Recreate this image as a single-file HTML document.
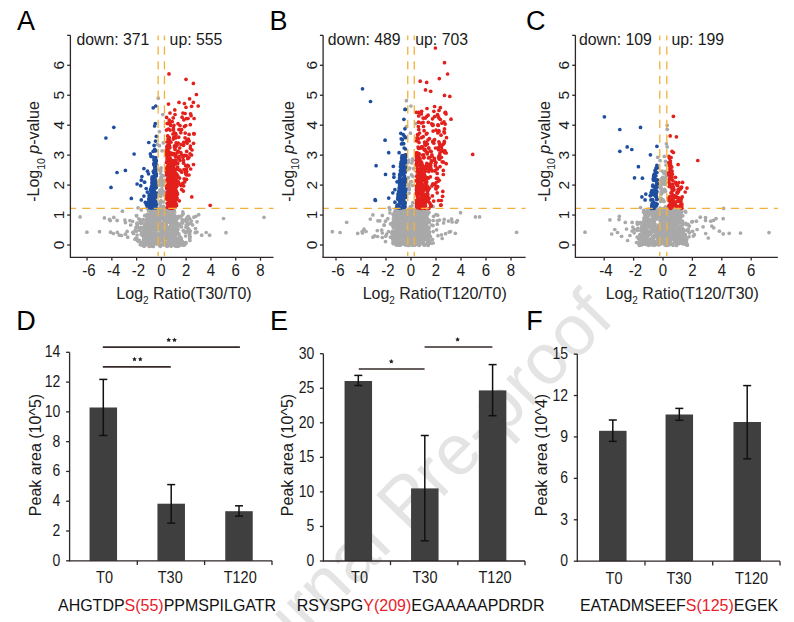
<!DOCTYPE html>
<html><head><meta charset="utf-8"><style>
html,body{margin:0;padding:0;background:#fff;}
svg{display:block;}
text{font-family:"Liberation Sans", sans-serif;}
</style></head><body>
<svg width="794" height="622" viewBox="0 0 794 622">
<text x="229.5" y="715.3" font-size="71.5" fill="#e4e4e4" transform="rotate(-45.6 229.5 715.3)">Journal Pre-proof</text>
<g fill="#a9a9a9"><circle cx="158.3" cy="98.2" r="1.85"/><circle cx="163.3" cy="142.8" r="1.85"/><circle cx="157.3" cy="144.5" r="1.85"/><circle cx="80.1" cy="216.9" r="1.85"/><circle cx="104.4" cy="217.9" r="1.85"/><circle cx="109.5" cy="219.4" r="1.85"/><circle cx="110.3" cy="220.6" r="1.85"/><circle cx="113.8" cy="217.4" r="1.85"/><circle cx="117.1" cy="220.4" r="1.85"/><circle cx="122.4" cy="211.2" r="1.85"/><circle cx="124.9" cy="220.1" r="1.85"/><circle cx="125.4" cy="222.6" r="1.85"/><circle cx="129.9" cy="220.6" r="1.85"/><circle cx="132.5" cy="221.3" r="1.85"/><circle cx="130.7" cy="225.0" r="1.85"/><circle cx="138.0" cy="207.8" r="1.85"/><circle cx="141.3" cy="210.0" r="1.85"/><circle cx="86.9" cy="232.2" r="1.85"/><circle cx="99.5" cy="231.7" r="1.85"/><circle cx="110.6" cy="232.2" r="1.85"/><circle cx="113.3" cy="233.5" r="1.85"/><circle cx="117.3" cy="232.4" r="1.85"/><circle cx="119.4" cy="235.2" r="1.85"/><circle cx="121.4" cy="235.5" r="1.85"/><circle cx="125.4" cy="234.2" r="1.85"/><circle cx="127.2" cy="231.4" r="1.85"/><circle cx="127.7" cy="237.2" r="1.85"/><circle cx="133.5" cy="233.5" r="1.85"/><circle cx="135.0" cy="239.3" r="1.85"/><circle cx="139.3" cy="240.5" r="1.85"/><circle cx="141.7" cy="244.8" r="1.85"/><circle cx="182.8" cy="211.9" r="1.85"/><circle cx="183.2" cy="213.8" r="1.85"/><circle cx="180.7" cy="217.0" r="1.85"/><circle cx="188.2" cy="216.3" r="1.85"/><circle cx="193.9" cy="217.2" r="1.85"/><circle cx="195.8" cy="216.3" r="1.85"/><circle cx="198.7" cy="214.7" r="1.85"/><circle cx="223.5" cy="218.5" r="1.85"/><circle cx="264.0" cy="217.3" r="1.85"/><circle cx="185.7" cy="220.7" r="1.85"/><circle cx="191.4" cy="221.1" r="1.85"/><circle cx="197.0" cy="221.8" r="1.85"/><circle cx="188.2" cy="224.5" r="1.85"/><circle cx="192.6" cy="224.9" r="1.85"/><circle cx="195.5" cy="228.6" r="1.85"/><circle cx="188.6" cy="232.1" r="1.85"/><circle cx="190.4" cy="231.1" r="1.85"/><circle cx="195.2" cy="232.7" r="1.85"/><circle cx="197.0" cy="232.1" r="1.85"/><circle cx="201.7" cy="235.2" r="1.85"/><circle cx="206.2" cy="232.5" r="1.85"/><circle cx="209.6" cy="235.2" r="1.85"/><circle cx="226.0" cy="232.7" r="1.85"/><circle cx="189.9" cy="240.5" r="1.85"/><circle cx="185.7" cy="242.8" r="1.85"/><circle cx="180.7" cy="244.7" r="1.85"/><circle cx="159.0" cy="229.8" r="1.85"/><circle cx="161.3" cy="230.8" r="1.85"/><circle cx="147.8" cy="228.0" r="1.85"/><circle cx="166.5" cy="238.6" r="1.85"/><circle cx="143.8" cy="239.3" r="1.85"/><circle cx="169.1" cy="210.1" r="1.85"/><circle cx="167.5" cy="231.9" r="1.85"/><circle cx="162.2" cy="210.8" r="1.85"/><circle cx="148.0" cy="217.7" r="1.85"/><circle cx="158.5" cy="240.5" r="1.85"/><circle cx="161.8" cy="232.8" r="1.85"/><circle cx="161.0" cy="233.7" r="1.85"/><circle cx="159.2" cy="219.1" r="1.85"/><circle cx="175.3" cy="235.4" r="1.85"/><circle cx="153.2" cy="217.2" r="1.85"/><circle cx="152.1" cy="211.2" r="1.85"/><circle cx="172.2" cy="223.7" r="1.85"/><circle cx="175.6" cy="223.2" r="1.85"/><circle cx="180.2" cy="240.7" r="1.85"/><circle cx="143.1" cy="232.4" r="1.85"/><circle cx="172.7" cy="218.8" r="1.85"/><circle cx="180.5" cy="237.3" r="1.85"/><circle cx="173.5" cy="215.3" r="1.85"/><circle cx="163.5" cy="225.5" r="1.85"/><circle cx="148.0" cy="236.3" r="1.85"/><circle cx="145.5" cy="233.0" r="1.85"/><circle cx="144.9" cy="224.5" r="1.85"/><circle cx="148.9" cy="218.8" r="1.85"/><circle cx="180.8" cy="239.0" r="1.85"/><circle cx="152.8" cy="242.1" r="1.85"/><circle cx="148.8" cy="223.5" r="1.85"/><circle cx="175.9" cy="232.9" r="1.85"/><circle cx="144.2" cy="246.1" r="1.85"/><circle cx="149.0" cy="218.3" r="1.85"/><circle cx="172.5" cy="221.0" r="1.85"/><circle cx="152.4" cy="211.3" r="1.85"/><circle cx="143.8" cy="230.6" r="1.85"/><circle cx="150.2" cy="231.3" r="1.85"/><circle cx="155.6" cy="225.7" r="1.85"/><circle cx="164.1" cy="241.4" r="1.85"/><circle cx="147.7" cy="214.4" r="1.85"/><circle cx="178.2" cy="239.6" r="1.85"/><circle cx="150.5" cy="215.7" r="1.85"/><circle cx="171.1" cy="244.2" r="1.85"/><circle cx="148.3" cy="244.6" r="1.85"/><circle cx="177.1" cy="231.4" r="1.85"/><circle cx="157.7" cy="212.4" r="1.85"/><circle cx="150.0" cy="235.3" r="1.85"/><circle cx="150.8" cy="239.8" r="1.85"/><circle cx="165.1" cy="219.7" r="1.85"/><circle cx="147.4" cy="235.9" r="1.85"/><circle cx="163.5" cy="240.9" r="1.85"/><circle cx="165.8" cy="219.1" r="1.85"/><circle cx="158.7" cy="210.8" r="1.85"/><circle cx="147.4" cy="222.5" r="1.85"/><circle cx="164.0" cy="213.5" r="1.85"/><circle cx="155.2" cy="242.4" r="1.85"/><circle cx="169.0" cy="230.7" r="1.85"/><circle cx="169.4" cy="245.1" r="1.85"/><circle cx="160.3" cy="236.3" r="1.85"/><circle cx="153.4" cy="246.5" r="1.85"/><circle cx="171.0" cy="242.7" r="1.85"/><circle cx="171.0" cy="235.2" r="1.85"/><circle cx="173.3" cy="243.3" r="1.85"/><circle cx="154.8" cy="234.5" r="1.85"/><circle cx="177.8" cy="241.6" r="1.85"/><circle cx="157.5" cy="238.5" r="1.85"/><circle cx="176.3" cy="230.3" r="1.85"/><circle cx="166.2" cy="223.0" r="1.85"/><circle cx="164.5" cy="231.6" r="1.85"/><circle cx="143.4" cy="232.8" r="1.85"/><circle cx="170.6" cy="223.3" r="1.85"/><circle cx="170.9" cy="230.6" r="1.85"/><circle cx="158.5" cy="240.4" r="1.85"/><circle cx="143.5" cy="237.0" r="1.85"/><circle cx="160.2" cy="217.2" r="1.85"/><circle cx="169.3" cy="227.4" r="1.85"/><circle cx="165.8" cy="243.5" r="1.85"/><circle cx="150.7" cy="208.9" r="1.85"/><circle cx="152.6" cy="234.3" r="1.85"/><circle cx="148.5" cy="214.9" r="1.85"/><circle cx="178.0" cy="233.6" r="1.85"/><circle cx="158.6" cy="242.4" r="1.85"/><circle cx="153.7" cy="233.8" r="1.85"/><circle cx="148.3" cy="224.9" r="1.85"/><circle cx="173.9" cy="243.2" r="1.85"/><circle cx="177.0" cy="223.1" r="1.85"/><circle cx="164.5" cy="220.5" r="1.85"/><circle cx="145.7" cy="227.4" r="1.85"/><circle cx="175.2" cy="240.8" r="1.85"/><circle cx="169.9" cy="244.6" r="1.85"/><circle cx="151.6" cy="214.9" r="1.85"/><circle cx="158.9" cy="219.0" r="1.85"/><circle cx="149.0" cy="224.2" r="1.85"/><circle cx="166.3" cy="227.3" r="1.85"/><circle cx="153.2" cy="240.4" r="1.85"/><circle cx="169.8" cy="230.2" r="1.85"/><circle cx="153.0" cy="238.6" r="1.85"/><circle cx="159.1" cy="209.4" r="1.85"/><circle cx="174.8" cy="217.5" r="1.85"/><circle cx="166.4" cy="225.5" r="1.85"/><circle cx="166.5" cy="233.4" r="1.85"/><circle cx="173.9" cy="244.9" r="1.85"/><circle cx="168.7" cy="216.1" r="1.85"/><circle cx="160.0" cy="215.3" r="1.85"/><circle cx="170.0" cy="215.3" r="1.85"/><circle cx="151.4" cy="221.6" r="1.85"/><circle cx="169.3" cy="228.3" r="1.85"/><circle cx="165.8" cy="237.2" r="1.85"/><circle cx="156.5" cy="238.6" r="1.85"/><circle cx="179.2" cy="236.0" r="1.85"/><circle cx="145.5" cy="225.7" r="1.85"/><circle cx="166.3" cy="243.1" r="1.85"/><circle cx="155.8" cy="230.1" r="1.85"/><circle cx="176.9" cy="238.8" r="1.85"/><circle cx="167.4" cy="216.3" r="1.85"/><circle cx="170.3" cy="239.6" r="1.85"/><circle cx="166.9" cy="235.8" r="1.85"/><circle cx="149.0" cy="242.7" r="1.85"/><circle cx="162.6" cy="238.5" r="1.85"/><circle cx="153.5" cy="243.1" r="1.85"/><circle cx="175.9" cy="221.7" r="1.85"/><circle cx="163.1" cy="237.7" r="1.85"/><circle cx="160.5" cy="209.6" r="1.85"/><circle cx="174.0" cy="210.9" r="1.85"/><circle cx="173.6" cy="215.1" r="1.85"/><circle cx="154.1" cy="238.4" r="1.85"/><circle cx="161.7" cy="236.0" r="1.85"/><circle cx="175.3" cy="234.7" r="1.85"/><circle cx="149.3" cy="228.5" r="1.85"/><circle cx="152.2" cy="236.2" r="1.85"/><circle cx="166.8" cy="228.4" r="1.85"/><circle cx="175.4" cy="229.8" r="1.85"/><circle cx="153.1" cy="223.0" r="1.85"/><circle cx="175.5" cy="242.7" r="1.85"/><circle cx="148.7" cy="240.8" r="1.85"/><circle cx="164.1" cy="216.1" r="1.85"/><circle cx="162.5" cy="227.6" r="1.85"/><circle cx="165.4" cy="209.6" r="1.85"/><circle cx="156.8" cy="238.9" r="1.85"/><circle cx="163.6" cy="227.2" r="1.85"/><circle cx="169.0" cy="211.0" r="1.85"/><circle cx="162.6" cy="224.2" r="1.85"/><circle cx="180.2" cy="243.6" r="1.85"/><circle cx="151.3" cy="226.5" r="1.85"/><circle cx="145.3" cy="225.0" r="1.85"/><circle cx="174.3" cy="242.7" r="1.85"/><circle cx="160.0" cy="220.6" r="1.85"/><circle cx="148.0" cy="232.0" r="1.85"/><circle cx="172.7" cy="209.4" r="1.85"/><circle cx="148.2" cy="217.1" r="1.85"/><circle cx="168.9" cy="220.7" r="1.85"/><circle cx="154.9" cy="232.1" r="1.85"/><circle cx="144.4" cy="236.3" r="1.85"/><circle cx="145.2" cy="227.9" r="1.85"/><circle cx="150.5" cy="216.0" r="1.85"/><circle cx="162.3" cy="225.1" r="1.85"/><circle cx="155.8" cy="224.2" r="1.85"/><circle cx="162.2" cy="214.6" r="1.85"/><circle cx="148.6" cy="232.5" r="1.85"/><circle cx="166.8" cy="228.6" r="1.85"/><circle cx="175.8" cy="231.7" r="1.85"/><circle cx="171.1" cy="239.3" r="1.85"/><circle cx="153.2" cy="243.6" r="1.85"/><circle cx="149.2" cy="246.4" r="1.85"/><circle cx="150.1" cy="236.1" r="1.85"/><circle cx="150.9" cy="212.2" r="1.85"/><circle cx="175.0" cy="224.5" r="1.85"/><circle cx="173.2" cy="213.3" r="1.85"/><circle cx="156.9" cy="234.5" r="1.85"/><circle cx="168.7" cy="243.1" r="1.85"/><circle cx="161.2" cy="237.3" r="1.85"/><circle cx="161.1" cy="234.6" r="1.85"/><circle cx="163.2" cy="228.1" r="1.85"/><circle cx="163.9" cy="214.1" r="1.85"/><circle cx="147.8" cy="216.2" r="1.85"/><circle cx="175.3" cy="246.1" r="1.85"/><circle cx="142.6" cy="244.7" r="1.85"/><circle cx="159.4" cy="237.6" r="1.85"/><circle cx="153.7" cy="226.2" r="1.85"/><circle cx="161.6" cy="224.8" r="1.85"/><circle cx="165.2" cy="209.0" r="1.85"/><circle cx="169.4" cy="240.6" r="1.85"/><circle cx="147.6" cy="225.8" r="1.85"/><circle cx="171.1" cy="223.9" r="1.85"/><circle cx="148.2" cy="214.8" r="1.85"/><circle cx="161.5" cy="209.1" r="1.85"/><circle cx="177.5" cy="239.0" r="1.85"/><circle cx="169.6" cy="241.2" r="1.85"/><circle cx="166.4" cy="223.9" r="1.85"/><circle cx="165.2" cy="227.7" r="1.85"/><circle cx="181.3" cy="239.1" r="1.85"/><circle cx="150.8" cy="243.1" r="1.85"/><circle cx="171.3" cy="238.1" r="1.85"/><circle cx="174.2" cy="223.9" r="1.85"/><circle cx="177.7" cy="241.9" r="1.85"/><circle cx="169.2" cy="237.7" r="1.85"/><circle cx="172.1" cy="223.9" r="1.85"/><circle cx="170.4" cy="211.2" r="1.85"/><circle cx="154.4" cy="226.3" r="1.85"/><circle cx="166.8" cy="232.2" r="1.85"/><circle cx="149.7" cy="244.4" r="1.85"/><circle cx="168.0" cy="221.3" r="1.85"/><circle cx="167.7" cy="230.1" r="1.85"/><circle cx="162.4" cy="223.3" r="1.85"/><circle cx="169.5" cy="237.4" r="1.85"/><circle cx="165.8" cy="236.6" r="1.85"/><circle cx="150.8" cy="223.8" r="1.85"/><circle cx="155.8" cy="212.2" r="1.85"/><circle cx="150.5" cy="242.9" r="1.85"/><circle cx="163.1" cy="227.8" r="1.85"/><circle cx="174.0" cy="211.4" r="1.85"/><circle cx="165.1" cy="237.4" r="1.85"/><circle cx="141.9" cy="243.8" r="1.85"/><circle cx="146.7" cy="226.4" r="1.85"/><circle cx="147.1" cy="227.3" r="1.85"/><circle cx="165.7" cy="210.7" r="1.85"/><circle cx="162.1" cy="231.2" r="1.85"/><circle cx="155.4" cy="219.4" r="1.85"/><circle cx="167.5" cy="229.8" r="1.85"/><circle cx="151.9" cy="235.7" r="1.85"/><circle cx="152.4" cy="209.0" r="1.85"/><circle cx="150.3" cy="210.1" r="1.85"/><circle cx="146.6" cy="237.2" r="1.85"/><circle cx="156.4" cy="242.6" r="1.85"/><circle cx="171.4" cy="210.4" r="1.85"/><circle cx="143.1" cy="242.9" r="1.85"/><circle cx="158.0" cy="226.6" r="1.85"/><circle cx="162.0" cy="244.1" r="1.85"/><circle cx="170.4" cy="226.3" r="1.85"/><circle cx="181.1" cy="239.5" r="1.85"/><circle cx="165.4" cy="212.9" r="1.85"/><circle cx="166.2" cy="225.8" r="1.85"/><circle cx="148.6" cy="210.5" r="1.85"/><circle cx="162.2" cy="213.2" r="1.85"/><circle cx="158.6" cy="233.9" r="1.85"/><circle cx="159.1" cy="218.5" r="1.85"/><circle cx="164.5" cy="224.4" r="1.85"/><circle cx="172.7" cy="228.7" r="1.85"/><circle cx="170.8" cy="217.6" r="1.85"/><circle cx="144.8" cy="242.4" r="1.85"/><circle cx="172.9" cy="232.2" r="1.85"/><circle cx="155.1" cy="218.8" r="1.85"/><circle cx="168.8" cy="230.0" r="1.85"/><circle cx="164.9" cy="232.6" r="1.85"/><circle cx="171.6" cy="215.7" r="1.85"/><circle cx="150.5" cy="245.7" r="1.85"/><circle cx="178.5" cy="241.9" r="1.85"/><circle cx="151.4" cy="224.7" r="1.85"/><circle cx="166.2" cy="212.4" r="1.85"/><circle cx="162.7" cy="211.3" r="1.85"/><circle cx="143.6" cy="234.2" r="1.85"/><circle cx="163.1" cy="232.5" r="1.85"/><circle cx="155.7" cy="226.7" r="1.85"/><circle cx="148.8" cy="221.6" r="1.85"/><circle cx="171.3" cy="240.4" r="1.85"/><circle cx="174.0" cy="232.2" r="1.85"/><circle cx="172.3" cy="216.6" r="1.85"/><circle cx="157.8" cy="218.3" r="1.85"/><circle cx="174.0" cy="222.5" r="1.85"/><circle cx="167.5" cy="246.1" r="1.85"/><circle cx="153.7" cy="229.3" r="1.85"/><circle cx="171.3" cy="243.5" r="1.85"/><circle cx="158.0" cy="222.5" r="1.85"/><circle cx="144.1" cy="241.8" r="1.85"/><circle cx="163.7" cy="226.9" r="1.85"/><circle cx="168.8" cy="219.9" r="1.85"/><circle cx="172.6" cy="211.4" r="1.85"/><circle cx="149.0" cy="233.7" r="1.85"/><circle cx="170.4" cy="234.9" r="1.85"/><circle cx="151.9" cy="213.9" r="1.85"/><circle cx="155.0" cy="236.1" r="1.85"/><circle cx="155.4" cy="213.0" r="1.85"/><circle cx="169.8" cy="230.1" r="1.85"/><circle cx="178.6" cy="244.2" r="1.85"/><circle cx="173.7" cy="220.1" r="1.85"/><circle cx="153.3" cy="223.7" r="1.85"/><circle cx="179.3" cy="242.5" r="1.85"/><circle cx="150.4" cy="222.2" r="1.85"/><circle cx="155.4" cy="222.3" r="1.85"/><circle cx="156.6" cy="223.2" r="1.85"/><circle cx="148.2" cy="229.9" r="1.85"/><circle cx="173.5" cy="229.0" r="1.85"/><circle cx="175.1" cy="229.9" r="1.85"/><circle cx="147.4" cy="237.3" r="1.85"/><circle cx="162.9" cy="230.1" r="1.85"/><circle cx="173.8" cy="210.9" r="1.85"/><circle cx="163.0" cy="238.4" r="1.85"/><circle cx="171.0" cy="242.7" r="1.85"/><circle cx="143.6" cy="232.6" r="1.85"/><circle cx="146.0" cy="236.8" r="1.85"/><circle cx="167.3" cy="217.8" r="1.85"/><circle cx="149.3" cy="237.6" r="1.85"/><circle cx="161.9" cy="237.6" r="1.85"/><circle cx="156.6" cy="221.3" r="1.85"/><circle cx="160.7" cy="228.9" r="1.85"/><circle cx="170.3" cy="235.4" r="1.85"/><circle cx="174.7" cy="233.8" r="1.85"/><circle cx="175.8" cy="239.1" r="1.85"/><circle cx="175.0" cy="242.3" r="1.85"/><circle cx="162.0" cy="235.5" r="1.85"/><circle cx="173.7" cy="224.5" r="1.85"/><circle cx="157.7" cy="214.1" r="1.85"/><circle cx="171.1" cy="246.2" r="1.85"/><circle cx="155.8" cy="214.9" r="1.85"/><circle cx="148.6" cy="224.6" r="1.85"/><circle cx="152.3" cy="245.4" r="1.85"/><circle cx="144.8" cy="233.1" r="1.85"/><circle cx="172.6" cy="215.3" r="1.85"/><circle cx="164.5" cy="243.1" r="1.85"/><circle cx="147.8" cy="216.8" r="1.85"/><circle cx="149.9" cy="235.8" r="1.85"/><circle cx="165.0" cy="217.0" r="1.85"/><circle cx="147.8" cy="219.2" r="1.85"/><circle cx="147.2" cy="237.3" r="1.85"/><circle cx="153.1" cy="229.3" r="1.85"/><circle cx="174.3" cy="226.7" r="1.85"/><circle cx="150.9" cy="242.2" r="1.85"/><circle cx="163.0" cy="244.9" r="1.85"/><circle cx="160.3" cy="216.9" r="1.85"/><circle cx="142.1" cy="244.5" r="1.85"/><circle cx="173.7" cy="223.1" r="1.85"/><circle cx="162.2" cy="228.1" r="1.85"/><circle cx="151.5" cy="246.1" r="1.85"/><circle cx="167.6" cy="217.5" r="1.85"/><circle cx="155.6" cy="238.8" r="1.85"/><circle cx="170.0" cy="231.5" r="1.85"/><circle cx="153.5" cy="218.4" r="1.85"/><circle cx="176.5" cy="228.1" r="1.85"/><circle cx="166.8" cy="246.2" r="1.85"/><circle cx="151.2" cy="228.8" r="1.85"/><circle cx="146.3" cy="237.8" r="1.85"/><circle cx="175.5" cy="239.7" r="1.85"/><circle cx="170.1" cy="212.2" r="1.85"/><circle cx="160.2" cy="226.3" r="1.85"/><circle cx="176.0" cy="220.0" r="1.85"/><circle cx="173.2" cy="224.3" r="1.85"/><circle cx="174.7" cy="216.4" r="1.85"/><circle cx="162.8" cy="228.5" r="1.85"/><circle cx="146.6" cy="240.1" r="1.85"/><circle cx="153.1" cy="220.3" r="1.85"/><circle cx="159.6" cy="235.7" r="1.85"/><circle cx="155.1" cy="234.6" r="1.85"/><circle cx="159.4" cy="245.2" r="1.85"/><circle cx="174.8" cy="233.3" r="1.85"/><circle cx="169.8" cy="217.5" r="1.85"/><circle cx="163.7" cy="225.9" r="1.85"/><circle cx="173.6" cy="216.4" r="1.85"/><circle cx="165.9" cy="219.5" r="1.85"/><circle cx="155.8" cy="229.0" r="1.85"/><circle cx="152.5" cy="221.3" r="1.85"/><circle cx="156.5" cy="233.8" r="1.85"/><circle cx="150.8" cy="216.1" r="1.85"/><circle cx="170.7" cy="221.0" r="1.85"/><circle cx="170.4" cy="221.1" r="1.85"/><circle cx="174.7" cy="212.0" r="1.85"/><circle cx="168.5" cy="235.4" r="1.85"/><circle cx="147.6" cy="223.8" r="1.85"/><circle cx="175.2" cy="231.0" r="1.85"/><circle cx="157.1" cy="211.3" r="1.85"/><circle cx="161.5" cy="233.1" r="1.85"/><circle cx="172.2" cy="239.7" r="1.85"/><circle cx="156.2" cy="221.1" r="1.85"/><circle cx="157.3" cy="209.1" r="1.85"/><circle cx="156.8" cy="235.1" r="1.85"/><circle cx="181.2" cy="238.5" r="1.85"/><circle cx="167.7" cy="231.6" r="1.85"/><circle cx="154.4" cy="233.2" r="1.85"/><circle cx="161.4" cy="238.5" r="1.85"/><circle cx="174.7" cy="231.7" r="1.85"/><circle cx="146.7" cy="237.6" r="1.85"/><circle cx="177.9" cy="229.3" r="1.85"/><circle cx="154.8" cy="227.5" r="1.85"/><circle cx="146.0" cy="235.6" r="1.85"/><circle cx="170.0" cy="240.2" r="1.85"/><circle cx="148.3" cy="244.4" r="1.85"/><circle cx="166.3" cy="216.0" r="1.85"/><circle cx="164.2" cy="235.0" r="1.85"/><circle cx="153.8" cy="243.8" r="1.85"/><circle cx="155.2" cy="226.1" r="1.85"/><circle cx="145.2" cy="245.5" r="1.85"/><circle cx="145.7" cy="242.9" r="1.85"/><circle cx="162.8" cy="229.8" r="1.85"/><circle cx="163.5" cy="218.5" r="1.85"/><circle cx="178.2" cy="246.2" r="1.85"/><circle cx="174.3" cy="231.4" r="1.85"/><circle cx="145.2" cy="239.8" r="1.85"/><circle cx="152.1" cy="242.6" r="1.85"/><circle cx="150.1" cy="230.3" r="1.85"/><circle cx="174.9" cy="215.6" r="1.85"/><circle cx="163.0" cy="211.4" r="1.85"/><circle cx="167.7" cy="220.2" r="1.85"/><circle cx="168.2" cy="236.5" r="1.85"/><circle cx="156.0" cy="231.0" r="1.85"/><circle cx="173.8" cy="209.1" r="1.85"/><circle cx="148.4" cy="226.3" r="1.85"/><circle cx="146.0" cy="223.2" r="1.85"/><circle cx="163.9" cy="215.1" r="1.85"/><circle cx="161.8" cy="218.5" r="1.85"/><circle cx="163.9" cy="221.1" r="1.85"/><circle cx="167.0" cy="209.9" r="1.85"/><circle cx="168.2" cy="214.0" r="1.85"/><circle cx="159.7" cy="224.1" r="1.85"/><circle cx="166.2" cy="234.7" r="1.85"/><circle cx="171.8" cy="237.1" r="1.85"/><circle cx="160.4" cy="246.3" r="1.85"/><circle cx="175.2" cy="241.0" r="1.85"/><circle cx="157.2" cy="225.0" r="1.85"/><circle cx="163.8" cy="242.9" r="1.85"/><circle cx="162.1" cy="228.5" r="1.85"/><circle cx="158.2" cy="242.9" r="1.85"/><circle cx="153.5" cy="210.6" r="1.85"/><circle cx="170.5" cy="242.7" r="1.85"/><circle cx="170.7" cy="231.2" r="1.85"/><circle cx="171.6" cy="220.1" r="1.85"/><circle cx="164.9" cy="211.2" r="1.85"/><circle cx="145.2" cy="225.5" r="1.85"/><circle cx="161.1" cy="223.6" r="1.85"/><circle cx="142.2" cy="234.9" r="1.85"/><circle cx="162.1" cy="217.6" r="1.85"/><circle cx="152.9" cy="223.5" r="1.85"/><circle cx="149.9" cy="211.1" r="1.85"/><circle cx="178.3" cy="245.2" r="1.85"/><circle cx="168.0" cy="241.4" r="1.85"/><circle cx="157.7" cy="239.1" r="1.85"/><circle cx="149.3" cy="236.9" r="1.85"/><circle cx="163.8" cy="242.8" r="1.85"/><circle cx="144.1" cy="238.6" r="1.85"/><circle cx="145.2" cy="228.9" r="1.85"/><circle cx="150.2" cy="219.9" r="1.85"/><circle cx="153.6" cy="210.9" r="1.85"/><circle cx="177.6" cy="239.5" r="1.85"/><circle cx="156.7" cy="222.0" r="1.85"/><circle cx="164.6" cy="210.2" r="1.85"/><circle cx="141.3" cy="242.6" r="1.85"/><circle cx="152.9" cy="227.4" r="1.85"/><circle cx="179.2" cy="245.6" r="1.85"/><circle cx="159.9" cy="216.3" r="1.85"/><circle cx="152.4" cy="243.6" r="1.85"/><circle cx="175.2" cy="222.0" r="1.85"/><circle cx="159.8" cy="215.0" r="1.85"/><circle cx="176.9" cy="246.3" r="1.85"/><circle cx="148.5" cy="232.5" r="1.85"/><circle cx="148.0" cy="241.9" r="1.85"/><circle cx="170.5" cy="220.4" r="1.85"/><circle cx="177.8" cy="241.5" r="1.85"/><circle cx="170.0" cy="213.6" r="1.85"/><circle cx="169.2" cy="244.1" r="1.85"/><circle cx="158.7" cy="211.5" r="1.85"/><circle cx="149.4" cy="220.2" r="1.85"/><circle cx="169.8" cy="216.0" r="1.85"/><circle cx="147.6" cy="217.4" r="1.85"/><circle cx="167.9" cy="238.5" r="1.85"/><circle cx="155.6" cy="233.7" r="1.85"/><circle cx="177.1" cy="230.9" r="1.85"/><circle cx="149.6" cy="219.9" r="1.85"/><circle cx="178.9" cy="233.8" r="1.85"/><circle cx="151.6" cy="232.8" r="1.85"/><circle cx="143.8" cy="245.9" r="1.85"/><circle cx="158.5" cy="228.6" r="1.85"/><circle cx="162.3" cy="210.2" r="1.85"/><circle cx="165.2" cy="219.3" r="1.85"/><circle cx="150.5" cy="239.0" r="1.85"/><circle cx="171.7" cy="217.8" r="1.85"/><circle cx="151.7" cy="229.3" r="1.85"/><circle cx="147.8" cy="242.6" r="1.85"/><circle cx="159.4" cy="237.0" r="1.85"/><circle cx="156.2" cy="243.8" r="1.85"/><circle cx="161.0" cy="215.3" r="1.85"/><circle cx="163.4" cy="233.0" r="1.85"/><circle cx="155.1" cy="233.5" r="1.85"/><circle cx="172.9" cy="228.1" r="1.85"/><circle cx="161.2" cy="240.6" r="1.85"/><circle cx="168.7" cy="228.3" r="1.85"/><circle cx="172.7" cy="214.8" r="1.85"/><circle cx="165.5" cy="217.4" r="1.85"/><circle cx="158.5" cy="237.9" r="1.85"/><circle cx="173.0" cy="238.6" r="1.85"/><circle cx="149.9" cy="227.1" r="1.85"/><circle cx="149.3" cy="230.5" r="1.85"/><circle cx="161.0" cy="209.8" r="1.85"/><circle cx="165.1" cy="235.7" r="1.85"/><circle cx="164.1" cy="241.7" r="1.85"/><circle cx="147.6" cy="214.3" r="1.85"/><circle cx="158.3" cy="225.3" r="1.85"/><circle cx="151.0" cy="238.8" r="1.85"/><circle cx="143.0" cy="243.0" r="1.85"/><circle cx="163.9" cy="229.1" r="1.85"/><circle cx="173.2" cy="217.5" r="1.85"/><circle cx="146.1" cy="220.3" r="1.85"/><circle cx="166.1" cy="228.5" r="1.85"/><circle cx="151.1" cy="230.9" r="1.85"/><circle cx="143.7" cy="239.7" r="1.85"/><circle cx="147.2" cy="218.2" r="1.85"/><circle cx="146.7" cy="234.7" r="1.85"/><circle cx="174.9" cy="238.4" r="1.85"/><circle cx="155.3" cy="216.7" r="1.85"/><circle cx="160.6" cy="237.4" r="1.85"/><circle cx="159.1" cy="236.8" r="1.85"/><circle cx="156.5" cy="219.8" r="1.85"/><circle cx="157.8" cy="211.4" r="1.85"/><circle cx="172.1" cy="236.4" r="1.85"/><circle cx="149.7" cy="218.1" r="1.85"/><circle cx="163.2" cy="217.7" r="1.85"/><circle cx="159.4" cy="243.9" r="1.85"/><circle cx="155.3" cy="221.3" r="1.85"/><circle cx="167.3" cy="210.7" r="1.85"/><circle cx="154.4" cy="234.9" r="1.85"/><circle cx="176.3" cy="230.9" r="1.85"/><circle cx="177.2" cy="226.1" r="1.85"/><circle cx="156.5" cy="240.5" r="1.85"/><circle cx="156.0" cy="238.2" r="1.85"/><circle cx="149.0" cy="221.7" r="1.85"/><circle cx="147.7" cy="229.4" r="1.85"/><circle cx="146.9" cy="216.2" r="1.85"/><circle cx="149.0" cy="226.3" r="1.85"/><circle cx="153.0" cy="225.5" r="1.85"/><circle cx="156.1" cy="211.3" r="1.85"/><circle cx="169.0" cy="222.3" r="1.85"/><circle cx="151.5" cy="209.2" r="1.85"/><circle cx="147.6" cy="218.5" r="1.85"/><circle cx="156.5" cy="243.6" r="1.85"/><circle cx="170.0" cy="218.7" r="1.85"/><circle cx="155.2" cy="214.3" r="1.85"/><circle cx="172.2" cy="236.0" r="1.85"/><circle cx="153.5" cy="223.1" r="1.85"/><circle cx="143.5" cy="242.0" r="1.85"/><circle cx="153.7" cy="237.8" r="1.85"/><circle cx="161.8" cy="210.6" r="1.85"/><circle cx="156.5" cy="217.6" r="1.85"/><circle cx="165.0" cy="209.7" r="1.85"/><circle cx="153.1" cy="224.6" r="1.85"/><circle cx="162.8" cy="213.7" r="1.85"/><circle cx="169.7" cy="218.4" r="1.85"/><circle cx="170.5" cy="233.8" r="1.85"/><circle cx="151.8" cy="235.6" r="1.85"/><circle cx="157.0" cy="223.2" r="1.85"/><circle cx="152.3" cy="221.6" r="1.85"/><circle cx="149.1" cy="210.0" r="1.85"/><circle cx="163.8" cy="239.2" r="1.85"/><circle cx="168.2" cy="243.4" r="1.85"/><circle cx="149.1" cy="234.7" r="1.85"/><circle cx="168.0" cy="244.8" r="1.85"/><circle cx="166.6" cy="211.9" r="1.85"/><circle cx="158.0" cy="223.4" r="1.85"/><circle cx="153.8" cy="227.4" r="1.85"/><circle cx="151.8" cy="214.5" r="1.85"/><circle cx="156.9" cy="226.6" r="1.85"/><circle cx="147.0" cy="233.8" r="1.85"/><circle cx="150.1" cy="212.0" r="1.85"/><circle cx="154.4" cy="224.5" r="1.85"/><circle cx="146.3" cy="230.6" r="1.85"/><circle cx="169.5" cy="229.5" r="1.85"/><circle cx="169.4" cy="209.4" r="1.85"/><circle cx="156.4" cy="222.3" r="1.85"/><circle cx="164.6" cy="226.3" r="1.85"/><circle cx="153.7" cy="218.1" r="1.85"/><circle cx="177.5" cy="230.0" r="1.85"/><circle cx="151.0" cy="233.9" r="1.85"/><circle cx="147.8" cy="226.3" r="1.85"/><circle cx="165.8" cy="244.8" r="1.85"/><circle cx="155.2" cy="230.4" r="1.85"/><circle cx="179.6" cy="237.8" r="1.85"/><circle cx="166.3" cy="232.1" r="1.85"/><circle cx="157.3" cy="224.3" r="1.85"/><circle cx="151.6" cy="240.0" r="1.85"/><circle cx="176.9" cy="223.0" r="1.85"/><circle cx="145.7" cy="227.8" r="1.85"/><circle cx="153.0" cy="222.2" r="1.85"/><circle cx="148.1" cy="217.2" r="1.85"/><circle cx="168.6" cy="217.4" r="1.85"/><circle cx="156.5" cy="217.6" r="1.85"/><circle cx="160.7" cy="233.2" r="1.85"/><circle cx="163.0" cy="232.2" r="1.85"/><circle cx="163.6" cy="240.1" r="1.85"/><circle cx="154.6" cy="242.2" r="1.85"/><circle cx="153.2" cy="235.7" r="1.85"/><circle cx="169.2" cy="234.6" r="1.85"/><circle cx="180.5" cy="239.8" r="1.85"/><circle cx="146.7" cy="232.1" r="1.85"/><circle cx="160.6" cy="229.9" r="1.85"/><circle cx="155.5" cy="219.4" r="1.85"/><circle cx="171.5" cy="228.8" r="1.85"/><circle cx="150.0" cy="218.0" r="1.85"/><circle cx="153.6" cy="215.3" r="1.85"/><circle cx="161.6" cy="213.3" r="1.85"/><circle cx="144.3" cy="235.3" r="1.85"/><circle cx="144.7" cy="225.7" r="1.85"/><circle cx="172.4" cy="226.8" r="1.85"/><circle cx="146.8" cy="241.4" r="1.85"/><circle cx="150.7" cy="227.8" r="1.85"/><circle cx="173.5" cy="223.4" r="1.85"/><circle cx="170.1" cy="218.1" r="1.85"/><circle cx="170.1" cy="220.9" r="1.85"/><circle cx="154.0" cy="237.4" r="1.85"/><circle cx="175.4" cy="240.0" r="1.85"/><circle cx="163.8" cy="224.5" r="1.85"/><circle cx="169.7" cy="232.2" r="1.85"/><circle cx="174.9" cy="238.9" r="1.85"/><circle cx="145.3" cy="222.8" r="1.85"/><circle cx="141.4" cy="222.3" r="1.85"/><circle cx="140.2" cy="244.6" r="1.85"/><circle cx="141.6" cy="228.2" r="1.85"/><circle cx="140.8" cy="227.5" r="1.85"/><circle cx="136.0" cy="238.0" r="1.85"/><circle cx="136.6" cy="215.8" r="1.85"/><circle cx="139.6" cy="230.2" r="1.85"/><circle cx="137.2" cy="224.7" r="1.85"/><circle cx="136.0" cy="227.3" r="1.85"/><circle cx="141.7" cy="232.2" r="1.85"/><circle cx="143.2" cy="219.6" r="1.85"/><circle cx="138.8" cy="218.8" r="1.85"/><circle cx="136.5" cy="215.6" r="1.85"/><circle cx="139.9" cy="219.5" r="1.85"/><circle cx="140.8" cy="223.6" r="1.85"/><circle cx="135.2" cy="230.2" r="1.85"/><circle cx="137.1" cy="223.2" r="1.85"/><circle cx="144.5" cy="224.7" r="1.85"/><circle cx="138.8" cy="228.1" r="1.85"/><circle cx="143.3" cy="227.5" r="1.85"/><circle cx="132.8" cy="232.3" r="1.85"/><circle cx="141.2" cy="234.6" r="1.85"/><circle cx="138.2" cy="241.3" r="1.85"/><circle cx="142.1" cy="220.5" r="1.85"/><circle cx="137.0" cy="238.7" r="1.85"/><circle cx="136.3" cy="231.2" r="1.85"/><circle cx="145.4" cy="215.3" r="1.85"/><circle cx="139.4" cy="240.5" r="1.85"/><circle cx="137.6" cy="240.3" r="1.85"/><circle cx="141.9" cy="222.9" r="1.85"/><circle cx="144.7" cy="215.7" r="1.85"/><circle cx="140.1" cy="222.2" r="1.85"/><circle cx="137.4" cy="226.6" r="1.85"/><circle cx="137.1" cy="235.1" r="1.85"/><circle cx="137.0" cy="223.8" r="1.85"/><circle cx="190.5" cy="223.1" r="1.85"/><circle cx="177.5" cy="223.6" r="1.85"/><circle cx="187.9" cy="219.3" r="1.85"/><circle cx="187.9" cy="230.8" r="1.85"/><circle cx="186.9" cy="218.1" r="1.85"/><circle cx="177.7" cy="216.9" r="1.85"/><circle cx="181.6" cy="226.9" r="1.85"/><circle cx="182.5" cy="223.1" r="1.85"/><circle cx="184.6" cy="244.9" r="1.85"/><circle cx="182.9" cy="245.2" r="1.85"/><circle cx="179.5" cy="226.1" r="1.85"/><circle cx="187.3" cy="218.1" r="1.85"/><circle cx="178.9" cy="224.3" r="1.85"/><circle cx="186.2" cy="225.0" r="1.85"/><circle cx="186.3" cy="219.3" r="1.85"/><circle cx="185.9" cy="242.6" r="1.85"/><circle cx="189.7" cy="233.7" r="1.85"/><circle cx="184.1" cy="231.6" r="1.85"/><circle cx="187.0" cy="227.6" r="1.85"/><circle cx="186.6" cy="226.5" r="1.85"/><circle cx="182.2" cy="219.9" r="1.85"/><circle cx="185.6" cy="231.8" r="1.85"/><circle cx="186.0" cy="227.4" r="1.85"/><circle cx="185.5" cy="232.5" r="1.85"/><circle cx="187.8" cy="222.8" r="1.85"/><circle cx="182.4" cy="241.9" r="1.85"/><circle cx="183.9" cy="220.1" r="1.85"/><circle cx="189.4" cy="234.4" r="1.85"/><circle cx="188.8" cy="229.7" r="1.85"/><circle cx="189.9" cy="236.6" r="1.85"/><circle cx="183.3" cy="230.5" r="1.85"/><circle cx="189.8" cy="218.8" r="1.85"/><circle cx="188.6" cy="228.9" r="1.85"/><circle cx="189.7" cy="238.6" r="1.85"/><circle cx="184.8" cy="243.2" r="1.85"/><circle cx="188.7" cy="217.2" r="1.85"/><circle cx="181.9" cy="215.5" r="1.85"/><circle cx="177.9" cy="218.3" r="1.85"/><circle cx="182.2" cy="241.3" r="1.85"/><circle cx="185.9" cy="243.1" r="1.85"/><circle cx="190.0" cy="237.1" r="1.85"/><circle cx="181.4" cy="222.9" r="1.85"/><circle cx="186.1" cy="221.6" r="1.85"/><circle cx="185.6" cy="236.0" r="1.85"/><circle cx="178.9" cy="216.4" r="1.85"/><circle cx="162.5" cy="185.3" r="1.85"/><circle cx="159.3" cy="170.0" r="1.85"/><circle cx="163.9" cy="191.5" r="1.85"/><circle cx="160.6" cy="173.5" r="1.85"/><circle cx="164.2" cy="195.1" r="1.85"/><circle cx="162.7" cy="180.7" r="1.85"/><circle cx="160.3" cy="182.8" r="1.85"/><circle cx="159.4" cy="192.5" r="1.85"/><circle cx="161.0" cy="200.7" r="1.85"/><circle cx="160.9" cy="184.9" r="1.85"/><circle cx="161.4" cy="206.0" r="1.85"/><circle cx="160.5" cy="195.6" r="1.85"/><circle cx="159.9" cy="190.2" r="1.85"/><circle cx="160.2" cy="203.0" r="1.85"/><circle cx="160.2" cy="202.2" r="1.85"/><circle cx="162.4" cy="184.8" r="1.85"/><circle cx="163.8" cy="181.9" r="1.85"/><circle cx="162.8" cy="191.2" r="1.85"/><circle cx="161.1" cy="167.8" r="1.85"/><circle cx="160.9" cy="177.2" r="1.85"/><circle cx="161.1" cy="206.5" r="1.85"/><circle cx="160.2" cy="195.2" r="1.85"/><circle cx="162.4" cy="175.6" r="1.85"/><circle cx="160.9" cy="170.7" r="1.85"/><circle cx="163.6" cy="175.9" r="1.85"/><circle cx="161.0" cy="179.9" r="1.85"/><circle cx="163.2" cy="202.0" r="1.85"/><circle cx="161.9" cy="188.7" r="1.85"/><circle cx="159.2" cy="204.0" r="1.85"/><circle cx="159.1" cy="180.8" r="1.85"/><circle cx="160.7" cy="196.5" r="1.85"/><circle cx="162.3" cy="180.0" r="1.85"/><circle cx="163.6" cy="206.3" r="1.85"/><circle cx="158.7" cy="192.5" r="1.85"/><circle cx="161.2" cy="180.7" r="1.85"/><circle cx="161.2" cy="178.7" r="1.85"/><circle cx="162.4" cy="191.3" r="1.85"/><circle cx="164.0" cy="207.5" r="1.85"/><circle cx="164.2" cy="182.2" r="1.85"/><circle cx="163.2" cy="193.3" r="1.85"/><circle cx="162.5" cy="208.4" r="1.85"/><circle cx="159.0" cy="185.1" r="1.85"/><circle cx="160.8" cy="193.5" r="1.85"/><circle cx="159.8" cy="208.1" r="1.85"/><circle cx="159.8" cy="181.1" r="1.85"/><circle cx="159.4" cy="131.7" r="1.85"/><circle cx="162.8" cy="114.6" r="1.85"/><circle cx="159.5" cy="145.7" r="1.85"/><circle cx="162.1" cy="150.8" r="1.85"/></g><g fill="#1f4ea0"><circle cx="113.8" cy="127.3" r="1.85"/><circle cx="105.9" cy="138.0" r="1.85"/><circle cx="134.1" cy="154.0" r="1.85"/><circle cx="153.2" cy="107.8" r="1.85"/><circle cx="155.8" cy="106.0" r="1.85"/><circle cx="154.6" cy="126.0" r="1.85"/><circle cx="155.3" cy="123.5" r="1.85"/><circle cx="156.3" cy="136.3" r="1.85"/><circle cx="148.8" cy="142.5" r="1.85"/><circle cx="155.5" cy="141.1" r="1.85"/><circle cx="154.1" cy="145.4" r="1.85"/><circle cx="150.4" cy="153.9" r="1.85"/><circle cx="153.2" cy="151.3" r="1.85"/><circle cx="155.7" cy="150.8" r="1.85"/><circle cx="151.0" cy="156.4" r="1.85"/><circle cx="153.2" cy="157.0" r="1.85"/><circle cx="143.9" cy="168.6" r="1.85"/><circle cx="147.5" cy="171.2" r="1.85"/><circle cx="148.5" cy="173.8" r="1.85"/><circle cx="125.4" cy="170.4" r="1.85"/><circle cx="117.0" cy="172.5" r="1.85"/><circle cx="111.0" cy="187.4" r="1.85"/><circle cx="141.9" cy="176.6" r="1.85"/><circle cx="141.3" cy="180.2" r="1.85"/><circle cx="144.6" cy="182.2" r="1.85"/><circle cx="137.1" cy="184.0" r="1.85"/><circle cx="140.7" cy="185.7" r="1.85"/><circle cx="146.2" cy="188.5" r="1.85"/><circle cx="147.3" cy="192.1" r="1.85"/><circle cx="143.9" cy="196.1" r="1.85"/><circle cx="131.3" cy="198.4" r="1.85"/><circle cx="141.3" cy="199.9" r="1.85"/><circle cx="145.3" cy="202.3" r="1.85"/><circle cx="146.4" cy="204.8" r="1.85"/><circle cx="149.0" cy="199.3" r="1.85"/><circle cx="153.8" cy="197.6" r="1.85"/><circle cx="155.9" cy="203.4" r="1.85"/><circle cx="151.8" cy="185.9" r="1.85"/><circle cx="154.2" cy="172.0" r="1.85"/><circle cx="152.0" cy="182.3" r="1.85"/><circle cx="154.9" cy="165.1" r="1.85"/><circle cx="154.9" cy="167.5" r="1.85"/><circle cx="156.1" cy="185.5" r="1.85"/><circle cx="150.5" cy="189.7" r="1.85"/><circle cx="155.1" cy="206.7" r="1.85"/><circle cx="153.8" cy="194.6" r="1.85"/><circle cx="149.5" cy="206.9" r="1.85"/><circle cx="152.9" cy="201.1" r="1.85"/><circle cx="147.6" cy="204.6" r="1.85"/><circle cx="153.0" cy="203.0" r="1.85"/><circle cx="155.9" cy="187.5" r="1.85"/><circle cx="151.5" cy="203.8" r="1.85"/><circle cx="153.8" cy="172.5" r="1.85"/><circle cx="151.9" cy="179.4" r="1.85"/><circle cx="153.9" cy="183.6" r="1.85"/><circle cx="156.1" cy="160.3" r="1.85"/><circle cx="152.4" cy="206.6" r="1.85"/><circle cx="152.5" cy="188.6" r="1.85"/><circle cx="151.6" cy="196.6" r="1.85"/><circle cx="154.4" cy="180.6" r="1.85"/><circle cx="155.0" cy="179.5" r="1.85"/><circle cx="147.3" cy="207.7" r="1.85"/><circle cx="154.8" cy="175.9" r="1.85"/><circle cx="149.7" cy="199.7" r="1.85"/><circle cx="154.3" cy="191.2" r="1.85"/><circle cx="152.0" cy="205.0" r="1.85"/><circle cx="155.8" cy="196.5" r="1.85"/><circle cx="153.8" cy="180.3" r="1.85"/><circle cx="153.2" cy="207.7" r="1.85"/><circle cx="155.6" cy="163.6" r="1.85"/><circle cx="154.3" cy="181.4" r="1.85"/><circle cx="154.0" cy="178.3" r="1.85"/><circle cx="153.8" cy="163.5" r="1.85"/><circle cx="153.1" cy="186.6" r="1.85"/><circle cx="149.6" cy="206.3" r="1.85"/><circle cx="152.1" cy="204.7" r="1.85"/><circle cx="151.8" cy="200.7" r="1.85"/><circle cx="147.7" cy="202.4" r="1.85"/><circle cx="153.2" cy="205.0" r="1.85"/><circle cx="151.4" cy="193.4" r="1.85"/><circle cx="150.4" cy="197.8" r="1.85"/><circle cx="152.4" cy="185.2" r="1.85"/><circle cx="154.9" cy="177.4" r="1.85"/><circle cx="152.3" cy="183.3" r="1.85"/><circle cx="156.2" cy="175.9" r="1.85"/><circle cx="153.4" cy="171.3" r="1.85"/><circle cx="149.1" cy="195.4" r="1.85"/><circle cx="150.2" cy="194.7" r="1.85"/><circle cx="150.8" cy="190.0" r="1.85"/><circle cx="152.1" cy="207.3" r="1.85"/><circle cx="155.5" cy="182.1" r="1.85"/><circle cx="154.0" cy="165.0" r="1.85"/><circle cx="149.5" cy="201.1" r="1.85"/><circle cx="152.1" cy="186.7" r="1.85"/><circle cx="155.9" cy="197.1" r="1.85"/><circle cx="154.5" cy="164.7" r="1.85"/><circle cx="154.3" cy="170.6" r="1.85"/><circle cx="154.1" cy="188.2" r="1.85"/><circle cx="155.4" cy="204.8" r="1.85"/><circle cx="153.3" cy="177.7" r="1.85"/><circle cx="155.9" cy="194.9" r="1.85"/><circle cx="149.4" cy="201.6" r="1.85"/><circle cx="153.7" cy="172.8" r="1.85"/><circle cx="155.2" cy="167.8" r="1.85"/><circle cx="155.0" cy="201.5" r="1.85"/><circle cx="152.6" cy="186.4" r="1.85"/><circle cx="153.8" cy="185.9" r="1.85"/><circle cx="153.1" cy="204.6" r="1.85"/><circle cx="154.2" cy="172.6" r="1.85"/><circle cx="150.1" cy="198.2" r="1.85"/><circle cx="150.2" cy="195.4" r="1.85"/><circle cx="155.9" cy="184.5" r="1.85"/><circle cx="152.1" cy="176.9" r="1.85"/><circle cx="148.8" cy="206.1" r="1.85"/><circle cx="147.6" cy="205.6" r="1.85"/><circle cx="155.5" cy="164.9" r="1.85"/><circle cx="156.3" cy="175.0" r="1.85"/><circle cx="155.2" cy="163.0" r="1.85"/><circle cx="156.3" cy="193.2" r="1.85"/><circle cx="155.0" cy="198.1" r="1.85"/><circle cx="153.5" cy="180.2" r="1.85"/><circle cx="151.3" cy="187.0" r="1.85"/><circle cx="156.2" cy="187.2" r="1.85"/><circle cx="149.8" cy="194.1" r="1.85"/><circle cx="155.8" cy="207.3" r="1.85"/><circle cx="155.9" cy="204.9" r="1.85"/><circle cx="155.0" cy="205.3" r="1.85"/><circle cx="152.4" cy="193.3" r="1.85"/><circle cx="152.6" cy="189.7" r="1.85"/><circle cx="155.8" cy="164.2" r="1.85"/><circle cx="151.7" cy="206.5" r="1.85"/><circle cx="155.1" cy="206.4" r="1.85"/><circle cx="154.7" cy="193.4" r="1.85"/><circle cx="151.7" cy="188.1" r="1.85"/><circle cx="154.0" cy="199.2" r="1.85"/><circle cx="154.4" cy="207.3" r="1.85"/><circle cx="154.8" cy="179.8" r="1.85"/><circle cx="153.2" cy="182.1" r="1.85"/><circle cx="148.8" cy="202.8" r="1.85"/><circle cx="154.3" cy="176.1" r="1.85"/><circle cx="149.0" cy="202.5" r="1.85"/><circle cx="153.7" cy="192.7" r="1.85"/><circle cx="154.3" cy="186.2" r="1.85"/><circle cx="150.6" cy="208.0" r="1.85"/><circle cx="155.5" cy="208.0" r="1.85"/><circle cx="154.3" cy="197.9" r="1.85"/><circle cx="149.9" cy="198.3" r="1.85"/><circle cx="152.4" cy="196.0" r="1.85"/><circle cx="151.2" cy="199.7" r="1.85"/><circle cx="155.6" cy="167.0" r="1.85"/><circle cx="148.5" cy="202.6" r="1.85"/><circle cx="156.0" cy="205.2" r="1.85"/><circle cx="149.9" cy="205.1" r="1.85"/><circle cx="155.9" cy="169.3" r="1.85"/><circle cx="155.3" cy="195.2" r="1.85"/><circle cx="155.9" cy="182.0" r="1.85"/><circle cx="149.2" cy="205.5" r="1.85"/><circle cx="151.9" cy="187.5" r="1.85"/><circle cx="154.1" cy="185.5" r="1.85"/><circle cx="155.9" cy="164.0" r="1.85"/><circle cx="149.6" cy="196.9" r="1.85"/><circle cx="155.7" cy="184.4" r="1.85"/><circle cx="154.4" cy="207.2" r="1.85"/><circle cx="151.1" cy="189.3" r="1.85"/><circle cx="154.9" cy="182.6" r="1.85"/><circle cx="148.4" cy="205.8" r="1.85"/><circle cx="156.2" cy="161.2" r="1.85"/><circle cx="154.1" cy="179.4" r="1.85"/><circle cx="148.7" cy="198.8" r="1.85"/><circle cx="151.5" cy="191.7" r="1.85"/><circle cx="152.6" cy="177.9" r="1.85"/><circle cx="151.2" cy="190.3" r="1.85"/><circle cx="155.3" cy="188.2" r="1.85"/><circle cx="155.6" cy="171.3" r="1.85"/><circle cx="155.8" cy="201.4" r="1.85"/><circle cx="155.3" cy="167.9" r="1.85"/><circle cx="151.6" cy="207.8" r="1.85"/><circle cx="153.7" cy="171.4" r="1.85"/><circle cx="155.9" cy="173.8" r="1.85"/><circle cx="151.4" cy="204.7" r="1.85"/><circle cx="152.8" cy="182.4" r="1.85"/><circle cx="151.3" cy="191.1" r="1.85"/><circle cx="156.1" cy="173.6" r="1.85"/><circle cx="154.4" cy="171.4" r="1.85"/><circle cx="155.8" cy="157.6" r="1.85"/><circle cx="153.9" cy="159.9" r="1.85"/><circle cx="154.7" cy="149.4" r="1.85"/><circle cx="154.9" cy="160.8" r="1.85"/><circle cx="154.7" cy="150.6" r="1.85"/></g><g fill="#e3201c"><circle cx="169.0" cy="73.9" r="1.85"/><circle cx="186.0" cy="79.3" r="1.85"/><circle cx="193.4" cy="83.4" r="1.85"/><circle cx="196.4" cy="94.5" r="1.85"/><circle cx="189.6" cy="98.8" r="1.85"/><circle cx="193.4" cy="102.4" r="1.85"/><circle cx="198.2" cy="106.0" r="1.85"/><circle cx="179.0" cy="102.4" r="1.85"/><circle cx="184.4" cy="103.5" r="1.85"/><circle cx="168.5" cy="104.1" r="1.85"/><circle cx="186.0" cy="107.3" r="1.85"/><circle cx="191.6" cy="106.3" r="1.85"/><circle cx="174.8" cy="109.9" r="1.85"/><circle cx="170.0" cy="113.0" r="1.85"/><circle cx="182.9" cy="113.0" r="1.85"/><circle cx="190.6" cy="113.8" r="1.85"/><circle cx="191.1" cy="115.7" r="1.85"/><circle cx="173.2" cy="117.9" r="1.85"/><circle cx="182.1" cy="117.2" r="1.85"/><circle cx="188.0" cy="118.5" r="1.85"/><circle cx="194.1" cy="118.5" r="1.85"/><circle cx="183.8" cy="119.8" r="1.85"/><circle cx="172.2" cy="121.5" r="1.85"/><circle cx="170.0" cy="123.7" r="1.85"/><circle cx="178.0" cy="123.7" r="1.85"/><circle cx="173.9" cy="125.3" r="1.85"/><circle cx="180.0" cy="125.6" r="1.85"/><circle cx="185.7" cy="125.6" r="1.85"/><circle cx="184.4" cy="126.6" r="1.85"/><circle cx="166.4" cy="130.1" r="1.85"/><circle cx="173.5" cy="130.1" r="1.85"/><circle cx="181.6" cy="129.5" r="1.85"/><circle cx="180.8" cy="132.7" r="1.85"/><circle cx="175.4" cy="133.3" r="1.85"/><circle cx="172.9" cy="134.0" r="1.85"/><circle cx="193.8" cy="133.7" r="1.85"/><circle cx="167.7" cy="135.9" r="1.85"/><circle cx="194.1" cy="133.9" r="1.85"/><circle cx="193.5" cy="143.3" r="1.85"/><circle cx="192.0" cy="150.0" r="1.85"/><circle cx="191.6" cy="155.0" r="1.85"/><circle cx="193.5" cy="164.5" r="1.85"/><circle cx="190.7" cy="169.0" r="1.85"/><circle cx="186.7" cy="175.0" r="1.85"/><circle cx="189.0" cy="175.0" r="1.85"/><circle cx="186.5" cy="179.3" r="1.85"/><circle cx="181.2" cy="185.6" r="1.85"/><circle cx="183.4" cy="191.1" r="1.85"/><circle cx="191.8" cy="196.9" r="1.85"/><circle cx="179.3" cy="200.8" r="1.85"/><circle cx="176.5" cy="205.4" r="1.85"/><circle cx="210.2" cy="205.3" r="1.85"/><circle cx="169.6" cy="197.6" r="1.85"/><circle cx="172.0" cy="163.5" r="1.85"/><circle cx="168.6" cy="154.7" r="1.85"/><circle cx="175.7" cy="195.0" r="1.85"/><circle cx="174.0" cy="194.6" r="1.85"/><circle cx="174.3" cy="195.5" r="1.85"/><circle cx="169.1" cy="203.0" r="1.85"/><circle cx="166.6" cy="175.1" r="1.85"/><circle cx="170.2" cy="194.2" r="1.85"/><circle cx="173.2" cy="202.4" r="1.85"/><circle cx="176.7" cy="184.1" r="1.85"/><circle cx="167.1" cy="185.7" r="1.85"/><circle cx="167.6" cy="207.3" r="1.85"/><circle cx="168.4" cy="187.6" r="1.85"/><circle cx="174.8" cy="207.5" r="1.85"/><circle cx="176.0" cy="192.7" r="1.85"/><circle cx="175.1" cy="199.8" r="1.85"/><circle cx="172.7" cy="204.6" r="1.85"/><circle cx="173.5" cy="173.7" r="1.85"/><circle cx="170.7" cy="164.2" r="1.85"/><circle cx="166.6" cy="151.0" r="1.85"/><circle cx="173.6" cy="193.1" r="1.85"/><circle cx="174.1" cy="175.3" r="1.85"/><circle cx="169.9" cy="158.7" r="1.85"/><circle cx="168.5" cy="184.4" r="1.85"/><circle cx="174.0" cy="204.5" r="1.85"/><circle cx="170.1" cy="203.5" r="1.85"/><circle cx="177.0" cy="182.4" r="1.85"/><circle cx="177.1" cy="193.0" r="1.85"/><circle cx="170.1" cy="159.1" r="1.85"/><circle cx="172.2" cy="173.4" r="1.85"/><circle cx="166.8" cy="199.1" r="1.85"/><circle cx="172.3" cy="172.4" r="1.85"/><circle cx="168.6" cy="179.8" r="1.85"/><circle cx="169.1" cy="162.4" r="1.85"/><circle cx="170.3" cy="176.1" r="1.85"/><circle cx="176.9" cy="183.8" r="1.85"/><circle cx="171.0" cy="167.9" r="1.85"/><circle cx="169.0" cy="172.5" r="1.85"/><circle cx="171.2" cy="187.0" r="1.85"/><circle cx="174.9" cy="178.0" r="1.85"/><circle cx="173.5" cy="204.3" r="1.85"/><circle cx="172.4" cy="208.3" r="1.85"/><circle cx="168.0" cy="177.8" r="1.85"/><circle cx="169.4" cy="189.3" r="1.85"/><circle cx="174.9" cy="184.4" r="1.85"/><circle cx="174.2" cy="171.3" r="1.85"/><circle cx="171.7" cy="205.4" r="1.85"/><circle cx="167.2" cy="158.5" r="1.85"/><circle cx="174.1" cy="170.0" r="1.85"/><circle cx="167.8" cy="169.2" r="1.85"/><circle cx="172.8" cy="191.0" r="1.85"/><circle cx="170.9" cy="184.5" r="1.85"/><circle cx="174.0" cy="182.2" r="1.85"/><circle cx="166.9" cy="188.7" r="1.85"/><circle cx="167.2" cy="166.8" r="1.85"/><circle cx="177.0" cy="198.4" r="1.85"/><circle cx="171.8" cy="180.3" r="1.85"/><circle cx="169.9" cy="207.4" r="1.85"/><circle cx="167.7" cy="160.8" r="1.85"/><circle cx="168.8" cy="199.3" r="1.85"/><circle cx="172.0" cy="168.1" r="1.85"/><circle cx="170.8" cy="200.8" r="1.85"/><circle cx="169.2" cy="194.2" r="1.85"/><circle cx="174.3" cy="170.7" r="1.85"/><circle cx="170.4" cy="169.9" r="1.85"/><circle cx="171.4" cy="161.6" r="1.85"/><circle cx="173.3" cy="168.2" r="1.85"/><circle cx="169.8" cy="192.9" r="1.85"/><circle cx="171.4" cy="172.4" r="1.85"/><circle cx="170.6" cy="201.5" r="1.85"/><circle cx="177.2" cy="193.8" r="1.85"/><circle cx="170.8" cy="186.0" r="1.85"/><circle cx="174.4" cy="205.1" r="1.85"/><circle cx="173.7" cy="185.8" r="1.85"/><circle cx="171.2" cy="184.8" r="1.85"/><circle cx="168.9" cy="192.8" r="1.85"/><circle cx="172.4" cy="207.1" r="1.85"/><circle cx="170.2" cy="188.7" r="1.85"/><circle cx="166.6" cy="168.5" r="1.85"/><circle cx="170.8" cy="208.1" r="1.85"/><circle cx="168.6" cy="202.5" r="1.85"/><circle cx="167.0" cy="179.9" r="1.85"/><circle cx="175.5" cy="197.4" r="1.85"/><circle cx="170.7" cy="180.4" r="1.85"/><circle cx="174.3" cy="192.2" r="1.85"/><circle cx="174.7" cy="179.7" r="1.85"/><circle cx="169.2" cy="188.3" r="1.85"/><circle cx="172.6" cy="177.3" r="1.85"/><circle cx="174.5" cy="205.1" r="1.85"/><circle cx="169.4" cy="178.8" r="1.85"/><circle cx="172.3" cy="173.9" r="1.85"/><circle cx="168.2" cy="182.8" r="1.85"/><circle cx="176.3" cy="185.4" r="1.85"/><circle cx="169.6" cy="195.2" r="1.85"/><circle cx="173.1" cy="171.5" r="1.85"/><circle cx="172.3" cy="207.9" r="1.85"/><circle cx="172.7" cy="205.3" r="1.85"/><circle cx="170.3" cy="192.0" r="1.85"/><circle cx="167.2" cy="160.6" r="1.85"/><circle cx="174.1" cy="187.3" r="1.85"/><circle cx="169.4" cy="164.6" r="1.85"/><circle cx="170.5" cy="185.0" r="1.85"/><circle cx="168.0" cy="161.3" r="1.85"/><circle cx="176.1" cy="203.9" r="1.85"/><circle cx="169.2" cy="152.2" r="1.85"/><circle cx="175.2" cy="190.6" r="1.85"/><circle cx="169.3" cy="173.5" r="1.85"/><circle cx="175.5" cy="198.9" r="1.85"/><circle cx="168.7" cy="188.2" r="1.85"/><circle cx="171.6" cy="161.5" r="1.85"/><circle cx="171.3" cy="195.6" r="1.85"/><circle cx="172.7" cy="181.7" r="1.85"/><circle cx="168.9" cy="182.4" r="1.85"/><circle cx="168.0" cy="206.1" r="1.85"/><circle cx="170.2" cy="170.1" r="1.85"/><circle cx="171.2" cy="196.7" r="1.85"/><circle cx="176.6" cy="186.4" r="1.85"/><circle cx="168.3" cy="164.3" r="1.85"/><circle cx="176.2" cy="199.8" r="1.85"/><circle cx="168.9" cy="165.0" r="1.85"/><circle cx="168.9" cy="189.2" r="1.85"/><circle cx="166.9" cy="187.7" r="1.85"/><circle cx="167.1" cy="197.6" r="1.85"/><circle cx="172.4" cy="179.9" r="1.85"/><circle cx="170.3" cy="207.5" r="1.85"/><circle cx="173.0" cy="199.1" r="1.85"/><circle cx="167.1" cy="147.0" r="1.85"/><circle cx="166.6" cy="187.7" r="1.85"/><circle cx="168.3" cy="158.7" r="1.85"/><circle cx="173.8" cy="187.6" r="1.85"/><circle cx="170.0" cy="172.0" r="1.85"/><circle cx="169.6" cy="178.5" r="1.85"/><circle cx="170.3" cy="164.7" r="1.85"/><circle cx="169.1" cy="160.0" r="1.85"/><circle cx="169.8" cy="180.6" r="1.85"/><circle cx="172.1" cy="161.4" r="1.85"/><circle cx="176.2" cy="191.7" r="1.85"/><circle cx="173.3" cy="185.2" r="1.85"/><circle cx="174.1" cy="174.3" r="1.85"/><circle cx="171.0" cy="166.7" r="1.85"/><circle cx="172.0" cy="172.1" r="1.85"/><circle cx="172.3" cy="176.5" r="1.85"/><circle cx="175.1" cy="201.1" r="1.85"/><circle cx="175.2" cy="182.5" r="1.85"/><circle cx="169.5" cy="153.1" r="1.85"/><circle cx="176.0" cy="197.3" r="1.85"/><circle cx="174.0" cy="187.4" r="1.85"/><circle cx="174.7" cy="171.1" r="1.85"/><circle cx="170.8" cy="177.9" r="1.85"/><circle cx="176.6" cy="197.2" r="1.85"/><circle cx="167.2" cy="156.9" r="1.85"/><circle cx="172.1" cy="161.2" r="1.85"/><circle cx="176.0" cy="175.4" r="1.85"/><circle cx="168.0" cy="166.7" r="1.85"/><circle cx="172.6" cy="204.3" r="1.85"/><circle cx="171.2" cy="192.2" r="1.85"/><circle cx="173.0" cy="179.9" r="1.85"/><circle cx="168.3" cy="171.8" r="1.85"/><circle cx="176.4" cy="186.2" r="1.85"/><circle cx="168.8" cy="170.6" r="1.85"/><circle cx="172.4" cy="163.1" r="1.85"/><circle cx="172.8" cy="183.3" r="1.85"/><circle cx="166.6" cy="155.1" r="1.85"/><circle cx="167.2" cy="192.2" r="1.85"/><circle cx="170.1" cy="205.6" r="1.85"/><circle cx="175.4" cy="189.6" r="1.85"/><circle cx="166.8" cy="194.7" r="1.85"/><circle cx="167.9" cy="153.8" r="1.85"/><circle cx="166.7" cy="151.2" r="1.85"/><circle cx="171.6" cy="205.6" r="1.85"/><circle cx="169.9" cy="157.8" r="1.85"/><circle cx="173.4" cy="182.1" r="1.85"/><circle cx="172.6" cy="166.2" r="1.85"/><circle cx="171.9" cy="206.3" r="1.85"/><circle cx="169.0" cy="159.1" r="1.85"/><circle cx="176.6" cy="186.2" r="1.85"/><circle cx="167.1" cy="152.8" r="1.85"/><circle cx="169.0" cy="159.9" r="1.85"/><circle cx="175.8" cy="188.0" r="1.85"/><circle cx="173.4" cy="166.2" r="1.85"/><circle cx="174.4" cy="173.8" r="1.85"/><circle cx="167.0" cy="173.7" r="1.85"/><circle cx="170.6" cy="176.4" r="1.85"/><circle cx="173.0" cy="202.7" r="1.85"/><circle cx="168.4" cy="174.3" r="1.85"/><circle cx="171.9" cy="192.5" r="1.85"/><circle cx="168.5" cy="189.6" r="1.85"/><circle cx="167.2" cy="199.2" r="1.85"/><circle cx="166.7" cy="153.0" r="1.85"/><circle cx="171.6" cy="197.8" r="1.85"/><circle cx="173.3" cy="191.1" r="1.85"/><circle cx="174.8" cy="189.5" r="1.85"/><circle cx="166.9" cy="196.5" r="1.85"/><circle cx="168.0" cy="151.1" r="1.85"/><circle cx="175.8" cy="181.2" r="1.85"/><circle cx="167.6" cy="159.6" r="1.85"/><circle cx="168.6" cy="183.9" r="1.85"/><circle cx="168.2" cy="151.6" r="1.85"/><circle cx="172.3" cy="165.7" r="1.85"/><circle cx="168.0" cy="178.9" r="1.85"/><circle cx="172.0" cy="166.6" r="1.85"/><circle cx="176.3" cy="180.3" r="1.85"/><circle cx="170.7" cy="177.1" r="1.85"/><circle cx="170.6" cy="188.5" r="1.85"/><circle cx="170.5" cy="188.4" r="1.85"/><circle cx="169.5" cy="160.1" r="1.85"/><circle cx="174.7" cy="193.7" r="1.85"/><circle cx="174.2" cy="203.3" r="1.85"/><circle cx="168.4" cy="166.9" r="1.85"/><circle cx="175.9" cy="192.4" r="1.85"/><circle cx="167.6" cy="207.1" r="1.85"/><circle cx="174.6" cy="199.3" r="1.85"/><circle cx="170.4" cy="181.5" r="1.85"/><circle cx="172.8" cy="201.0" r="1.85"/><circle cx="173.7" cy="205.8" r="1.85"/><circle cx="168.0" cy="167.7" r="1.85"/><circle cx="170.0" cy="181.6" r="1.85"/><circle cx="168.5" cy="170.7" r="1.85"/><circle cx="169.3" cy="165.0" r="1.85"/><circle cx="172.6" cy="163.3" r="1.85"/><circle cx="166.4" cy="162.5" r="1.85"/><circle cx="169.4" cy="207.9" r="1.85"/><circle cx="171.7" cy="189.5" r="1.85"/><circle cx="175.9" cy="204.1" r="1.85"/><circle cx="171.1" cy="161.8" r="1.85"/><circle cx="170.8" cy="161.4" r="1.85"/><circle cx="174.6" cy="171.7" r="1.85"/><circle cx="175.1" cy="206.2" r="1.85"/><circle cx="168.6" cy="182.2" r="1.85"/><circle cx="174.5" cy="179.2" r="1.85"/><circle cx="173.9" cy="206.3" r="1.85"/><circle cx="167.0" cy="146.7" r="1.85"/><circle cx="166.8" cy="171.5" r="1.85"/><circle cx="175.5" cy="186.8" r="1.85"/><circle cx="172.5" cy="198.6" r="1.85"/><circle cx="173.1" cy="196.5" r="1.85"/><circle cx="173.8" cy="189.9" r="1.85"/><circle cx="176.2" cy="178.0" r="1.85"/><circle cx="172.8" cy="199.1" r="1.85"/><circle cx="173.9" cy="206.8" r="1.85"/><circle cx="169.6" cy="193.0" r="1.85"/><circle cx="173.4" cy="172.1" r="1.85"/><circle cx="166.5" cy="172.6" r="1.85"/><circle cx="169.3" cy="181.2" r="1.85"/><circle cx="172.0" cy="175.0" r="1.85"/><circle cx="167.0" cy="149.0" r="1.85"/><circle cx="173.1" cy="186.7" r="1.85"/><circle cx="177.4" cy="194.3" r="1.85"/><circle cx="169.6" cy="171.2" r="1.85"/><circle cx="172.0" cy="195.1" r="1.85"/><circle cx="170.8" cy="203.1" r="1.85"/><circle cx="171.8" cy="167.3" r="1.85"/><circle cx="171.7" cy="164.5" r="1.85"/><circle cx="168.0" cy="169.0" r="1.85"/><circle cx="173.1" cy="192.3" r="1.85"/><circle cx="171.3" cy="160.2" r="1.85"/><circle cx="170.5" cy="200.9" r="1.85"/><circle cx="167.8" cy="149.3" r="1.85"/><circle cx="176.3" cy="191.3" r="1.85"/><circle cx="167.1" cy="186.2" r="1.85"/><circle cx="168.8" cy="170.5" r="1.85"/><circle cx="168.0" cy="193.4" r="1.85"/><circle cx="173.6" cy="172.2" r="1.85"/><circle cx="176.4" cy="194.2" r="1.85"/><circle cx="173.1" cy="172.2" r="1.85"/><circle cx="169.7" cy="202.8" r="1.85"/><circle cx="168.7" cy="184.1" r="1.85"/><circle cx="167.2" cy="203.3" r="1.85"/><circle cx="176.9" cy="182.3" r="1.85"/><circle cx="174.5" cy="145.9" r="1.85"/><circle cx="175.0" cy="160.8" r="1.85"/><circle cx="184.2" cy="178.9" r="1.85"/><circle cx="178.3" cy="143.0" r="1.85"/><circle cx="168.8" cy="146.0" r="1.85"/><circle cx="187.6" cy="165.3" r="1.85"/><circle cx="182.9" cy="157.5" r="1.85"/><circle cx="175.8" cy="146.4" r="1.85"/><circle cx="181.7" cy="172.2" r="1.85"/><circle cx="186.1" cy="171.9" r="1.85"/><circle cx="176.8" cy="174.3" r="1.85"/><circle cx="176.0" cy="160.2" r="1.85"/><circle cx="175.4" cy="156.8" r="1.85"/><circle cx="183.7" cy="185.8" r="1.85"/><circle cx="176.3" cy="173.9" r="1.85"/><circle cx="172.8" cy="154.6" r="1.85"/><circle cx="190.0" cy="153.9" r="1.85"/><circle cx="176.1" cy="142.9" r="1.85"/><circle cx="189.2" cy="141.0" r="1.85"/><circle cx="175.4" cy="163.9" r="1.85"/><circle cx="171.5" cy="153.2" r="1.85"/><circle cx="177.3" cy="152.4" r="1.85"/><circle cx="185.1" cy="137.8" r="1.85"/><circle cx="182.7" cy="183.4" r="1.85"/><circle cx="174.7" cy="147.3" r="1.85"/><circle cx="169.4" cy="140.6" r="1.85"/><circle cx="186.7" cy="171.6" r="1.85"/><circle cx="181.7" cy="154.8" r="1.85"/><circle cx="168.9" cy="141.5" r="1.85"/><circle cx="176.9" cy="145.2" r="1.85"/><circle cx="185.8" cy="174.1" r="1.85"/><circle cx="178.5" cy="181.9" r="1.85"/><circle cx="183.5" cy="145.3" r="1.85"/><circle cx="180.0" cy="160.4" r="1.85"/><circle cx="179.6" cy="178.1" r="1.85"/><circle cx="184.0" cy="169.6" r="1.85"/><circle cx="168.7" cy="144.6" r="1.85"/><circle cx="167.6" cy="145.5" r="1.85"/><circle cx="177.6" cy="163.5" r="1.85"/><circle cx="180.8" cy="152.5" r="1.85"/><circle cx="186.3" cy="155.6" r="1.85"/><circle cx="186.1" cy="170.9" r="1.85"/><circle cx="183.5" cy="160.4" r="1.85"/><circle cx="179.7" cy="148.0" r="1.85"/><circle cx="178.2" cy="151.2" r="1.85"/><circle cx="183.7" cy="142.3" r="1.85"/><circle cx="169.9" cy="147.7" r="1.85"/><circle cx="180.0" cy="170.3" r="1.85"/><circle cx="187.8" cy="158.4" r="1.85"/><circle cx="190.4" cy="148.3" r="1.85"/><circle cx="169.5" cy="145.7" r="1.85"/><circle cx="184.8" cy="181.8" r="1.85"/><circle cx="177.6" cy="163.0" r="1.85"/><circle cx="178.4" cy="157.8" r="1.85"/><circle cx="178.0" cy="176.4" r="1.85"/><circle cx="184.6" cy="155.3" r="1.85"/><circle cx="180.9" cy="144.6" r="1.85"/><circle cx="175.6" cy="137.9" r="1.85"/><circle cx="175.8" cy="154.4" r="1.85"/><circle cx="187.9" cy="158.5" r="1.85"/><circle cx="170.9" cy="142.2" r="1.85"/><circle cx="186.6" cy="140.9" r="1.85"/><circle cx="171.2" cy="154.6" r="1.85"/><circle cx="174.1" cy="162.7" r="1.85"/><circle cx="175.5" cy="163.8" r="1.85"/><circle cx="186.7" cy="151.4" r="1.85"/><circle cx="190.4" cy="146.1" r="1.85"/><circle cx="187.0" cy="143.2" r="1.85"/><circle cx="174.1" cy="162.1" r="1.85"/><circle cx="188.6" cy="166.1" r="1.85"/><circle cx="173.9" cy="160.7" r="1.85"/><circle cx="187.4" cy="140.2" r="1.85"/><circle cx="175.1" cy="149.4" r="1.85"/><circle cx="168.0" cy="139.0" r="1.85"/><circle cx="176.9" cy="168.2" r="1.85"/><circle cx="176.6" cy="169.3" r="1.85"/><circle cx="173.8" cy="137.0" r="1.85"/><circle cx="183.7" cy="155.8" r="1.85"/><circle cx="179.0" cy="158.3" r="1.85"/><circle cx="173.3" cy="139.1" r="1.85"/><circle cx="174.0" cy="153.6" r="1.85"/><circle cx="169.3" cy="137.7" r="1.85"/><circle cx="178.7" cy="137.2" r="1.85"/><circle cx="188.9" cy="157.3" r="1.85"/><circle cx="177.7" cy="167.0" r="1.85"/><circle cx="167.0" cy="142.0" r="1.85"/><circle cx="186.5" cy="168.8" r="1.85"/><circle cx="179.0" cy="156.3" r="1.85"/><circle cx="185.6" cy="165.7" r="1.85"/><circle cx="183.6" cy="163.2" r="1.85"/><circle cx="180.0" cy="170.2" r="1.85"/><circle cx="179.8" cy="184.3" r="1.85"/><circle cx="188.4" cy="139.1" r="1.85"/><circle cx="185.6" cy="172.4" r="1.85"/><circle cx="181.7" cy="189.6" r="1.85"/><circle cx="167.6" cy="123.4" r="1.85"/><circle cx="176.0" cy="134.8" r="1.85"/><circle cx="170.6" cy="125.5" r="1.85"/><circle cx="170.1" cy="130.1" r="1.85"/><circle cx="178.9" cy="129.6" r="1.85"/><circle cx="174.2" cy="133.2" r="1.85"/><circle cx="166.6" cy="117.4" r="1.85"/><circle cx="185.2" cy="133.1" r="1.85"/><circle cx="186.3" cy="118.6" r="1.85"/><circle cx="168.4" cy="129.0" r="1.85"/><circle cx="185.1" cy="113.5" r="1.85"/><circle cx="190.3" cy="124.7" r="1.85"/><circle cx="167.2" cy="123.5" r="1.85"/><circle cx="175.0" cy="114.5" r="1.85"/><circle cx="189.1" cy="134.4" r="1.85"/><circle cx="169.6" cy="122.7" r="1.85"/><circle cx="173.4" cy="128.1" r="1.85"/><circle cx="169.2" cy="120.0" r="1.85"/></g>
<line x1="158.15" y1="35.50" x2="158.15" y2="256.00" stroke="#f3b13a" stroke-width="1.3" stroke-dasharray="8.3 6.35" stroke-dashoffset="3.6"/>
<line x1="164.45" y1="35.50" x2="164.45" y2="256.00" stroke="#f3b13a" stroke-width="1.3" stroke-dasharray="8.3 6.35" stroke-dashoffset="3.6"/>
<line x1="71.00" y1="208.4" x2="273.50" y2="208.4" stroke="#f3b13a" stroke-width="1.3" stroke-dasharray="8.3 6.06" stroke-dashoffset="3.2"/>
<line x1="70.40" y1="35.30" x2="70.40" y2="257.80" stroke="#2e2727" stroke-width="1.3" />
<line x1="69.90" y1="257.30" x2="273.50" y2="257.30" stroke="#2e2727" stroke-width="1.3" />
<line x1="67.20" y1="245.00" x2="70.40" y2="245.00" stroke="#2e2727" stroke-width="1.3" />
<text x="0" y="0" font-size="15.5" text-anchor="middle" fill="#1a1a1a" transform="translate(63.90 245.00) rotate(-90)" >0</text>
<line x1="67.20" y1="215.05" x2="70.40" y2="215.05" stroke="#2e2727" stroke-width="1.3" />
<text x="0" y="0" font-size="15.5" text-anchor="middle" fill="#1a1a1a" transform="translate(63.90 215.05) rotate(-90)" >1</text>
<line x1="67.20" y1="185.10" x2="70.40" y2="185.10" stroke="#2e2727" stroke-width="1.3" />
<text x="0" y="0" font-size="15.5" text-anchor="middle" fill="#1a1a1a" transform="translate(63.90 185.10) rotate(-90)" >2</text>
<line x1="67.20" y1="155.15" x2="70.40" y2="155.15" stroke="#2e2727" stroke-width="1.3" />
<text x="0" y="0" font-size="15.5" text-anchor="middle" fill="#1a1a1a" transform="translate(63.90 155.15) rotate(-90)" >3</text>
<line x1="67.20" y1="125.20" x2="70.40" y2="125.20" stroke="#2e2727" stroke-width="1.3" />
<text x="0" y="0" font-size="15.5" text-anchor="middle" fill="#1a1a1a" transform="translate(63.90 125.20) rotate(-90)" >4</text>
<line x1="67.20" y1="95.25" x2="70.40" y2="95.25" stroke="#2e2727" stroke-width="1.3" />
<text x="0" y="0" font-size="15.5" text-anchor="middle" fill="#1a1a1a" transform="translate(63.90 95.25) rotate(-90)" >5</text>
<line x1="67.20" y1="65.30" x2="70.40" y2="65.30" stroke="#2e2727" stroke-width="1.3" />
<text x="0" y="0" font-size="15.5" text-anchor="middle" fill="#1a1a1a" transform="translate(63.90 65.30) rotate(-90)" >6</text>
<line x1="67.20" y1="35.35" x2="70.40" y2="35.35" stroke="#2e2727" stroke-width="1.3" />
<line x1="87.06" y1="257.30" x2="87.06" y2="260.60" stroke="#2e2727" stroke-width="1.3" />
<text x="0" y="0" font-size="15" text-anchor="middle" fill="#1a1a1a" transform="translate(88.86 275.60) scale(1 1.05)" >-6</text>
<line x1="111.84" y1="257.30" x2="111.84" y2="260.60" stroke="#2e2727" stroke-width="1.3" />
<text x="0" y="0" font-size="15" text-anchor="middle" fill="#1a1a1a" transform="translate(113.64 275.60) scale(1 1.05)" >-4</text>
<line x1="136.62" y1="257.30" x2="136.62" y2="260.60" stroke="#2e2727" stroke-width="1.3" />
<text x="0" y="0" font-size="15" text-anchor="middle" fill="#1a1a1a" transform="translate(138.42 275.60) scale(1 1.05)" >-2</text>
<line x1="161.40" y1="257.30" x2="161.40" y2="260.60" stroke="#2e2727" stroke-width="1.3" />
<text x="0" y="0" font-size="15" text-anchor="middle" fill="#1a1a1a" transform="translate(161.40 275.60) scale(1 1.05)" >0</text>
<line x1="186.18" y1="257.30" x2="186.18" y2="260.60" stroke="#2e2727" stroke-width="1.3" />
<text x="0" y="0" font-size="15" text-anchor="middle" fill="#1a1a1a" transform="translate(186.18 275.60) scale(1 1.05)" >2</text>
<line x1="210.96" y1="257.30" x2="210.96" y2="260.60" stroke="#2e2727" stroke-width="1.3" />
<text x="0" y="0" font-size="15" text-anchor="middle" fill="#1a1a1a" transform="translate(210.96 275.60) scale(1 1.05)" >4</text>
<line x1="235.74" y1="257.30" x2="235.74" y2="260.60" stroke="#2e2727" stroke-width="1.3" />
<text x="0" y="0" font-size="15" text-anchor="middle" fill="#1a1a1a" transform="translate(235.74 275.60) scale(1 1.05)" >6</text>
<line x1="260.52" y1="257.30" x2="260.52" y2="260.60" stroke="#2e2727" stroke-width="1.3" />
<text x="0" y="0" font-size="15" text-anchor="middle" fill="#1a1a1a" transform="translate(260.52 275.60) scale(1 1.05)" >8</text>
<text x="0" y="0" font-size="16" text-anchor="middle" fill="#222" transform="translate(184.00 299.20) scale(1 1.06)" >Log<tspan font-size="10" dy="4.8">2</tspan><tspan dy="-4.8"> Ratio(T30/T0)</tspan></text>
<text x="0" y="0" font-size="16" text-anchor="middle" fill="#222" transform="translate(39.40 151.50) rotate(-90) scale(1 1.05)" >-Log<tspan font-size="10.5" dy="5.2">10</tspan><tspan dy="-5.2"> </tspan><tspan font-style="italic">p</tspan>-value</text>
<text x="0" y="0" font-size="15.8" text-anchor="start" fill="#1a1a1a" transform="translate(76.40 44.70)" >down: 371</text>
<text x="0" y="0" font-size="15.8" text-anchor="start" fill="#1a1a1a" transform="translate(169.60 44.70)" >up: 555</text>
<text x="0" y="0" font-size="27" text-anchor="start" fill="#000" transform="translate(17.00 29.60)" >A</text>
<g fill="#a9a9a9"><circle cx="406.4" cy="100.7" r="1.85"/><circle cx="415.8" cy="123.6" r="1.85"/><circle cx="406.4" cy="126.7" r="1.85"/><circle cx="346.7" cy="222.3" r="1.85"/><circle cx="332.3" cy="231.7" r="1.85"/><circle cx="340.1" cy="232.5" r="1.85"/><circle cx="357.7" cy="233.4" r="1.85"/><circle cx="362.2" cy="231.5" r="1.85"/><circle cx="364.0" cy="229.2" r="1.85"/><circle cx="366.0" cy="231.5" r="1.85"/><circle cx="362.5" cy="233.0" r="1.85"/><circle cx="372.9" cy="214.9" r="1.85"/><circle cx="370.3" cy="219.1" r="1.85"/><circle cx="382.3" cy="215.4" r="1.85"/><circle cx="389.2" cy="207.6" r="1.85"/><circle cx="389.9" cy="209.4" r="1.85"/><circle cx="377.9" cy="220.8" r="1.85"/><circle cx="379.8" cy="220.8" r="1.85"/><circle cx="385.5" cy="221.2" r="1.85"/><circle cx="384.2" cy="225.2" r="1.85"/><circle cx="390.5" cy="223.9" r="1.85"/><circle cx="393.0" cy="222.0" r="1.85"/><circle cx="377.3" cy="230.6" r="1.85"/><circle cx="381.7" cy="230.2" r="1.85"/><circle cx="382.3" cy="233.0" r="1.85"/><circle cx="386.7" cy="234.0" r="1.85"/><circle cx="388.6" cy="231.5" r="1.85"/><circle cx="372.9" cy="237.2" r="1.85"/><circle cx="374.7" cy="235.9" r="1.85"/><circle cx="377.6" cy="236.5" r="1.85"/><circle cx="382.3" cy="237.5" r="1.85"/><circle cx="385.5" cy="241.6" r="1.85"/><circle cx="390.5" cy="237.2" r="1.85"/><circle cx="393.0" cy="242.2" r="1.85"/><circle cx="433.2" cy="206.6" r="1.85"/><circle cx="435.9" cy="214.5" r="1.85"/><circle cx="437.7" cy="215.2" r="1.85"/><circle cx="460.5" cy="212.7" r="1.85"/><circle cx="475.4" cy="216.9" r="1.85"/><circle cx="479.6" cy="216.9" r="1.85"/><circle cx="516.6" cy="232.3" r="1.85"/><circle cx="433.2" cy="220.5" r="1.85"/><circle cx="437.3" cy="220.8" r="1.85"/><circle cx="439.4" cy="220.1" r="1.85"/><circle cx="444.2" cy="219.4" r="1.85"/><circle cx="443.6" cy="222.9" r="1.85"/><circle cx="437.3" cy="224.2" r="1.85"/><circle cx="448.4" cy="221.1" r="1.85"/><circle cx="451.6" cy="219.1" r="1.85"/><circle cx="452.1" cy="221.9" r="1.85"/><circle cx="456.3" cy="222.2" r="1.85"/><circle cx="457.4" cy="220.5" r="1.85"/><circle cx="438.0" cy="235.7" r="1.85"/><circle cx="441.5" cy="234.9" r="1.85"/><circle cx="442.2" cy="238.5" r="1.85"/><circle cx="445.6" cy="233.7" r="1.85"/><circle cx="449.1" cy="232.1" r="1.85"/><circle cx="450.5" cy="231.6" r="1.85"/><circle cx="455.3" cy="233.3" r="1.85"/><circle cx="436.6" cy="229.8" r="1.85"/><circle cx="433.2" cy="231.6" r="1.85"/><circle cx="432.5" cy="239.5" r="1.85"/><circle cx="433.2" cy="243.0" r="1.85"/><circle cx="427.1" cy="243.6" r="1.85"/><circle cx="425.9" cy="211.6" r="1.85"/><circle cx="414.5" cy="224.2" r="1.85"/><circle cx="412.1" cy="213.3" r="1.85"/><circle cx="399.3" cy="224.9" r="1.85"/><circle cx="400.4" cy="225.3" r="1.85"/><circle cx="419.0" cy="224.1" r="1.85"/><circle cx="411.5" cy="235.7" r="1.85"/><circle cx="405.6" cy="210.6" r="1.85"/><circle cx="421.8" cy="230.3" r="1.85"/><circle cx="417.0" cy="231.5" r="1.85"/><circle cx="428.9" cy="221.9" r="1.85"/><circle cx="420.9" cy="222.1" r="1.85"/><circle cx="413.7" cy="232.9" r="1.85"/><circle cx="403.9" cy="211.7" r="1.85"/><circle cx="410.0" cy="235.1" r="1.85"/><circle cx="414.4" cy="225.1" r="1.85"/><circle cx="416.4" cy="215.2" r="1.85"/><circle cx="398.8" cy="220.5" r="1.85"/><circle cx="423.0" cy="215.7" r="1.85"/><circle cx="396.3" cy="212.1" r="1.85"/><circle cx="393.5" cy="218.7" r="1.85"/><circle cx="413.8" cy="238.9" r="1.85"/><circle cx="404.6" cy="222.2" r="1.85"/><circle cx="403.0" cy="219.8" r="1.85"/><circle cx="421.5" cy="228.8" r="1.85"/><circle cx="401.8" cy="212.5" r="1.85"/><circle cx="421.8" cy="234.7" r="1.85"/><circle cx="423.5" cy="217.3" r="1.85"/><circle cx="412.7" cy="242.5" r="1.85"/><circle cx="414.5" cy="243.5" r="1.85"/><circle cx="398.4" cy="244.6" r="1.85"/><circle cx="394.1" cy="223.9" r="1.85"/><circle cx="392.9" cy="238.5" r="1.85"/><circle cx="418.1" cy="244.5" r="1.85"/><circle cx="422.6" cy="243.6" r="1.85"/><circle cx="412.5" cy="245.1" r="1.85"/><circle cx="420.5" cy="221.3" r="1.85"/><circle cx="429.0" cy="222.4" r="1.85"/><circle cx="399.3" cy="211.3" r="1.85"/><circle cx="409.7" cy="215.8" r="1.85"/><circle cx="427.5" cy="243.7" r="1.85"/><circle cx="400.2" cy="212.3" r="1.85"/><circle cx="412.1" cy="214.8" r="1.85"/><circle cx="412.7" cy="238.6" r="1.85"/><circle cx="401.6" cy="224.1" r="1.85"/><circle cx="426.2" cy="225.0" r="1.85"/><circle cx="405.0" cy="241.5" r="1.85"/><circle cx="422.9" cy="241.6" r="1.85"/><circle cx="418.1" cy="223.8" r="1.85"/><circle cx="418.3" cy="239.2" r="1.85"/><circle cx="416.3" cy="217.3" r="1.85"/><circle cx="403.2" cy="223.7" r="1.85"/><circle cx="421.3" cy="229.1" r="1.85"/><circle cx="412.9" cy="239.1" r="1.85"/><circle cx="396.1" cy="231.9" r="1.85"/><circle cx="404.6" cy="229.2" r="1.85"/><circle cx="423.7" cy="217.7" r="1.85"/><circle cx="413.4" cy="228.5" r="1.85"/><circle cx="400.9" cy="229.3" r="1.85"/><circle cx="409.9" cy="225.1" r="1.85"/><circle cx="419.3" cy="208.6" r="1.85"/><circle cx="406.3" cy="237.6" r="1.85"/><circle cx="397.4" cy="240.6" r="1.85"/><circle cx="399.7" cy="233.7" r="1.85"/><circle cx="398.6" cy="225.1" r="1.85"/><circle cx="408.1" cy="211.5" r="1.85"/><circle cx="418.6" cy="226.3" r="1.85"/><circle cx="418.2" cy="228.4" r="1.85"/><circle cx="413.1" cy="228.0" r="1.85"/><circle cx="403.3" cy="241.8" r="1.85"/><circle cx="395.3" cy="240.9" r="1.85"/><circle cx="424.8" cy="226.9" r="1.85"/><circle cx="421.5" cy="233.4" r="1.85"/><circle cx="415.0" cy="219.3" r="1.85"/><circle cx="404.1" cy="221.4" r="1.85"/><circle cx="403.5" cy="244.0" r="1.85"/><circle cx="405.0" cy="222.8" r="1.85"/><circle cx="407.9" cy="238.7" r="1.85"/><circle cx="410.2" cy="229.0" r="1.85"/><circle cx="401.7" cy="218.8" r="1.85"/><circle cx="395.4" cy="216.5" r="1.85"/><circle cx="402.0" cy="240.0" r="1.85"/><circle cx="411.1" cy="212.6" r="1.85"/><circle cx="409.6" cy="213.0" r="1.85"/><circle cx="413.5" cy="224.9" r="1.85"/><circle cx="424.6" cy="218.1" r="1.85"/><circle cx="424.3" cy="217.7" r="1.85"/><circle cx="429.3" cy="232.0" r="1.85"/><circle cx="393.6" cy="238.4" r="1.85"/><circle cx="402.5" cy="221.9" r="1.85"/><circle cx="397.6" cy="239.5" r="1.85"/><circle cx="395.4" cy="235.8" r="1.85"/><circle cx="407.0" cy="233.6" r="1.85"/><circle cx="403.1" cy="211.4" r="1.85"/><circle cx="426.8" cy="232.7" r="1.85"/><circle cx="398.4" cy="244.6" r="1.85"/><circle cx="426.6" cy="215.3" r="1.85"/><circle cx="392.7" cy="231.1" r="1.85"/><circle cx="397.3" cy="235.6" r="1.85"/><circle cx="409.8" cy="234.7" r="1.85"/><circle cx="413.7" cy="237.0" r="1.85"/><circle cx="423.2" cy="230.8" r="1.85"/><circle cx="414.5" cy="220.6" r="1.85"/><circle cx="397.1" cy="211.9" r="1.85"/><circle cx="424.6" cy="216.1" r="1.85"/><circle cx="408.2" cy="220.2" r="1.85"/><circle cx="415.5" cy="228.2" r="1.85"/><circle cx="424.6" cy="224.6" r="1.85"/><circle cx="405.8" cy="232.6" r="1.85"/><circle cx="420.3" cy="242.7" r="1.85"/><circle cx="403.8" cy="241.3" r="1.85"/><circle cx="396.9" cy="222.6" r="1.85"/><circle cx="421.4" cy="239.2" r="1.85"/><circle cx="393.5" cy="223.1" r="1.85"/><circle cx="419.5" cy="236.6" r="1.85"/><circle cx="412.3" cy="216.3" r="1.85"/><circle cx="407.5" cy="210.7" r="1.85"/><circle cx="404.0" cy="224.3" r="1.85"/><circle cx="423.3" cy="230.3" r="1.85"/><circle cx="407.7" cy="217.6" r="1.85"/><circle cx="404.0" cy="233.3" r="1.85"/><circle cx="408.9" cy="214.9" r="1.85"/><circle cx="423.2" cy="229.8" r="1.85"/><circle cx="428.8" cy="228.3" r="1.85"/><circle cx="415.7" cy="224.3" r="1.85"/><circle cx="415.1" cy="242.5" r="1.85"/><circle cx="429.3" cy="233.0" r="1.85"/><circle cx="408.3" cy="210.8" r="1.85"/><circle cx="423.9" cy="223.0" r="1.85"/><circle cx="406.5" cy="210.6" r="1.85"/><circle cx="393.3" cy="222.9" r="1.85"/><circle cx="429.0" cy="235.9" r="1.85"/><circle cx="418.9" cy="233.2" r="1.85"/><circle cx="402.4" cy="214.7" r="1.85"/><circle cx="414.9" cy="210.9" r="1.85"/><circle cx="414.3" cy="227.5" r="1.85"/><circle cx="412.6" cy="213.0" r="1.85"/><circle cx="394.6" cy="226.0" r="1.85"/><circle cx="397.5" cy="232.2" r="1.85"/><circle cx="403.8" cy="231.5" r="1.85"/><circle cx="420.5" cy="230.9" r="1.85"/><circle cx="412.2" cy="215.8" r="1.85"/><circle cx="405.2" cy="244.7" r="1.85"/><circle cx="402.2" cy="219.0" r="1.85"/><circle cx="410.7" cy="228.7" r="1.85"/><circle cx="422.0" cy="219.4" r="1.85"/><circle cx="422.0" cy="229.6" r="1.85"/><circle cx="426.2" cy="214.2" r="1.85"/><circle cx="418.2" cy="243.5" r="1.85"/><circle cx="417.3" cy="212.7" r="1.85"/><circle cx="427.0" cy="244.4" r="1.85"/><circle cx="396.2" cy="239.1" r="1.85"/><circle cx="395.0" cy="211.5" r="1.85"/><circle cx="422.2" cy="235.1" r="1.85"/><circle cx="428.4" cy="231.9" r="1.85"/><circle cx="411.4" cy="218.6" r="1.85"/><circle cx="413.8" cy="245.2" r="1.85"/><circle cx="416.6" cy="240.9" r="1.85"/><circle cx="399.5" cy="235.7" r="1.85"/><circle cx="419.8" cy="211.1" r="1.85"/><circle cx="423.2" cy="215.0" r="1.85"/><circle cx="400.3" cy="210.8" r="1.85"/><circle cx="417.2" cy="213.8" r="1.85"/><circle cx="422.8" cy="236.6" r="1.85"/><circle cx="413.6" cy="229.7" r="1.85"/><circle cx="422.3" cy="232.0" r="1.85"/><circle cx="397.3" cy="238.0" r="1.85"/><circle cx="405.4" cy="230.1" r="1.85"/><circle cx="411.5" cy="241.9" r="1.85"/><circle cx="407.7" cy="240.1" r="1.85"/><circle cx="395.1" cy="220.6" r="1.85"/><circle cx="417.5" cy="231.1" r="1.85"/><circle cx="423.6" cy="216.2" r="1.85"/><circle cx="422.6" cy="237.9" r="1.85"/><circle cx="397.4" cy="213.7" r="1.85"/><circle cx="414.2" cy="244.6" r="1.85"/><circle cx="415.3" cy="224.3" r="1.85"/><circle cx="411.3" cy="238.5" r="1.85"/><circle cx="411.8" cy="228.4" r="1.85"/><circle cx="414.5" cy="243.0" r="1.85"/><circle cx="422.4" cy="239.5" r="1.85"/><circle cx="402.1" cy="230.7" r="1.85"/><circle cx="423.3" cy="235.1" r="1.85"/><circle cx="428.2" cy="242.4" r="1.85"/><circle cx="396.8" cy="227.3" r="1.85"/><circle cx="405.6" cy="216.1" r="1.85"/><circle cx="411.0" cy="244.9" r="1.85"/><circle cx="421.2" cy="212.2" r="1.85"/><circle cx="401.4" cy="222.2" r="1.85"/><circle cx="425.6" cy="225.5" r="1.85"/><circle cx="398.1" cy="228.9" r="1.85"/><circle cx="401.4" cy="209.9" r="1.85"/><circle cx="414.5" cy="245.2" r="1.85"/><circle cx="421.5" cy="235.7" r="1.85"/><circle cx="397.8" cy="229.3" r="1.85"/><circle cx="416.2" cy="236.6" r="1.85"/><circle cx="409.0" cy="210.5" r="1.85"/><circle cx="427.3" cy="218.3" r="1.85"/><circle cx="420.1" cy="225.7" r="1.85"/><circle cx="421.6" cy="221.0" r="1.85"/><circle cx="395.5" cy="224.3" r="1.85"/><circle cx="410.2" cy="237.8" r="1.85"/><circle cx="407.3" cy="233.2" r="1.85"/><circle cx="406.3" cy="235.6" r="1.85"/><circle cx="398.6" cy="241.1" r="1.85"/><circle cx="424.6" cy="237.3" r="1.85"/><circle cx="418.3" cy="212.4" r="1.85"/><circle cx="419.8" cy="237.1" r="1.85"/><circle cx="415.8" cy="244.2" r="1.85"/><circle cx="428.0" cy="231.9" r="1.85"/><circle cx="427.2" cy="213.8" r="1.85"/><circle cx="403.3" cy="228.1" r="1.85"/><circle cx="411.9" cy="243.8" r="1.85"/><circle cx="416.2" cy="231.5" r="1.85"/><circle cx="415.6" cy="243.5" r="1.85"/><circle cx="407.2" cy="235.9" r="1.85"/><circle cx="414.8" cy="223.4" r="1.85"/><circle cx="404.9" cy="214.2" r="1.85"/><circle cx="403.4" cy="211.5" r="1.85"/><circle cx="410.4" cy="221.5" r="1.85"/><circle cx="427.2" cy="237.4" r="1.85"/><circle cx="417.3" cy="239.8" r="1.85"/><circle cx="402.4" cy="212.8" r="1.85"/><circle cx="415.2" cy="216.9" r="1.85"/><circle cx="425.7" cy="217.6" r="1.85"/><circle cx="395.6" cy="231.7" r="1.85"/><circle cx="418.3" cy="218.0" r="1.85"/><circle cx="427.2" cy="244.5" r="1.85"/><circle cx="418.1" cy="244.8" r="1.85"/><circle cx="419.8" cy="236.1" r="1.85"/><circle cx="419.8" cy="221.1" r="1.85"/><circle cx="412.6" cy="230.3" r="1.85"/><circle cx="424.3" cy="210.4" r="1.85"/><circle cx="406.3" cy="220.2" r="1.85"/><circle cx="422.1" cy="212.8" r="1.85"/><circle cx="394.3" cy="212.8" r="1.85"/><circle cx="396.4" cy="224.6" r="1.85"/><circle cx="424.9" cy="221.6" r="1.85"/><circle cx="395.8" cy="233.3" r="1.85"/><circle cx="404.6" cy="229.6" r="1.85"/><circle cx="420.4" cy="225.4" r="1.85"/><circle cx="419.9" cy="231.4" r="1.85"/><circle cx="424.4" cy="236.7" r="1.85"/><circle cx="426.2" cy="236.1" r="1.85"/><circle cx="402.7" cy="227.2" r="1.85"/><circle cx="421.3" cy="237.5" r="1.85"/><circle cx="419.8" cy="239.7" r="1.85"/><circle cx="423.3" cy="228.5" r="1.85"/><circle cx="416.3" cy="210.1" r="1.85"/><circle cx="410.1" cy="235.4" r="1.85"/><circle cx="426.7" cy="239.9" r="1.85"/><circle cx="408.7" cy="217.0" r="1.85"/><circle cx="425.7" cy="232.8" r="1.85"/><circle cx="399.3" cy="209.9" r="1.85"/><circle cx="425.4" cy="229.8" r="1.85"/><circle cx="396.2" cy="245.1" r="1.85"/><circle cx="414.3" cy="236.6" r="1.85"/><circle cx="422.6" cy="218.0" r="1.85"/><circle cx="411.9" cy="214.9" r="1.85"/><circle cx="415.3" cy="224.6" r="1.85"/><circle cx="422.0" cy="212.8" r="1.85"/><circle cx="399.8" cy="222.8" r="1.85"/><circle cx="428.6" cy="240.5" r="1.85"/><circle cx="398.8" cy="239.3" r="1.85"/><circle cx="400.6" cy="217.4" r="1.85"/><circle cx="416.2" cy="219.4" r="1.85"/><circle cx="399.6" cy="211.7" r="1.85"/><circle cx="398.7" cy="215.6" r="1.85"/><circle cx="426.7" cy="210.1" r="1.85"/><circle cx="412.5" cy="216.4" r="1.85"/><circle cx="419.4" cy="208.6" r="1.85"/><circle cx="406.1" cy="235.8" r="1.85"/><circle cx="393.0" cy="223.7" r="1.85"/><circle cx="404.4" cy="226.4" r="1.85"/><circle cx="415.9" cy="211.5" r="1.85"/><circle cx="424.9" cy="218.5" r="1.85"/><circle cx="421.3" cy="213.4" r="1.85"/><circle cx="395.6" cy="215.7" r="1.85"/><circle cx="395.2" cy="217.7" r="1.85"/><circle cx="397.3" cy="211.7" r="1.85"/><circle cx="424.4" cy="228.1" r="1.85"/><circle cx="410.9" cy="227.3" r="1.85"/><circle cx="422.8" cy="210.2" r="1.85"/><circle cx="393.7" cy="233.1" r="1.85"/><circle cx="415.7" cy="239.9" r="1.85"/><circle cx="403.9" cy="230.0" r="1.85"/><circle cx="393.3" cy="236.4" r="1.85"/><circle cx="428.4" cy="228.8" r="1.85"/><circle cx="417.3" cy="239.4" r="1.85"/><circle cx="424.1" cy="238.8" r="1.85"/><circle cx="410.5" cy="211.7" r="1.85"/><circle cx="422.2" cy="239.7" r="1.85"/><circle cx="418.6" cy="220.1" r="1.85"/><circle cx="429.0" cy="231.5" r="1.85"/><circle cx="403.9" cy="237.6" r="1.85"/><circle cx="400.5" cy="217.4" r="1.85"/><circle cx="426.4" cy="210.5" r="1.85"/><circle cx="425.1" cy="223.2" r="1.85"/><circle cx="413.7" cy="234.1" r="1.85"/><circle cx="426.3" cy="216.6" r="1.85"/><circle cx="395.5" cy="227.4" r="1.85"/><circle cx="400.5" cy="224.2" r="1.85"/><circle cx="396.2" cy="211.8" r="1.85"/><circle cx="413.6" cy="210.4" r="1.85"/><circle cx="402.1" cy="222.9" r="1.85"/><circle cx="395.6" cy="238.3" r="1.85"/><circle cx="426.3" cy="209.7" r="1.85"/><circle cx="422.7" cy="215.0" r="1.85"/><circle cx="419.7" cy="210.7" r="1.85"/><circle cx="420.3" cy="243.0" r="1.85"/><circle cx="401.8" cy="214.6" r="1.85"/><circle cx="404.9" cy="240.3" r="1.85"/><circle cx="421.6" cy="214.3" r="1.85"/><circle cx="426.3" cy="235.8" r="1.85"/><circle cx="428.4" cy="244.5" r="1.85"/><circle cx="398.0" cy="235.4" r="1.85"/><circle cx="412.4" cy="217.1" r="1.85"/><circle cx="400.3" cy="221.7" r="1.85"/><circle cx="409.5" cy="242.5" r="1.85"/><circle cx="414.1" cy="229.1" r="1.85"/><circle cx="419.3" cy="215.5" r="1.85"/><circle cx="422.5" cy="236.7" r="1.85"/><circle cx="422.9" cy="225.2" r="1.85"/><circle cx="412.6" cy="211.3" r="1.85"/><circle cx="409.4" cy="232.3" r="1.85"/><circle cx="428.1" cy="241.7" r="1.85"/><circle cx="404.9" cy="236.5" r="1.85"/><circle cx="424.5" cy="244.1" r="1.85"/><circle cx="417.9" cy="220.7" r="1.85"/><circle cx="425.2" cy="209.1" r="1.85"/><circle cx="413.6" cy="225.4" r="1.85"/><circle cx="425.5" cy="231.5" r="1.85"/><circle cx="399.6" cy="214.6" r="1.85"/><circle cx="393.4" cy="236.3" r="1.85"/><circle cx="421.8" cy="222.3" r="1.85"/><circle cx="400.5" cy="229.1" r="1.85"/><circle cx="399.4" cy="228.0" r="1.85"/><circle cx="405.1" cy="220.3" r="1.85"/><circle cx="418.3" cy="217.7" r="1.85"/><circle cx="404.6" cy="229.4" r="1.85"/><circle cx="427.8" cy="214.1" r="1.85"/><circle cx="403.6" cy="218.6" r="1.85"/><circle cx="404.0" cy="226.5" r="1.85"/><circle cx="423.2" cy="215.2" r="1.85"/><circle cx="419.3" cy="224.5" r="1.85"/><circle cx="413.7" cy="227.1" r="1.85"/><circle cx="414.9" cy="215.1" r="1.85"/><circle cx="415.4" cy="223.4" r="1.85"/><circle cx="421.8" cy="230.5" r="1.85"/><circle cx="407.5" cy="245.0" r="1.85"/><circle cx="398.8" cy="209.0" r="1.85"/><circle cx="396.7" cy="234.0" r="1.85"/><circle cx="395.5" cy="235.7" r="1.85"/><circle cx="395.4" cy="219.5" r="1.85"/><circle cx="415.6" cy="209.3" r="1.85"/><circle cx="408.4" cy="245.5" r="1.85"/><circle cx="419.7" cy="222.9" r="1.85"/><circle cx="426.5" cy="229.6" r="1.85"/><circle cx="422.8" cy="221.2" r="1.85"/><circle cx="406.5" cy="234.4" r="1.85"/><circle cx="420.9" cy="234.1" r="1.85"/><circle cx="397.7" cy="224.1" r="1.85"/><circle cx="404.1" cy="217.1" r="1.85"/><circle cx="396.4" cy="236.2" r="1.85"/><circle cx="397.4" cy="221.6" r="1.85"/><circle cx="392.7" cy="234.6" r="1.85"/><circle cx="415.8" cy="211.4" r="1.85"/><circle cx="428.1" cy="245.3" r="1.85"/><circle cx="420.5" cy="238.3" r="1.85"/><circle cx="418.7" cy="209.3" r="1.85"/><circle cx="402.4" cy="217.3" r="1.85"/><circle cx="392.8" cy="232.1" r="1.85"/><circle cx="414.5" cy="221.9" r="1.85"/><circle cx="420.4" cy="217.2" r="1.85"/><circle cx="402.7" cy="212.8" r="1.85"/><circle cx="400.9" cy="240.0" r="1.85"/><circle cx="410.6" cy="235.8" r="1.85"/><circle cx="425.0" cy="233.2" r="1.85"/><circle cx="405.7" cy="244.3" r="1.85"/><circle cx="395.0" cy="223.8" r="1.85"/><circle cx="425.6" cy="233.7" r="1.85"/><circle cx="405.4" cy="239.1" r="1.85"/><circle cx="420.8" cy="235.3" r="1.85"/><circle cx="402.1" cy="233.7" r="1.85"/><circle cx="416.9" cy="239.6" r="1.85"/><circle cx="411.5" cy="242.9" r="1.85"/><circle cx="419.4" cy="216.3" r="1.85"/><circle cx="414.0" cy="215.8" r="1.85"/><circle cx="415.5" cy="220.5" r="1.85"/><circle cx="422.0" cy="239.4" r="1.85"/><circle cx="406.2" cy="230.3" r="1.85"/><circle cx="400.8" cy="222.4" r="1.85"/><circle cx="408.7" cy="234.8" r="1.85"/><circle cx="411.3" cy="214.5" r="1.85"/><circle cx="416.7" cy="227.6" r="1.85"/><circle cx="412.0" cy="225.0" r="1.85"/><circle cx="424.9" cy="232.7" r="1.85"/><circle cx="417.1" cy="227.0" r="1.85"/><circle cx="407.3" cy="224.3" r="1.85"/><circle cx="417.8" cy="224.7" r="1.85"/><circle cx="394.6" cy="216.7" r="1.85"/><circle cx="405.7" cy="222.5" r="1.85"/><circle cx="409.3" cy="215.9" r="1.85"/><circle cx="400.9" cy="225.0" r="1.85"/><circle cx="403.0" cy="218.2" r="1.85"/><circle cx="410.7" cy="236.8" r="1.85"/><circle cx="409.0" cy="241.6" r="1.85"/><circle cx="416.0" cy="222.0" r="1.85"/><circle cx="429.0" cy="233.6" r="1.85"/><circle cx="423.4" cy="239.7" r="1.85"/><circle cx="422.1" cy="223.0" r="1.85"/><circle cx="426.2" cy="211.1" r="1.85"/><circle cx="427.6" cy="231.5" r="1.85"/><circle cx="407.6" cy="239.2" r="1.85"/><circle cx="412.3" cy="225.5" r="1.85"/><circle cx="399.0" cy="237.5" r="1.85"/><circle cx="397.6" cy="219.6" r="1.85"/><circle cx="395.3" cy="209.1" r="1.85"/><circle cx="403.3" cy="210.1" r="1.85"/><circle cx="409.8" cy="221.3" r="1.85"/><circle cx="392.7" cy="225.7" r="1.85"/><circle cx="402.9" cy="217.1" r="1.85"/><circle cx="412.6" cy="220.8" r="1.85"/><circle cx="394.1" cy="242.9" r="1.85"/><circle cx="417.1" cy="230.1" r="1.85"/><circle cx="401.4" cy="228.4" r="1.85"/><circle cx="402.1" cy="218.7" r="1.85"/><circle cx="409.2" cy="210.2" r="1.85"/><circle cx="400.7" cy="244.9" r="1.85"/><circle cx="421.3" cy="220.8" r="1.85"/><circle cx="424.3" cy="220.4" r="1.85"/><circle cx="426.0" cy="225.2" r="1.85"/><circle cx="425.1" cy="213.6" r="1.85"/><circle cx="407.0" cy="221.3" r="1.85"/><circle cx="421.7" cy="240.5" r="1.85"/><circle cx="397.2" cy="223.7" r="1.85"/><circle cx="398.6" cy="210.9" r="1.85"/><circle cx="396.9" cy="211.2" r="1.85"/><circle cx="403.5" cy="224.4" r="1.85"/><circle cx="426.4" cy="232.6" r="1.85"/><circle cx="420.9" cy="220.7" r="1.85"/><circle cx="404.2" cy="223.7" r="1.85"/><circle cx="400.8" cy="209.2" r="1.85"/><circle cx="402.5" cy="242.9" r="1.85"/><circle cx="393.9" cy="227.1" r="1.85"/><circle cx="400.8" cy="236.7" r="1.85"/><circle cx="393.4" cy="227.4" r="1.85"/><circle cx="419.5" cy="225.6" r="1.85"/><circle cx="397.5" cy="241.4" r="1.85"/><circle cx="423.1" cy="241.2" r="1.85"/><circle cx="424.9" cy="222.2" r="1.85"/><circle cx="415.8" cy="225.9" r="1.85"/><circle cx="414.2" cy="222.6" r="1.85"/><circle cx="424.5" cy="219.9" r="1.85"/><circle cx="413.3" cy="211.0" r="1.85"/><circle cx="394.2" cy="241.2" r="1.85"/><circle cx="405.6" cy="222.4" r="1.85"/><circle cx="429.5" cy="235.2" r="1.85"/><circle cx="397.9" cy="228.6" r="1.85"/><circle cx="410.4" cy="230.9" r="1.85"/><circle cx="402.4" cy="218.7" r="1.85"/><circle cx="427.9" cy="230.6" r="1.85"/><circle cx="412.9" cy="234.1" r="1.85"/><circle cx="420.6" cy="215.1" r="1.85"/><circle cx="421.8" cy="226.4" r="1.85"/><circle cx="397.7" cy="220.2" r="1.85"/><circle cx="426.3" cy="227.0" r="1.85"/><circle cx="416.2" cy="223.2" r="1.85"/><circle cx="419.9" cy="228.3" r="1.85"/><circle cx="405.6" cy="244.7" r="1.85"/><circle cx="411.0" cy="210.0" r="1.85"/><circle cx="422.9" cy="212.0" r="1.85"/><circle cx="402.6" cy="225.3" r="1.85"/><circle cx="400.0" cy="225.1" r="1.85"/><circle cx="408.7" cy="228.1" r="1.85"/><circle cx="416.8" cy="233.9" r="1.85"/><circle cx="393.9" cy="217.3" r="1.85"/><circle cx="396.4" cy="220.8" r="1.85"/><circle cx="409.4" cy="240.0" r="1.85"/><circle cx="392.5" cy="238.5" r="1.85"/><circle cx="397.9" cy="235.9" r="1.85"/><circle cx="424.2" cy="245.0" r="1.85"/><circle cx="413.9" cy="210.5" r="1.85"/><circle cx="402.9" cy="224.6" r="1.85"/><circle cx="417.6" cy="244.3" r="1.85"/><circle cx="425.3" cy="210.8" r="1.85"/><circle cx="396.9" cy="232.6" r="1.85"/><circle cx="399.9" cy="230.1" r="1.85"/><circle cx="411.3" cy="228.7" r="1.85"/><circle cx="405.3" cy="242.2" r="1.85"/><circle cx="403.2" cy="221.9" r="1.85"/><circle cx="398.1" cy="219.2" r="1.85"/><circle cx="397.0" cy="232.2" r="1.85"/><circle cx="422.7" cy="240.0" r="1.85"/><circle cx="404.9" cy="235.7" r="1.85"/><circle cx="422.8" cy="232.6" r="1.85"/><circle cx="415.6" cy="236.4" r="1.85"/><circle cx="404.1" cy="220.7" r="1.85"/><circle cx="401.7" cy="217.0" r="1.85"/><circle cx="411.5" cy="228.5" r="1.85"/><circle cx="399.3" cy="211.7" r="1.85"/><circle cx="397.9" cy="231.5" r="1.85"/><circle cx="422.8" cy="228.3" r="1.85"/><circle cx="416.5" cy="224.1" r="1.85"/><circle cx="394.8" cy="236.1" r="1.85"/><circle cx="421.1" cy="214.0" r="1.85"/><circle cx="403.8" cy="233.8" r="1.85"/><circle cx="418.8" cy="214.6" r="1.85"/><circle cx="406.7" cy="222.8" r="1.85"/><circle cx="412.7" cy="238.8" r="1.85"/><circle cx="397.6" cy="222.4" r="1.85"/><circle cx="427.1" cy="215.1" r="1.85"/><circle cx="398.7" cy="237.6" r="1.85"/><circle cx="415.7" cy="226.1" r="1.85"/><circle cx="409.4" cy="210.8" r="1.85"/><circle cx="416.4" cy="218.3" r="1.85"/><circle cx="408.8" cy="242.9" r="1.85"/><circle cx="410.8" cy="223.1" r="1.85"/><circle cx="405.4" cy="219.0" r="1.85"/><circle cx="415.5" cy="235.0" r="1.85"/><circle cx="396.4" cy="208.7" r="1.85"/><circle cx="407.0" cy="214.6" r="1.85"/><circle cx="414.8" cy="214.5" r="1.85"/><circle cx="411.2" cy="226.1" r="1.85"/><circle cx="429.0" cy="220.3" r="1.85"/><circle cx="402.0" cy="221.0" r="1.85"/><circle cx="417.1" cy="217.4" r="1.85"/><circle cx="401.2" cy="234.8" r="1.85"/><circle cx="412.1" cy="211.1" r="1.85"/><circle cx="424.2" cy="213.2" r="1.85"/><circle cx="403.3" cy="228.7" r="1.85"/><circle cx="409.4" cy="236.8" r="1.85"/><circle cx="397.6" cy="232.7" r="1.85"/><circle cx="398.8" cy="212.8" r="1.85"/><circle cx="418.6" cy="237.2" r="1.85"/><circle cx="396.1" cy="209.7" r="1.85"/><circle cx="399.6" cy="229.8" r="1.85"/><circle cx="393.2" cy="243.7" r="1.85"/><circle cx="392.7" cy="236.0" r="1.85"/><circle cx="422.6" cy="222.7" r="1.85"/><circle cx="423.0" cy="215.0" r="1.85"/><circle cx="421.4" cy="229.8" r="1.85"/><circle cx="424.4" cy="237.9" r="1.85"/><circle cx="421.9" cy="240.5" r="1.85"/><circle cx="401.7" cy="209.7" r="1.85"/><circle cx="398.5" cy="236.2" r="1.85"/><circle cx="411.7" cy="226.8" r="1.85"/><circle cx="410.0" cy="209.4" r="1.85"/><circle cx="427.2" cy="229.6" r="1.85"/><circle cx="414.2" cy="226.8" r="1.85"/><circle cx="425.6" cy="226.0" r="1.85"/><circle cx="412.5" cy="238.0" r="1.85"/><circle cx="397.6" cy="239.1" r="1.85"/><circle cx="415.7" cy="220.8" r="1.85"/><circle cx="397.6" cy="227.6" r="1.85"/><circle cx="403.2" cy="208.6" r="1.85"/><circle cx="423.3" cy="236.2" r="1.85"/><circle cx="426.2" cy="236.7" r="1.85"/><circle cx="407.4" cy="242.3" r="1.85"/><circle cx="401.1" cy="218.0" r="1.85"/><circle cx="409.8" cy="233.6" r="1.85"/><circle cx="395.8" cy="210.6" r="1.85"/><circle cx="420.2" cy="225.9" r="1.85"/><circle cx="428.5" cy="240.3" r="1.85"/><circle cx="409.6" cy="228.7" r="1.85"/><circle cx="418.5" cy="218.2" r="1.85"/><circle cx="412.7" cy="238.1" r="1.85"/><circle cx="412.5" cy="211.3" r="1.85"/><circle cx="395.9" cy="217.2" r="1.85"/><circle cx="428.7" cy="238.7" r="1.85"/><circle cx="403.1" cy="225.0" r="1.85"/><circle cx="428.8" cy="227.2" r="1.85"/><circle cx="404.0" cy="228.1" r="1.85"/><circle cx="398.4" cy="229.6" r="1.85"/><circle cx="394.7" cy="227.8" r="1.85"/><circle cx="396.2" cy="210.0" r="1.85"/><circle cx="420.7" cy="227.2" r="1.85"/><circle cx="398.1" cy="223.3" r="1.85"/><circle cx="425.7" cy="221.9" r="1.85"/><circle cx="402.4" cy="226.3" r="1.85"/><circle cx="426.0" cy="231.3" r="1.85"/><circle cx="410.0" cy="231.7" r="1.85"/><circle cx="405.4" cy="243.1" r="1.85"/><circle cx="402.3" cy="216.6" r="1.85"/><circle cx="410.5" cy="238.1" r="1.85"/><circle cx="421.3" cy="232.9" r="1.85"/><circle cx="426.6" cy="213.2" r="1.85"/><circle cx="399.5" cy="216.6" r="1.85"/><circle cx="396.9" cy="213.9" r="1.85"/><circle cx="411.1" cy="234.2" r="1.85"/><circle cx="409.7" cy="228.5" r="1.85"/><circle cx="418.1" cy="239.0" r="1.85"/><circle cx="429.0" cy="234.6" r="1.85"/><circle cx="410.9" cy="210.6" r="1.85"/><circle cx="403.2" cy="215.6" r="1.85"/><circle cx="428.5" cy="235.4" r="1.85"/><circle cx="396.9" cy="221.0" r="1.85"/><circle cx="408.0" cy="231.7" r="1.85"/><circle cx="429.0" cy="220.8" r="1.85"/><circle cx="418.6" cy="223.8" r="1.85"/><circle cx="426.4" cy="227.0" r="1.85"/><circle cx="421.1" cy="230.1" r="1.85"/><circle cx="419.3" cy="236.4" r="1.85"/><circle cx="406.8" cy="225.0" r="1.85"/><circle cx="415.6" cy="234.9" r="1.85"/><circle cx="414.5" cy="221.8" r="1.85"/><circle cx="410.6" cy="227.4" r="1.85"/><circle cx="406.5" cy="220.4" r="1.85"/><circle cx="397.9" cy="211.7" r="1.85"/><circle cx="406.2" cy="244.4" r="1.85"/><circle cx="407.2" cy="242.3" r="1.85"/><circle cx="418.2" cy="242.9" r="1.85"/><circle cx="416.8" cy="243.9" r="1.85"/><circle cx="422.6" cy="211.4" r="1.85"/><circle cx="405.0" cy="232.7" r="1.85"/><circle cx="428.2" cy="245.0" r="1.85"/><circle cx="411.9" cy="220.7" r="1.85"/><circle cx="414.4" cy="234.3" r="1.85"/><circle cx="395.6" cy="238.2" r="1.85"/><circle cx="384.2" cy="225.0" r="1.85"/><circle cx="428.7" cy="241.7" r="1.85"/><circle cx="429.7" cy="241.0" r="1.85"/><circle cx="408.1" cy="226.2" r="1.85"/><circle cx="409.4" cy="229.3" r="1.85"/><circle cx="395.5" cy="224.4" r="1.85"/><circle cx="409.4" cy="212.6" r="1.85"/><circle cx="414.3" cy="214.2" r="1.85"/><circle cx="413.6" cy="214.0" r="1.85"/><circle cx="393.8" cy="227.3" r="1.85"/><circle cx="424.3" cy="245.1" r="1.85"/><circle cx="424.6" cy="239.4" r="1.85"/><circle cx="407.1" cy="229.3" r="1.85"/><circle cx="413.0" cy="244.5" r="1.85"/><circle cx="429.0" cy="212.4" r="1.85"/><circle cx="420.6" cy="236.1" r="1.85"/><circle cx="431.2" cy="243.2" r="1.85"/><circle cx="405.0" cy="225.9" r="1.85"/><circle cx="396.5" cy="218.4" r="1.85"/><circle cx="430.5" cy="236.9" r="1.85"/><circle cx="428.0" cy="222.8" r="1.85"/><circle cx="424.5" cy="212.5" r="1.85"/><circle cx="410.4" cy="222.5" r="1.85"/><circle cx="399.9" cy="245.1" r="1.85"/><circle cx="419.4" cy="245.3" r="1.85"/><circle cx="405.5" cy="242.1" r="1.85"/><circle cx="413.2" cy="231.3" r="1.85"/><circle cx="417.3" cy="220.8" r="1.85"/><circle cx="416.1" cy="217.9" r="1.85"/><circle cx="385.7" cy="236.2" r="1.85"/><circle cx="396.0" cy="242.5" r="1.85"/><circle cx="400.3" cy="236.0" r="1.85"/><circle cx="401.9" cy="235.3" r="1.85"/><circle cx="393.6" cy="219.6" r="1.85"/><circle cx="398.1" cy="244.9" r="1.85"/><circle cx="431.8" cy="225.0" r="1.85"/><circle cx="391.5" cy="232.7" r="1.85"/><circle cx="395.3" cy="223.5" r="1.85"/><circle cx="400.1" cy="219.5" r="1.85"/><circle cx="415.1" cy="219.3" r="1.85"/><circle cx="401.6" cy="216.7" r="1.85"/><circle cx="398.2" cy="237.9" r="1.85"/><circle cx="399.2" cy="244.5" r="1.85"/><circle cx="389.9" cy="212.9" r="1.85"/><circle cx="397.2" cy="229.2" r="1.85"/><circle cx="400.5" cy="225.4" r="1.85"/><circle cx="423.6" cy="234.2" r="1.85"/><circle cx="396.8" cy="241.5" r="1.85"/><circle cx="403.1" cy="231.1" r="1.85"/><circle cx="403.1" cy="237.4" r="1.85"/><circle cx="414.6" cy="228.7" r="1.85"/><circle cx="393.1" cy="214.6" r="1.85"/><circle cx="397.8" cy="240.5" r="1.85"/><circle cx="433.0" cy="225.6" r="1.85"/><circle cx="387.8" cy="218.7" r="1.85"/><circle cx="433.6" cy="216.3" r="1.85"/><circle cx="406.1" cy="214.4" r="1.85"/><circle cx="410.3" cy="223.5" r="1.85"/><circle cx="410.7" cy="240.0" r="1.85"/><circle cx="419.7" cy="227.5" r="1.85"/><circle cx="424.8" cy="213.1" r="1.85"/><circle cx="392.9" cy="239.6" r="1.85"/><circle cx="411.4" cy="234.9" r="1.85"/><circle cx="416.1" cy="240.2" r="1.85"/><circle cx="397.3" cy="217.9" r="1.85"/><circle cx="399.3" cy="241.1" r="1.85"/><circle cx="410.7" cy="237.6" r="1.85"/><circle cx="424.9" cy="223.5" r="1.85"/><circle cx="423.1" cy="238.4" r="1.85"/><circle cx="411.0" cy="229.6" r="1.85"/><circle cx="409.0" cy="227.2" r="1.85"/><circle cx="395.2" cy="231.2" r="1.85"/><circle cx="429.4" cy="220.5" r="1.85"/><circle cx="406.1" cy="224.5" r="1.85"/><circle cx="399.7" cy="243.0" r="1.85"/><circle cx="422.6" cy="214.9" r="1.85"/><circle cx="411.4" cy="223.7" r="1.85"/><circle cx="403.4" cy="215.7" r="1.85"/><circle cx="415.9" cy="224.0" r="1.85"/><circle cx="419.9" cy="216.0" r="1.85"/><circle cx="411.1" cy="181.5" r="1.85"/><circle cx="411.8" cy="163.0" r="1.85"/><circle cx="412.6" cy="185.5" r="1.85"/><circle cx="409.7" cy="168.1" r="1.85"/><circle cx="412.7" cy="160.6" r="1.85"/><circle cx="411.5" cy="174.9" r="1.85"/><circle cx="410.2" cy="206.9" r="1.85"/><circle cx="409.0" cy="168.9" r="1.85"/><circle cx="408.4" cy="177.7" r="1.85"/><circle cx="408.7" cy="162.1" r="1.85"/><circle cx="412.0" cy="205.8" r="1.85"/><circle cx="409.2" cy="189.1" r="1.85"/><circle cx="413.5" cy="168.6" r="1.85"/><circle cx="409.1" cy="184.5" r="1.85"/><circle cx="408.6" cy="188.1" r="1.85"/><circle cx="412.8" cy="202.7" r="1.85"/><circle cx="408.9" cy="187.0" r="1.85"/><circle cx="411.0" cy="181.9" r="1.85"/><circle cx="409.3" cy="189.4" r="1.85"/><circle cx="409.1" cy="193.1" r="1.85"/><circle cx="408.8" cy="160.0" r="1.85"/><circle cx="412.9" cy="176.3" r="1.85"/><circle cx="410.5" cy="133.2" r="1.85"/><circle cx="410.9" cy="106.0" r="1.85"/><circle cx="412.7" cy="158.8" r="1.85"/></g><g fill="#1f4ea0"><circle cx="405.0" cy="109.4" r="1.85"/><circle cx="362.5" cy="88.8" r="1.85"/><circle cx="370.5" cy="101.5" r="1.85"/><circle cx="405.4" cy="109.3" r="1.85"/><circle cx="403.9" cy="119.3" r="1.85"/><circle cx="400.8" cy="133.3" r="1.85"/><circle cx="403.3" cy="134.7" r="1.85"/><circle cx="404.7" cy="136.4" r="1.85"/><circle cx="385.1" cy="140.2" r="1.85"/><circle cx="388.7" cy="152.7" r="1.85"/><circle cx="399.1" cy="152.7" r="1.85"/><circle cx="405.4" cy="149.0" r="1.85"/><circle cx="376.1" cy="165.7" r="1.85"/><circle cx="393.3" cy="166.3" r="1.85"/><circle cx="385.5" cy="174.4" r="1.85"/><circle cx="393.9" cy="174.0" r="1.85"/><circle cx="393.9" cy="177.2" r="1.85"/><circle cx="397.0" cy="181.8" r="1.85"/><circle cx="394.9" cy="189.7" r="1.85"/><circle cx="392.8" cy="192.8" r="1.85"/><circle cx="388.7" cy="198.1" r="1.85"/><circle cx="375.1" cy="199.7" r="1.85"/><circle cx="394.9" cy="202.2" r="1.85"/><circle cx="375.4" cy="200.5" r="1.85"/><circle cx="399.1" cy="187.9" r="1.85"/><circle cx="401.5" cy="181.8" r="1.85"/><circle cx="402.3" cy="163.7" r="1.85"/><circle cx="401.4" cy="180.2" r="1.85"/><circle cx="402.4" cy="186.7" r="1.85"/><circle cx="405.8" cy="156.0" r="1.85"/><circle cx="401.3" cy="183.9" r="1.85"/><circle cx="403.2" cy="164.0" r="1.85"/><circle cx="400.4" cy="207.9" r="1.85"/><circle cx="404.9" cy="169.9" r="1.85"/><circle cx="404.9" cy="204.0" r="1.85"/><circle cx="402.8" cy="198.0" r="1.85"/><circle cx="400.0" cy="207.4" r="1.85"/><circle cx="402.3" cy="162.6" r="1.85"/><circle cx="403.0" cy="156.1" r="1.85"/><circle cx="400.4" cy="183.0" r="1.85"/><circle cx="400.1" cy="199.8" r="1.85"/><circle cx="402.3" cy="159.2" r="1.85"/><circle cx="400.1" cy="200.5" r="1.85"/><circle cx="404.0" cy="181.8" r="1.85"/><circle cx="402.3" cy="188.2" r="1.85"/><circle cx="402.3" cy="178.9" r="1.85"/><circle cx="404.5" cy="162.6" r="1.85"/><circle cx="399.3" cy="200.6" r="1.85"/><circle cx="400.8" cy="203.2" r="1.85"/><circle cx="401.1" cy="171.4" r="1.85"/><circle cx="401.1" cy="169.3" r="1.85"/><circle cx="401.1" cy="172.6" r="1.85"/><circle cx="402.8" cy="187.3" r="1.85"/><circle cx="400.4" cy="170.5" r="1.85"/><circle cx="398.3" cy="196.9" r="1.85"/><circle cx="399.6" cy="203.2" r="1.85"/><circle cx="398.8" cy="191.7" r="1.85"/><circle cx="404.5" cy="175.8" r="1.85"/><circle cx="403.1" cy="182.0" r="1.85"/><circle cx="404.9" cy="206.6" r="1.85"/><circle cx="402.1" cy="191.8" r="1.85"/><circle cx="403.2" cy="198.1" r="1.85"/><circle cx="400.4" cy="187.2" r="1.85"/><circle cx="400.4" cy="199.9" r="1.85"/><circle cx="404.3" cy="168.1" r="1.85"/><circle cx="401.7" cy="207.7" r="1.85"/><circle cx="403.5" cy="161.5" r="1.85"/><circle cx="399.1" cy="196.7" r="1.85"/><circle cx="403.7" cy="205.7" r="1.85"/><circle cx="400.5" cy="187.4" r="1.85"/><circle cx="403.7" cy="199.8" r="1.85"/><circle cx="403.4" cy="164.5" r="1.85"/><circle cx="404.2" cy="207.4" r="1.85"/><circle cx="399.6" cy="184.8" r="1.85"/><circle cx="405.5" cy="195.0" r="1.85"/><circle cx="399.6" cy="204.0" r="1.85"/><circle cx="404.8" cy="197.1" r="1.85"/><circle cx="401.6" cy="157.9" r="1.85"/><circle cx="401.3" cy="161.6" r="1.85"/><circle cx="401.7" cy="188.7" r="1.85"/><circle cx="405.5" cy="162.9" r="1.85"/><circle cx="405.5" cy="196.6" r="1.85"/><circle cx="399.8" cy="174.1" r="1.85"/><circle cx="404.3" cy="183.3" r="1.85"/><circle cx="402.1" cy="172.8" r="1.85"/><circle cx="398.2" cy="198.8" r="1.85"/><circle cx="405.3" cy="182.0" r="1.85"/><circle cx="402.8" cy="174.3" r="1.85"/><circle cx="399.9" cy="183.3" r="1.85"/><circle cx="403.9" cy="203.0" r="1.85"/><circle cx="400.7" cy="193.3" r="1.85"/><circle cx="404.8" cy="206.8" r="1.85"/><circle cx="402.9" cy="184.5" r="1.85"/><circle cx="404.9" cy="189.8" r="1.85"/><circle cx="403.0" cy="163.0" r="1.85"/><circle cx="399.4" cy="181.5" r="1.85"/><circle cx="399.7" cy="180.8" r="1.85"/><circle cx="402.7" cy="184.3" r="1.85"/><circle cx="399.6" cy="208.1" r="1.85"/><circle cx="398.9" cy="181.8" r="1.85"/><circle cx="399.9" cy="187.6" r="1.85"/><circle cx="404.8" cy="172.0" r="1.85"/><circle cx="403.7" cy="195.1" r="1.85"/><circle cx="399.8" cy="195.7" r="1.85"/><circle cx="401.4" cy="162.1" r="1.85"/><circle cx="403.2" cy="161.1" r="1.85"/><circle cx="405.5" cy="197.5" r="1.85"/><circle cx="401.0" cy="184.1" r="1.85"/><circle cx="403.8" cy="163.7" r="1.85"/><circle cx="404.7" cy="171.9" r="1.85"/><circle cx="402.8" cy="170.5" r="1.85"/><circle cx="399.3" cy="181.8" r="1.85"/><circle cx="403.2" cy="181.4" r="1.85"/><circle cx="404.4" cy="202.4" r="1.85"/><circle cx="399.7" cy="185.4" r="1.85"/><circle cx="405.6" cy="157.1" r="1.85"/><circle cx="401.3" cy="195.6" r="1.85"/><circle cx="402.7" cy="182.7" r="1.85"/><circle cx="404.0" cy="170.5" r="1.85"/><circle cx="397.6" cy="198.9" r="1.85"/><circle cx="402.6" cy="190.5" r="1.85"/><circle cx="402.8" cy="194.5" r="1.85"/><circle cx="400.7" cy="163.8" r="1.85"/><circle cx="405.7" cy="189.1" r="1.85"/><circle cx="402.5" cy="184.7" r="1.85"/><circle cx="400.6" cy="179.6" r="1.85"/><circle cx="405.5" cy="179.2" r="1.85"/><circle cx="399.5" cy="178.0" r="1.85"/><circle cx="402.8" cy="188.1" r="1.85"/><circle cx="399.7" cy="191.7" r="1.85"/><circle cx="404.3" cy="167.1" r="1.85"/><circle cx="405.1" cy="192.2" r="1.85"/><circle cx="404.1" cy="206.6" r="1.85"/><circle cx="402.7" cy="188.8" r="1.85"/><circle cx="404.2" cy="188.2" r="1.85"/><circle cx="400.6" cy="189.3" r="1.85"/><circle cx="397.1" cy="205.2" r="1.85"/><circle cx="402.9" cy="204.9" r="1.85"/><circle cx="402.6" cy="172.3" r="1.85"/><circle cx="401.3" cy="175.2" r="1.85"/><circle cx="399.6" cy="190.0" r="1.85"/><circle cx="400.4" cy="166.7" r="1.85"/><circle cx="402.1" cy="166.9" r="1.85"/><circle cx="398.2" cy="196.2" r="1.85"/><circle cx="400.8" cy="189.7" r="1.85"/><circle cx="396.8" cy="207.5" r="1.85"/><circle cx="403.9" cy="179.4" r="1.85"/><circle cx="405.8" cy="154.9" r="1.85"/><circle cx="404.8" cy="202.9" r="1.85"/><circle cx="399.6" cy="203.5" r="1.85"/><circle cx="399.1" cy="190.7" r="1.85"/><circle cx="399.6" cy="179.8" r="1.85"/><circle cx="402.5" cy="199.5" r="1.85"/><circle cx="399.2" cy="192.8" r="1.85"/><circle cx="399.7" cy="175.5" r="1.85"/><circle cx="402.7" cy="172.7" r="1.85"/><circle cx="404.9" cy="172.5" r="1.85"/><circle cx="401.1" cy="200.8" r="1.85"/><circle cx="402.9" cy="187.9" r="1.85"/><circle cx="400.7" cy="174.5" r="1.85"/><circle cx="405.1" cy="202.4" r="1.85"/><circle cx="403.2" cy="156.5" r="1.85"/><circle cx="400.8" cy="199.0" r="1.85"/><circle cx="399.9" cy="183.1" r="1.85"/><circle cx="405.4" cy="160.5" r="1.85"/><circle cx="400.8" cy="184.5" r="1.85"/><circle cx="404.3" cy="203.6" r="1.85"/><circle cx="405.1" cy="158.0" r="1.85"/><circle cx="400.6" cy="185.1" r="1.85"/><circle cx="405.5" cy="155.1" r="1.85"/><circle cx="405.7" cy="190.8" r="1.85"/><circle cx="402.8" cy="156.5" r="1.85"/><circle cx="402.8" cy="173.8" r="1.85"/><circle cx="402.8" cy="167.1" r="1.85"/><circle cx="404.7" cy="196.1" r="1.85"/><circle cx="400.0" cy="187.2" r="1.85"/><circle cx="398.8" cy="206.2" r="1.85"/><circle cx="405.0" cy="189.4" r="1.85"/><circle cx="400.7" cy="192.2" r="1.85"/><circle cx="402.1" cy="155.5" r="1.85"/><circle cx="401.5" cy="173.2" r="1.85"/><circle cx="404.1" cy="182.2" r="1.85"/><circle cx="404.4" cy="194.0" r="1.85"/><circle cx="405.9" cy="167.2" r="1.85"/><circle cx="402.5" cy="198.6" r="1.85"/><circle cx="404.0" cy="192.3" r="1.85"/><circle cx="402.4" cy="182.2" r="1.85"/><circle cx="404.6" cy="177.1" r="1.85"/><circle cx="398.3" cy="194.3" r="1.85"/><circle cx="398.2" cy="193.7" r="1.85"/><circle cx="401.1" cy="193.3" r="1.85"/><circle cx="400.6" cy="199.5" r="1.85"/><circle cx="405.1" cy="162.3" r="1.85"/><circle cx="397.1" cy="207.4" r="1.85"/><circle cx="404.3" cy="155.3" r="1.85"/><circle cx="405.2" cy="189.0" r="1.85"/><circle cx="400.2" cy="195.5" r="1.85"/><circle cx="404.7" cy="159.2" r="1.85"/><circle cx="404.8" cy="185.2" r="1.85"/><circle cx="401.2" cy="138.8" r="1.85"/><circle cx="402.4" cy="139.7" r="1.85"/><circle cx="404.9" cy="128.8" r="1.85"/><circle cx="403.7" cy="143.7" r="1.85"/><circle cx="402.3" cy="143.3" r="1.85"/><circle cx="405.4" cy="137.7" r="1.85"/><circle cx="401.5" cy="144.0" r="1.85"/><circle cx="404.2" cy="148.0" r="1.85"/></g><g fill="#e3201c"><circle cx="435.4" cy="48.0" r="1.85"/><circle cx="444.5" cy="62.7" r="1.85"/><circle cx="447.6" cy="74.0" r="1.85"/><circle cx="439.3" cy="78.6" r="1.85"/><circle cx="420.2" cy="81.2" r="1.85"/><circle cx="426.7" cy="82.4" r="1.85"/><circle cx="425.5" cy="89.9" r="1.85"/><circle cx="430.7" cy="91.3" r="1.85"/><circle cx="444.5" cy="95.4" r="1.85"/><circle cx="449.8" cy="96.4" r="1.85"/><circle cx="416.3" cy="112.3" r="1.85"/><circle cx="418.7" cy="115.9" r="1.85"/><circle cx="421.6" cy="111.3" r="1.85"/><circle cx="427.0" cy="108.5" r="1.85"/><circle cx="434.6" cy="106.5" r="1.85"/><circle cx="440.4" cy="107.7" r="1.85"/><circle cx="439.0" cy="110.4" r="1.85"/><circle cx="433.9" cy="111.3" r="1.85"/><circle cx="428.1" cy="115.2" r="1.85"/><circle cx="437.5" cy="114.5" r="1.85"/><circle cx="423.1" cy="118.1" r="1.85"/><circle cx="425.2" cy="118.1" r="1.85"/><circle cx="432.5" cy="118.8" r="1.85"/><circle cx="434.6" cy="116.6" r="1.85"/><circle cx="439.0" cy="118.1" r="1.85"/><circle cx="440.4" cy="119.5" r="1.85"/><circle cx="451.0" cy="119.2" r="1.85"/><circle cx="423.1" cy="122.4" r="1.85"/><circle cx="431.7" cy="123.9" r="1.85"/><circle cx="445.2" cy="124.1" r="1.85"/><circle cx="418.4" cy="126.5" r="1.85"/><circle cx="423.5" cy="126.5" r="1.85"/><circle cx="444.5" cy="128.9" r="1.85"/><circle cx="472.7" cy="154.4" r="1.85"/><circle cx="446.2" cy="153.0" r="1.85"/><circle cx="446.2" cy="163.7" r="1.85"/><circle cx="443.3" cy="170.4" r="1.85"/><circle cx="443.3" cy="174.5" r="1.85"/><circle cx="437.5" cy="186.9" r="1.85"/><circle cx="442.8" cy="191.4" r="1.85"/><circle cx="442.6" cy="196.3" r="1.85"/><circle cx="438.6" cy="200.5" r="1.85"/><circle cx="441.3" cy="200.5" r="1.85"/><circle cx="441.0" cy="205.0" r="1.85"/><circle cx="431.1" cy="205.5" r="1.85"/><circle cx="440.8" cy="205.2" r="1.85"/><circle cx="419.7" cy="206.1" r="1.85"/><circle cx="418.4" cy="199.2" r="1.85"/><circle cx="416.4" cy="189.7" r="1.85"/><circle cx="419.1" cy="164.1" r="1.85"/><circle cx="423.9" cy="194.6" r="1.85"/><circle cx="423.7" cy="168.9" r="1.85"/><circle cx="417.2" cy="188.3" r="1.85"/><circle cx="418.2" cy="155.0" r="1.85"/><circle cx="421.9" cy="172.9" r="1.85"/><circle cx="418.3" cy="207.7" r="1.85"/><circle cx="417.0" cy="153.5" r="1.85"/><circle cx="420.0" cy="184.4" r="1.85"/><circle cx="422.8" cy="191.4" r="1.85"/><circle cx="423.0" cy="177.4" r="1.85"/><circle cx="421.7" cy="168.9" r="1.85"/><circle cx="422.1" cy="196.0" r="1.85"/><circle cx="416.7" cy="159.1" r="1.85"/><circle cx="416.6" cy="205.7" r="1.85"/><circle cx="421.0" cy="193.7" r="1.85"/><circle cx="419.3" cy="162.3" r="1.85"/><circle cx="421.8" cy="175.9" r="1.85"/><circle cx="422.9" cy="185.6" r="1.85"/><circle cx="417.7" cy="200.8" r="1.85"/><circle cx="418.6" cy="164.9" r="1.85"/><circle cx="416.8" cy="163.0" r="1.85"/><circle cx="423.1" cy="177.7" r="1.85"/><circle cx="427.5" cy="198.0" r="1.85"/><circle cx="420.4" cy="168.1" r="1.85"/><circle cx="422.1" cy="166.1" r="1.85"/><circle cx="420.4" cy="188.1" r="1.85"/><circle cx="418.9" cy="205.4" r="1.85"/><circle cx="426.6" cy="189.3" r="1.85"/><circle cx="424.7" cy="208.3" r="1.85"/><circle cx="421.9" cy="174.4" r="1.85"/><circle cx="423.9" cy="195.4" r="1.85"/><circle cx="421.4" cy="162.9" r="1.85"/><circle cx="421.0" cy="186.3" r="1.85"/><circle cx="417.2" cy="192.2" r="1.85"/><circle cx="426.3" cy="182.1" r="1.85"/><circle cx="417.4" cy="196.4" r="1.85"/><circle cx="425.8" cy="183.4" r="1.85"/><circle cx="422.6" cy="180.2" r="1.85"/><circle cx="418.8" cy="158.8" r="1.85"/><circle cx="425.8" cy="195.6" r="1.85"/><circle cx="420.9" cy="208.3" r="1.85"/><circle cx="427.8" cy="194.4" r="1.85"/><circle cx="420.2" cy="205.4" r="1.85"/><circle cx="420.5" cy="186.6" r="1.85"/><circle cx="419.8" cy="172.5" r="1.85"/><circle cx="421.9" cy="181.5" r="1.85"/><circle cx="427.1" cy="187.8" r="1.85"/><circle cx="421.5" cy="178.4" r="1.85"/><circle cx="425.6" cy="187.1" r="1.85"/><circle cx="421.1" cy="172.0" r="1.85"/><circle cx="424.9" cy="188.2" r="1.85"/><circle cx="424.7" cy="199.2" r="1.85"/><circle cx="420.4" cy="163.1" r="1.85"/><circle cx="417.3" cy="185.8" r="1.85"/><circle cx="426.3" cy="199.2" r="1.85"/><circle cx="420.3" cy="195.0" r="1.85"/><circle cx="416.4" cy="186.1" r="1.85"/><circle cx="419.9" cy="177.6" r="1.85"/><circle cx="418.9" cy="161.7" r="1.85"/><circle cx="418.7" cy="187.9" r="1.85"/><circle cx="426.6" cy="178.9" r="1.85"/><circle cx="423.1" cy="198.0" r="1.85"/><circle cx="418.0" cy="206.4" r="1.85"/><circle cx="419.1" cy="181.6" r="1.85"/><circle cx="418.8" cy="156.4" r="1.85"/><circle cx="419.3" cy="174.8" r="1.85"/><circle cx="419.1" cy="203.8" r="1.85"/><circle cx="419.7" cy="203.3" r="1.85"/><circle cx="424.0" cy="202.9" r="1.85"/><circle cx="418.0" cy="154.6" r="1.85"/><circle cx="419.1" cy="178.8" r="1.85"/><circle cx="421.0" cy="193.2" r="1.85"/><circle cx="417.4" cy="190.9" r="1.85"/><circle cx="425.4" cy="181.3" r="1.85"/><circle cx="423.3" cy="167.1" r="1.85"/><circle cx="418.0" cy="183.2" r="1.85"/><circle cx="419.8" cy="207.8" r="1.85"/><circle cx="425.6" cy="202.4" r="1.85"/><circle cx="418.3" cy="171.8" r="1.85"/><circle cx="421.9" cy="185.3" r="1.85"/><circle cx="419.7" cy="160.3" r="1.85"/><circle cx="416.5" cy="163.5" r="1.85"/><circle cx="422.0" cy="207.9" r="1.85"/><circle cx="419.3" cy="161.9" r="1.85"/><circle cx="427.0" cy="195.2" r="1.85"/><circle cx="419.7" cy="182.7" r="1.85"/><circle cx="417.5" cy="191.1" r="1.85"/><circle cx="417.4" cy="206.7" r="1.85"/><circle cx="421.1" cy="187.1" r="1.85"/><circle cx="425.9" cy="186.1" r="1.85"/><circle cx="420.6" cy="181.0" r="1.85"/><circle cx="427.3" cy="186.0" r="1.85"/><circle cx="422.1" cy="179.8" r="1.85"/><circle cx="419.7" cy="182.7" r="1.85"/><circle cx="422.1" cy="171.3" r="1.85"/><circle cx="419.3" cy="180.2" r="1.85"/><circle cx="420.8" cy="164.6" r="1.85"/><circle cx="416.8" cy="176.5" r="1.85"/><circle cx="417.4" cy="152.8" r="1.85"/><circle cx="416.9" cy="190.5" r="1.85"/><circle cx="419.0" cy="170.6" r="1.85"/><circle cx="423.0" cy="166.7" r="1.85"/><circle cx="423.7" cy="188.8" r="1.85"/><circle cx="422.7" cy="193.7" r="1.85"/><circle cx="419.7" cy="159.9" r="1.85"/><circle cx="421.6" cy="198.6" r="1.85"/><circle cx="421.8" cy="177.8" r="1.85"/><circle cx="426.8" cy="199.3" r="1.85"/><circle cx="427.4" cy="191.8" r="1.85"/><circle cx="424.2" cy="174.2" r="1.85"/><circle cx="419.0" cy="200.3" r="1.85"/><circle cx="423.9" cy="206.9" r="1.85"/><circle cx="419.0" cy="204.0" r="1.85"/><circle cx="418.6" cy="193.5" r="1.85"/><circle cx="421.4" cy="198.7" r="1.85"/><circle cx="423.4" cy="167.2" r="1.85"/><circle cx="424.9" cy="186.9" r="1.85"/><circle cx="425.0" cy="200.6" r="1.85"/><circle cx="417.8" cy="201.2" r="1.85"/><circle cx="425.1" cy="196.8" r="1.85"/><circle cx="425.4" cy="178.8" r="1.85"/><circle cx="416.3" cy="180.6" r="1.85"/><circle cx="417.1" cy="155.9" r="1.85"/><circle cx="420.2" cy="192.7" r="1.85"/><circle cx="416.6" cy="200.4" r="1.85"/><circle cx="417.3" cy="168.6" r="1.85"/><circle cx="424.0" cy="180.1" r="1.85"/><circle cx="421.5" cy="174.5" r="1.85"/><circle cx="422.9" cy="205.0" r="1.85"/><circle cx="425.6" cy="201.9" r="1.85"/><circle cx="419.4" cy="187.4" r="1.85"/><circle cx="424.2" cy="194.3" r="1.85"/><circle cx="421.1" cy="204.0" r="1.85"/><circle cx="421.9" cy="201.4" r="1.85"/><circle cx="421.8" cy="191.9" r="1.85"/><circle cx="418.8" cy="163.4" r="1.85"/><circle cx="422.6" cy="186.8" r="1.85"/><circle cx="422.2" cy="199.4" r="1.85"/><circle cx="417.1" cy="171.7" r="1.85"/><circle cx="418.1" cy="198.3" r="1.85"/><circle cx="419.4" cy="189.4" r="1.85"/><circle cx="424.8" cy="177.0" r="1.85"/><circle cx="421.7" cy="205.2" r="1.85"/><circle cx="418.5" cy="190.4" r="1.85"/><circle cx="416.6" cy="164.2" r="1.85"/><circle cx="422.0" cy="204.2" r="1.85"/><circle cx="426.5" cy="196.1" r="1.85"/><circle cx="417.8" cy="183.9" r="1.85"/><circle cx="424.9" cy="197.9" r="1.85"/><circle cx="421.4" cy="184.0" r="1.85"/><circle cx="420.3" cy="169.8" r="1.85"/><circle cx="417.1" cy="193.5" r="1.85"/><circle cx="419.7" cy="207.8" r="1.85"/><circle cx="418.8" cy="179.8" r="1.85"/><circle cx="417.1" cy="204.1" r="1.85"/><circle cx="425.1" cy="181.1" r="1.85"/><circle cx="418.1" cy="188.2" r="1.85"/><circle cx="421.7" cy="171.0" r="1.85"/><circle cx="426.0" cy="185.8" r="1.85"/><circle cx="417.7" cy="170.9" r="1.85"/><circle cx="417.6" cy="179.1" r="1.85"/><circle cx="421.5" cy="162.1" r="1.85"/><circle cx="420.6" cy="186.1" r="1.85"/><circle cx="422.3" cy="184.8" r="1.85"/><circle cx="419.7" cy="172.2" r="1.85"/><circle cx="423.9" cy="187.6" r="1.85"/><circle cx="420.5" cy="201.1" r="1.85"/><circle cx="417.2" cy="154.9" r="1.85"/><circle cx="417.0" cy="166.1" r="1.85"/><circle cx="418.1" cy="171.7" r="1.85"/><circle cx="422.0" cy="164.4" r="1.85"/><circle cx="423.0" cy="190.9" r="1.85"/><circle cx="420.0" cy="158.4" r="1.85"/><circle cx="417.1" cy="156.5" r="1.85"/><circle cx="424.8" cy="175.5" r="1.85"/><circle cx="427.3" cy="193.7" r="1.85"/><circle cx="417.2" cy="194.2" r="1.85"/><circle cx="426.2" cy="186.6" r="1.85"/><circle cx="427.1" cy="196.5" r="1.85"/><circle cx="421.1" cy="166.8" r="1.85"/><circle cx="416.4" cy="155.1" r="1.85"/><circle cx="417.8" cy="176.5" r="1.85"/><circle cx="419.2" cy="206.4" r="1.85"/><circle cx="418.4" cy="182.6" r="1.85"/><circle cx="422.3" cy="173.8" r="1.85"/><circle cx="425.5" cy="205.7" r="1.85"/><circle cx="420.4" cy="174.4" r="1.85"/><circle cx="427.0" cy="190.4" r="1.85"/><circle cx="420.6" cy="191.9" r="1.85"/><circle cx="416.3" cy="152.8" r="1.85"/><circle cx="426.5" cy="186.0" r="1.85"/><circle cx="416.8" cy="206.5" r="1.85"/><circle cx="418.1" cy="205.4" r="1.85"/><circle cx="426.7" cy="181.9" r="1.85"/><circle cx="417.1" cy="155.0" r="1.85"/><circle cx="418.9" cy="161.6" r="1.85"/><circle cx="416.5" cy="192.7" r="1.85"/><circle cx="424.3" cy="179.2" r="1.85"/><circle cx="425.7" cy="197.2" r="1.85"/><circle cx="421.8" cy="194.3" r="1.85"/><circle cx="419.7" cy="182.0" r="1.85"/><circle cx="423.3" cy="197.4" r="1.85"/><circle cx="421.1" cy="184.7" r="1.85"/><circle cx="417.4" cy="207.3" r="1.85"/><circle cx="416.8" cy="187.5" r="1.85"/><circle cx="421.5" cy="197.4" r="1.85"/><circle cx="416.4" cy="156.2" r="1.85"/><circle cx="421.9" cy="189.0" r="1.85"/><circle cx="426.3" cy="198.1" r="1.85"/><circle cx="425.1" cy="177.7" r="1.85"/><circle cx="418.6" cy="162.9" r="1.85"/><circle cx="417.1" cy="189.4" r="1.85"/><circle cx="423.0" cy="189.9" r="1.85"/><circle cx="421.8" cy="163.9" r="1.85"/><circle cx="422.9" cy="188.5" r="1.85"/><circle cx="416.3" cy="160.3" r="1.85"/><circle cx="420.2" cy="205.4" r="1.85"/><circle cx="416.7" cy="205.4" r="1.85"/><circle cx="423.3" cy="174.9" r="1.85"/><circle cx="424.9" cy="201.3" r="1.85"/><circle cx="426.1" cy="179.1" r="1.85"/><circle cx="422.1" cy="198.7" r="1.85"/><circle cx="419.9" cy="198.5" r="1.85"/><circle cx="417.9" cy="182.6" r="1.85"/><circle cx="416.4" cy="193.4" r="1.85"/><circle cx="419.4" cy="190.0" r="1.85"/><circle cx="417.2" cy="175.0" r="1.85"/><circle cx="419.7" cy="190.0" r="1.85"/><circle cx="422.7" cy="184.7" r="1.85"/><circle cx="416.7" cy="193.9" r="1.85"/><circle cx="421.9" cy="185.9" r="1.85"/><circle cx="416.5" cy="203.2" r="1.85"/><circle cx="416.7" cy="181.1" r="1.85"/><circle cx="421.1" cy="165.7" r="1.85"/><circle cx="417.4" cy="164.4" r="1.85"/><circle cx="421.0" cy="201.9" r="1.85"/><circle cx="427.4" cy="144.0" r="1.85"/><circle cx="427.9" cy="140.1" r="1.85"/><circle cx="423.7" cy="157.8" r="1.85"/><circle cx="428.5" cy="178.1" r="1.85"/><circle cx="429.2" cy="198.0" r="1.85"/><circle cx="429.8" cy="203.1" r="1.85"/><circle cx="424.9" cy="168.6" r="1.85"/><circle cx="425.3" cy="171.3" r="1.85"/><circle cx="439.4" cy="159.2" r="1.85"/><circle cx="438.5" cy="149.7" r="1.85"/><circle cx="424.0" cy="157.3" r="1.85"/><circle cx="441.7" cy="151.2" r="1.85"/><circle cx="431.2" cy="151.5" r="1.85"/><circle cx="427.3" cy="154.0" r="1.85"/><circle cx="418.7" cy="148.4" r="1.85"/><circle cx="424.9" cy="144.1" r="1.85"/><circle cx="425.0" cy="150.2" r="1.85"/><circle cx="436.1" cy="189.0" r="1.85"/><circle cx="444.8" cy="151.1" r="1.85"/><circle cx="435.1" cy="171.0" r="1.85"/><circle cx="427.4" cy="177.5" r="1.85"/><circle cx="427.9" cy="168.4" r="1.85"/><circle cx="429.3" cy="188.3" r="1.85"/><circle cx="430.7" cy="165.3" r="1.85"/><circle cx="438.7" cy="157.8" r="1.85"/><circle cx="434.4" cy="158.4" r="1.85"/><circle cx="428.9" cy="208.5" r="1.85"/><circle cx="426.0" cy="142.6" r="1.85"/><circle cx="428.6" cy="187.8" r="1.85"/><circle cx="427.4" cy="152.6" r="1.85"/><circle cx="432.1" cy="170.9" r="1.85"/><circle cx="431.0" cy="169.4" r="1.85"/><circle cx="441.8" cy="149.4" r="1.85"/><circle cx="425.2" cy="143.9" r="1.85"/><circle cx="442.2" cy="161.8" r="1.85"/><circle cx="438.9" cy="141.8" r="1.85"/><circle cx="438.5" cy="147.6" r="1.85"/><circle cx="426.2" cy="165.4" r="1.85"/><circle cx="432.4" cy="195.9" r="1.85"/><circle cx="427.5" cy="164.2" r="1.85"/><circle cx="440.0" cy="144.9" r="1.85"/><circle cx="431.9" cy="185.9" r="1.85"/><circle cx="429.5" cy="157.5" r="1.85"/><circle cx="430.8" cy="167.9" r="1.85"/><circle cx="436.0" cy="162.5" r="1.85"/><circle cx="423.6" cy="154.8" r="1.85"/><circle cx="428.5" cy="198.7" r="1.85"/><circle cx="431.9" cy="154.9" r="1.85"/><circle cx="430.2" cy="151.0" r="1.85"/><circle cx="424.6" cy="142.0" r="1.85"/><circle cx="419.1" cy="153.9" r="1.85"/><circle cx="424.0" cy="149.6" r="1.85"/><circle cx="444.8" cy="150.8" r="1.85"/><circle cx="428.4" cy="164.9" r="1.85"/><circle cx="438.8" cy="156.4" r="1.85"/><circle cx="439.6" cy="154.8" r="1.85"/><circle cx="437.2" cy="168.9" r="1.85"/><circle cx="428.5" cy="165.0" r="1.85"/><circle cx="434.5" cy="184.5" r="1.85"/><circle cx="419.0" cy="142.5" r="1.85"/><circle cx="435.3" cy="163.6" r="1.85"/><circle cx="444.1" cy="143.2" r="1.85"/><circle cx="431.1" cy="206.2" r="1.85"/><circle cx="436.3" cy="186.7" r="1.85"/><circle cx="441.5" cy="146.5" r="1.85"/><circle cx="429.8" cy="168.2" r="1.85"/><circle cx="422.6" cy="155.0" r="1.85"/><circle cx="432.7" cy="141.8" r="1.85"/><circle cx="444.5" cy="152.6" r="1.85"/><circle cx="437.7" cy="178.3" r="1.85"/><circle cx="437.2" cy="192.8" r="1.85"/><circle cx="426.3" cy="151.9" r="1.85"/><circle cx="430.4" cy="176.8" r="1.85"/><circle cx="430.7" cy="204.8" r="1.85"/><circle cx="421.6" cy="146.9" r="1.85"/><circle cx="440.0" cy="152.8" r="1.85"/><circle cx="432.8" cy="183.9" r="1.85"/><circle cx="437.5" cy="186.5" r="1.85"/><circle cx="419.0" cy="153.8" r="1.85"/><circle cx="428.0" cy="190.4" r="1.85"/><circle cx="426.8" cy="163.4" r="1.85"/><circle cx="431.9" cy="156.2" r="1.85"/><circle cx="416.6" cy="140.8" r="1.85"/><circle cx="431.4" cy="160.7" r="1.85"/><circle cx="438.1" cy="181.2" r="1.85"/><circle cx="439.5" cy="143.7" r="1.85"/><circle cx="436.4" cy="178.4" r="1.85"/><circle cx="433.1" cy="141.2" r="1.85"/><circle cx="425.6" cy="145.2" r="1.85"/><circle cx="435.9" cy="182.9" r="1.85"/><circle cx="428.7" cy="148.1" r="1.85"/><circle cx="440.1" cy="157.0" r="1.85"/><circle cx="424.8" cy="149.0" r="1.85"/><circle cx="422.3" cy="146.8" r="1.85"/><circle cx="433.8" cy="143.2" r="1.85"/><circle cx="428.8" cy="148.0" r="1.85"/><circle cx="435.4" cy="166.0" r="1.85"/><circle cx="434.9" cy="170.5" r="1.85"/><circle cx="444.3" cy="141.4" r="1.85"/><circle cx="443.4" cy="162.1" r="1.85"/><circle cx="441.4" cy="157.3" r="1.85"/><circle cx="435.5" cy="148.0" r="1.85"/><circle cx="428.7" cy="171.6" r="1.85"/><circle cx="426.5" cy="169.0" r="1.85"/><circle cx="439.2" cy="180.3" r="1.85"/><circle cx="437.3" cy="168.4" r="1.85"/><circle cx="433.7" cy="201.1" r="1.85"/><circle cx="433.4" cy="141.7" r="1.85"/><circle cx="420.8" cy="148.1" r="1.85"/><circle cx="440.0" cy="166.7" r="1.85"/><circle cx="429.7" cy="164.9" r="1.85"/><circle cx="428.5" cy="201.6" r="1.85"/><circle cx="428.5" cy="157.9" r="1.85"/><circle cx="441.0" cy="146.4" r="1.85"/><circle cx="437.2" cy="173.4" r="1.85"/><circle cx="443.1" cy="144.3" r="1.85"/><circle cx="418.1" cy="147.1" r="1.85"/><circle cx="435.9" cy="188.2" r="1.85"/><circle cx="431.2" cy="162.4" r="1.85"/><circle cx="434.6" cy="160.4" r="1.85"/><circle cx="446.0" cy="113.9" r="1.85"/><circle cx="444.0" cy="121.9" r="1.85"/><circle cx="441.0" cy="135.2" r="1.85"/><circle cx="419.5" cy="133.0" r="1.85"/><circle cx="426.3" cy="134.1" r="1.85"/><circle cx="437.8" cy="133.0" r="1.85"/><circle cx="445.5" cy="112.4" r="1.85"/><circle cx="418.6" cy="138.9" r="1.85"/><circle cx="438.9" cy="131.7" r="1.85"/><circle cx="417.5" cy="134.6" r="1.85"/><circle cx="437.9" cy="124.9" r="1.85"/><circle cx="445.0" cy="112.7" r="1.85"/><circle cx="427.0" cy="133.3" r="1.85"/><circle cx="429.4" cy="138.7" r="1.85"/><circle cx="423.2" cy="136.7" r="1.85"/><circle cx="436.0" cy="130.2" r="1.85"/><circle cx="446.5" cy="137.7" r="1.85"/><circle cx="421.7" cy="137.6" r="1.85"/><circle cx="418.8" cy="129.5" r="1.85"/><circle cx="418.6" cy="122.2" r="1.85"/><circle cx="444.0" cy="131.8" r="1.85"/><circle cx="438.1" cy="116.4" r="1.85"/><circle cx="444.5" cy="132.8" r="1.85"/><circle cx="438.2" cy="125.4" r="1.85"/><circle cx="424.1" cy="130.7" r="1.85"/><circle cx="433.0" cy="124.7" r="1.85"/><circle cx="441.9" cy="123.2" r="1.85"/><circle cx="434.6" cy="139.7" r="1.85"/><circle cx="421.3" cy="123.0" r="1.85"/><circle cx="417.0" cy="137.8" r="1.85"/><circle cx="418.1" cy="135.0" r="1.85"/><circle cx="418.6" cy="112.4" r="1.85"/><circle cx="438.8" cy="130.7" r="1.85"/><circle cx="432.8" cy="125.4" r="1.85"/><circle cx="421.3" cy="113.9" r="1.85"/><circle cx="433.1" cy="131.1" r="1.85"/><circle cx="428.3" cy="122.3" r="1.85"/><circle cx="426.7" cy="116.6" r="1.85"/></g>
<line x1="407.75" y1="35.50" x2="407.75" y2="256.00" stroke="#f3b13a" stroke-width="1.3" stroke-dasharray="8.3 6.35" stroke-dashoffset="3.6"/>
<line x1="414.25" y1="35.50" x2="414.25" y2="256.00" stroke="#f3b13a" stroke-width="1.3" stroke-dasharray="8.3 6.35" stroke-dashoffset="3.6"/>
<line x1="323.70" y1="208.4" x2="525.60" y2="208.4" stroke="#f3b13a" stroke-width="1.3" stroke-dasharray="8.3 6.06" stroke-dashoffset="3.2"/>
<line x1="323.10" y1="35.30" x2="323.10" y2="257.80" stroke="#2e2727" stroke-width="1.3" />
<line x1="322.60" y1="257.30" x2="525.60" y2="257.30" stroke="#2e2727" stroke-width="1.3" />
<line x1="319.90" y1="245.00" x2="323.10" y2="245.00" stroke="#2e2727" stroke-width="1.3" />
<text x="0" y="0" font-size="15.5" text-anchor="middle" fill="#1a1a1a" transform="translate(316.60 245.00) rotate(-90)" >0</text>
<line x1="319.90" y1="215.05" x2="323.10" y2="215.05" stroke="#2e2727" stroke-width="1.3" />
<text x="0" y="0" font-size="15.5" text-anchor="middle" fill="#1a1a1a" transform="translate(316.60 215.05) rotate(-90)" >1</text>
<line x1="319.90" y1="185.10" x2="323.10" y2="185.10" stroke="#2e2727" stroke-width="1.3" />
<text x="0" y="0" font-size="15.5" text-anchor="middle" fill="#1a1a1a" transform="translate(316.60 185.10) rotate(-90)" >2</text>
<line x1="319.90" y1="155.15" x2="323.10" y2="155.15" stroke="#2e2727" stroke-width="1.3" />
<text x="0" y="0" font-size="15.5" text-anchor="middle" fill="#1a1a1a" transform="translate(316.60 155.15) rotate(-90)" >3</text>
<line x1="319.90" y1="125.20" x2="323.10" y2="125.20" stroke="#2e2727" stroke-width="1.3" />
<text x="0" y="0" font-size="15.5" text-anchor="middle" fill="#1a1a1a" transform="translate(316.60 125.20) rotate(-90)" >4</text>
<line x1="319.90" y1="95.25" x2="323.10" y2="95.25" stroke="#2e2727" stroke-width="1.3" />
<text x="0" y="0" font-size="15.5" text-anchor="middle" fill="#1a1a1a" transform="translate(316.60 95.25) rotate(-90)" >5</text>
<line x1="319.90" y1="65.30" x2="323.10" y2="65.30" stroke="#2e2727" stroke-width="1.3" />
<text x="0" y="0" font-size="15.5" text-anchor="middle" fill="#1a1a1a" transform="translate(316.60 65.30) rotate(-90)" >6</text>
<line x1="319.90" y1="35.35" x2="323.10" y2="35.35" stroke="#2e2727" stroke-width="1.3" />
<line x1="336.00" y1="257.30" x2="336.00" y2="260.60" stroke="#2e2727" stroke-width="1.3" />
<text x="0" y="0" font-size="15" text-anchor="middle" fill="#1a1a1a" transform="translate(337.80 275.60) scale(1 1.05)" >-6</text>
<line x1="361.00" y1="257.30" x2="361.00" y2="260.60" stroke="#2e2727" stroke-width="1.3" />
<text x="0" y="0" font-size="15" text-anchor="middle" fill="#1a1a1a" transform="translate(362.80 275.60) scale(1 1.05)" >-4</text>
<line x1="386.00" y1="257.30" x2="386.00" y2="260.60" stroke="#2e2727" stroke-width="1.3" />
<text x="0" y="0" font-size="15" text-anchor="middle" fill="#1a1a1a" transform="translate(387.80 275.60) scale(1 1.05)" >-2</text>
<line x1="411.00" y1="257.30" x2="411.00" y2="260.60" stroke="#2e2727" stroke-width="1.3" />
<text x="0" y="0" font-size="15" text-anchor="middle" fill="#1a1a1a" transform="translate(411.00 275.60) scale(1 1.05)" >0</text>
<line x1="436.00" y1="257.30" x2="436.00" y2="260.60" stroke="#2e2727" stroke-width="1.3" />
<text x="0" y="0" font-size="15" text-anchor="middle" fill="#1a1a1a" transform="translate(436.00 275.60) scale(1 1.05)" >2</text>
<line x1="461.00" y1="257.30" x2="461.00" y2="260.60" stroke="#2e2727" stroke-width="1.3" />
<text x="0" y="0" font-size="15" text-anchor="middle" fill="#1a1a1a" transform="translate(461.00 275.60) scale(1 1.05)" >4</text>
<line x1="486.00" y1="257.30" x2="486.00" y2="260.60" stroke="#2e2727" stroke-width="1.3" />
<text x="0" y="0" font-size="15" text-anchor="middle" fill="#1a1a1a" transform="translate(486.00 275.60) scale(1 1.05)" >6</text>
<line x1="511.00" y1="257.30" x2="511.00" y2="260.60" stroke="#2e2727" stroke-width="1.3" />
<text x="0" y="0" font-size="15" text-anchor="middle" fill="#1a1a1a" transform="translate(511.00 275.60) scale(1 1.05)" >8</text>
<text x="0" y="0" font-size="16" text-anchor="middle" fill="#222" transform="translate(434.70 299.20) scale(1 1.06)" >Log<tspan font-size="10" dy="4.8">2</tspan><tspan dy="-4.8"> Ratio(T120/T0)</tspan></text>
<text x="0" y="0" font-size="16" text-anchor="middle" fill="#222" transform="translate(293.80 151.50) rotate(-90) scale(1 1.05)" >-Log<tspan font-size="10.5" dy="5.2">10</tspan><tspan dy="-5.2"> </tspan><tspan font-style="italic">p</tspan>-value</text>
<text x="0" y="0" font-size="15.8" text-anchor="start" fill="#1a1a1a" transform="translate(327.70 44.70)" >down: 489</text>
<text x="0" y="0" font-size="15.8" text-anchor="start" fill="#1a1a1a" transform="translate(415.30 44.70)" >up: 703</text>
<text x="0" y="0" font-size="27" text-anchor="start" fill="#000" transform="translate(269.50 29.60)" >B</text>
<g fill="#a9a9a9"><circle cx="667.2" cy="125.3" r="1.85"/><circle cx="667.2" cy="129.3" r="1.85"/><circle cx="666.4" cy="143.8" r="1.85"/><circle cx="667.2" cy="146.9" r="1.85"/><circle cx="664.3" cy="156.4" r="1.85"/><circle cx="657.7" cy="157.3" r="1.85"/><circle cx="660.1" cy="160.6" r="1.85"/><circle cx="665.5" cy="161.3" r="1.85"/><circle cx="666.0" cy="165.0" r="1.85"/><circle cx="585.0" cy="232.2" r="1.85"/><circle cx="609.9" cy="219.9" r="1.85"/><circle cx="619.3" cy="216.3" r="1.85"/><circle cx="619.0" cy="219.6" r="1.85"/><circle cx="625.3" cy="222.4" r="1.85"/><circle cx="632.1" cy="222.4" r="1.85"/><circle cx="614.8" cy="229.5" r="1.85"/><circle cx="611.7" cy="234.0" r="1.85"/><circle cx="617.5" cy="232.5" r="1.85"/><circle cx="621.6" cy="236.3" r="1.85"/><circle cx="626.5" cy="229.0" r="1.85"/><circle cx="627.6" cy="240.5" r="1.85"/><circle cx="629.9" cy="235.5" r="1.85"/><circle cx="632.1" cy="231.0" r="1.85"/><circle cx="637.4" cy="224.2" r="1.85"/><circle cx="639.7" cy="223.4" r="1.85"/><circle cx="637.1" cy="237.0" r="1.85"/><circle cx="640.5" cy="207.6" r="1.85"/><circle cx="643.5" cy="212.1" r="1.85"/><circle cx="645.0" cy="219.6" r="1.85"/><circle cx="685.8" cy="212.1" r="1.85"/><circle cx="685.8" cy="223.4" r="1.85"/><circle cx="691.8" cy="221.9" r="1.85"/><circle cx="696.4" cy="221.2" r="1.85"/><circle cx="697.1" cy="229.5" r="1.85"/><circle cx="688.8" cy="231.7" r="1.85"/><circle cx="685.8" cy="237.0" r="1.85"/><circle cx="723.6" cy="208.4" r="1.85"/><circle cx="700.3" cy="217.2" r="1.85"/><circle cx="705.5" cy="217.6" r="1.85"/><circle cx="705.5" cy="220.4" r="1.85"/><circle cx="710.8" cy="221.2" r="1.85"/><circle cx="713.5" cy="220.4" r="1.85"/><circle cx="716.0" cy="218.7" r="1.85"/><circle cx="723.2" cy="218.7" r="1.85"/><circle cx="692.5" cy="221.5" r="1.85"/><circle cx="686.6" cy="224.7" r="1.85"/><circle cx="686.8" cy="230.5" r="1.85"/><circle cx="703.1" cy="226.8" r="1.85"/><circle cx="711.8" cy="226.1" r="1.85"/><circle cx="713.7" cy="227.8" r="1.85"/><circle cx="719.4" cy="231.2" r="1.85"/><circle cx="729.2" cy="233.3" r="1.85"/><circle cx="740.5" cy="233.1" r="1.85"/><circle cx="769.0" cy="232.6" r="1.85"/><circle cx="705.7" cy="233.5" r="1.85"/><circle cx="708.3" cy="238.0" r="1.85"/><circle cx="723.2" cy="233.9" r="1.85"/><circle cx="694.4" cy="234.7" r="1.85"/><circle cx="689.5" cy="232.8" r="1.85"/><circle cx="686.2" cy="240.5" r="1.85"/><circle cx="683.8" cy="243.8" r="1.85"/><circle cx="672.1" cy="211.9" r="1.85"/><circle cx="668.9" cy="239.7" r="1.85"/><circle cx="679.7" cy="227.6" r="1.85"/><circle cx="669.6" cy="222.2" r="1.85"/><circle cx="664.4" cy="212.5" r="1.85"/><circle cx="672.1" cy="230.7" r="1.85"/><circle cx="652.1" cy="222.5" r="1.85"/><circle cx="674.8" cy="224.9" r="1.85"/><circle cx="686.0" cy="244.4" r="1.85"/><circle cx="679.9" cy="211.9" r="1.85"/><circle cx="656.1" cy="234.6" r="1.85"/><circle cx="679.3" cy="229.3" r="1.85"/><circle cx="670.0" cy="229.7" r="1.85"/><circle cx="648.7" cy="223.9" r="1.85"/><circle cx="667.0" cy="209.4" r="1.85"/><circle cx="655.6" cy="214.4" r="1.85"/><circle cx="681.0" cy="235.4" r="1.85"/><circle cx="673.9" cy="234.4" r="1.85"/><circle cx="663.5" cy="242.4" r="1.85"/><circle cx="669.2" cy="219.0" r="1.85"/><circle cx="673.9" cy="226.3" r="1.85"/><circle cx="648.7" cy="231.4" r="1.85"/><circle cx="665.8" cy="208.6" r="1.85"/><circle cx="670.4" cy="211.8" r="1.85"/><circle cx="670.5" cy="221.1" r="1.85"/><circle cx="639.5" cy="245.5" r="1.85"/><circle cx="663.3" cy="217.6" r="1.85"/><circle cx="664.5" cy="226.0" r="1.85"/><circle cx="666.8" cy="228.6" r="1.85"/><circle cx="652.7" cy="216.3" r="1.85"/><circle cx="672.7" cy="224.4" r="1.85"/><circle cx="664.0" cy="242.4" r="1.85"/><circle cx="666.2" cy="210.5" r="1.85"/><circle cx="675.7" cy="223.3" r="1.85"/><circle cx="653.8" cy="215.7" r="1.85"/><circle cx="679.1" cy="234.6" r="1.85"/><circle cx="682.9" cy="234.4" r="1.85"/><circle cx="655.3" cy="228.8" r="1.85"/><circle cx="680.5" cy="233.4" r="1.85"/><circle cx="647.8" cy="244.3" r="1.85"/><circle cx="653.0" cy="208.7" r="1.85"/><circle cx="651.4" cy="227.6" r="1.85"/><circle cx="660.2" cy="220.8" r="1.85"/><circle cx="675.8" cy="231.4" r="1.85"/><circle cx="686.3" cy="240.7" r="1.85"/><circle cx="681.0" cy="243.0" r="1.85"/><circle cx="680.5" cy="226.5" r="1.85"/><circle cx="669.0" cy="244.4" r="1.85"/><circle cx="670.7" cy="229.7" r="1.85"/><circle cx="642.3" cy="232.6" r="1.85"/><circle cx="640.2" cy="235.6" r="1.85"/><circle cx="642.4" cy="235.8" r="1.85"/><circle cx="646.7" cy="234.7" r="1.85"/><circle cx="671.8" cy="243.5" r="1.85"/><circle cx="646.3" cy="217.1" r="1.85"/><circle cx="654.0" cy="211.3" r="1.85"/><circle cx="643.3" cy="226.2" r="1.85"/><circle cx="642.9" cy="244.2" r="1.85"/><circle cx="656.0" cy="208.6" r="1.85"/><circle cx="675.0" cy="220.7" r="1.85"/><circle cx="670.5" cy="237.4" r="1.85"/><circle cx="641.7" cy="228.7" r="1.85"/><circle cx="650.5" cy="233.4" r="1.85"/><circle cx="640.9" cy="238.8" r="1.85"/><circle cx="678.1" cy="243.5" r="1.85"/><circle cx="679.7" cy="230.0" r="1.85"/><circle cx="661.0" cy="228.3" r="1.85"/><circle cx="669.8" cy="244.6" r="1.85"/><circle cx="645.6" cy="226.8" r="1.85"/><circle cx="660.5" cy="217.6" r="1.85"/><circle cx="646.2" cy="237.5" r="1.85"/><circle cx="667.2" cy="234.0" r="1.85"/><circle cx="650.9" cy="226.2" r="1.85"/><circle cx="646.0" cy="214.1" r="1.85"/><circle cx="644.7" cy="232.5" r="1.85"/><circle cx="680.4" cy="229.6" r="1.85"/><circle cx="677.0" cy="211.4" r="1.85"/><circle cx="663.9" cy="213.7" r="1.85"/><circle cx="664.2" cy="217.7" r="1.85"/><circle cx="650.7" cy="242.5" r="1.85"/><circle cx="665.4" cy="217.5" r="1.85"/><circle cx="662.5" cy="219.0" r="1.85"/><circle cx="677.7" cy="223.2" r="1.85"/><circle cx="680.1" cy="230.5" r="1.85"/><circle cx="670.6" cy="231.0" r="1.85"/><circle cx="667.3" cy="210.8" r="1.85"/><circle cx="677.5" cy="231.2" r="1.85"/><circle cx="649.2" cy="226.9" r="1.85"/><circle cx="665.6" cy="228.1" r="1.85"/><circle cx="641.5" cy="226.9" r="1.85"/><circle cx="659.6" cy="232.3" r="1.85"/><circle cx="656.1" cy="213.8" r="1.85"/><circle cx="680.5" cy="217.7" r="1.85"/><circle cx="649.3" cy="224.6" r="1.85"/><circle cx="685.2" cy="234.4" r="1.85"/><circle cx="663.0" cy="210.8" r="1.85"/><circle cx="649.4" cy="212.7" r="1.85"/><circle cx="681.2" cy="241.3" r="1.85"/><circle cx="681.4" cy="232.7" r="1.85"/><circle cx="679.4" cy="210.0" r="1.85"/><circle cx="662.9" cy="238.0" r="1.85"/><circle cx="650.8" cy="221.3" r="1.85"/><circle cx="669.8" cy="232.7" r="1.85"/><circle cx="645.7" cy="237.7" r="1.85"/><circle cx="653.7" cy="215.9" r="1.85"/><circle cx="660.8" cy="221.5" r="1.85"/><circle cx="674.3" cy="238.7" r="1.85"/><circle cx="676.6" cy="240.3" r="1.85"/><circle cx="650.6" cy="232.8" r="1.85"/><circle cx="677.4" cy="239.5" r="1.85"/><circle cx="659.0" cy="241.7" r="1.85"/><circle cx="656.0" cy="241.4" r="1.85"/><circle cx="671.6" cy="210.9" r="1.85"/><circle cx="683.8" cy="237.1" r="1.85"/><circle cx="665.3" cy="243.9" r="1.85"/><circle cx="682.3" cy="238.2" r="1.85"/><circle cx="676.2" cy="235.1" r="1.85"/><circle cx="643.8" cy="230.2" r="1.85"/><circle cx="646.7" cy="234.5" r="1.85"/><circle cx="666.1" cy="219.1" r="1.85"/><circle cx="646.7" cy="232.2" r="1.85"/><circle cx="661.3" cy="227.7" r="1.85"/><circle cx="660.5" cy="214.3" r="1.85"/><circle cx="643.9" cy="230.8" r="1.85"/><circle cx="644.4" cy="222.8" r="1.85"/><circle cx="666.2" cy="237.7" r="1.85"/><circle cx="645.8" cy="222.5" r="1.85"/><circle cx="641.4" cy="244.9" r="1.85"/><circle cx="654.8" cy="229.6" r="1.85"/><circle cx="677.5" cy="216.7" r="1.85"/><circle cx="652.4" cy="220.2" r="1.85"/><circle cx="668.0" cy="244.4" r="1.85"/><circle cx="645.8" cy="244.4" r="1.85"/><circle cx="666.7" cy="225.8" r="1.85"/><circle cx="641.6" cy="234.9" r="1.85"/><circle cx="641.9" cy="239.7" r="1.85"/><circle cx="651.5" cy="238.8" r="1.85"/><circle cx="675.6" cy="222.2" r="1.85"/><circle cx="652.4" cy="229.5" r="1.85"/><circle cx="661.2" cy="223.6" r="1.85"/><circle cx="655.5" cy="236.0" r="1.85"/><circle cx="660.3" cy="218.1" r="1.85"/><circle cx="658.9" cy="212.8" r="1.85"/><circle cx="646.3" cy="238.7" r="1.85"/><circle cx="661.4" cy="225.2" r="1.85"/><circle cx="660.7" cy="215.3" r="1.85"/><circle cx="667.6" cy="219.9" r="1.85"/><circle cx="671.6" cy="220.3" r="1.85"/><circle cx="677.0" cy="242.9" r="1.85"/><circle cx="656.6" cy="231.5" r="1.85"/><circle cx="646.3" cy="230.6" r="1.85"/><circle cx="652.2" cy="225.1" r="1.85"/><circle cx="679.2" cy="240.7" r="1.85"/><circle cx="658.8" cy="233.6" r="1.85"/><circle cx="665.6" cy="222.7" r="1.85"/><circle cx="645.3" cy="224.0" r="1.85"/><circle cx="652.6" cy="215.4" r="1.85"/><circle cx="652.7" cy="221.1" r="1.85"/><circle cx="676.0" cy="238.3" r="1.85"/><circle cx="677.7" cy="229.4" r="1.85"/><circle cx="640.2" cy="239.1" r="1.85"/><circle cx="677.3" cy="212.7" r="1.85"/><circle cx="650.1" cy="225.3" r="1.85"/><circle cx="648.5" cy="245.3" r="1.85"/><circle cx="669.5" cy="229.6" r="1.85"/><circle cx="650.4" cy="223.1" r="1.85"/><circle cx="665.4" cy="237.1" r="1.85"/><circle cx="655.0" cy="224.1" r="1.85"/><circle cx="654.7" cy="226.5" r="1.85"/><circle cx="654.0" cy="217.5" r="1.85"/><circle cx="666.1" cy="241.9" r="1.85"/><circle cx="685.6" cy="243.5" r="1.85"/><circle cx="655.7" cy="243.8" r="1.85"/><circle cx="644.6" cy="218.2" r="1.85"/><circle cx="648.6" cy="231.6" r="1.85"/><circle cx="650.8" cy="219.4" r="1.85"/><circle cx="644.0" cy="234.2" r="1.85"/><circle cx="669.6" cy="225.5" r="1.85"/><circle cx="669.0" cy="240.7" r="1.85"/><circle cx="680.7" cy="231.4" r="1.85"/><circle cx="673.7" cy="213.9" r="1.85"/><circle cx="642.8" cy="227.6" r="1.85"/><circle cx="654.3" cy="235.4" r="1.85"/><circle cx="669.7" cy="238.9" r="1.85"/><circle cx="681.6" cy="237.6" r="1.85"/><circle cx="656.4" cy="227.4" r="1.85"/><circle cx="662.9" cy="234.6" r="1.85"/><circle cx="668.5" cy="230.3" r="1.85"/><circle cx="654.8" cy="226.7" r="1.85"/><circle cx="657.3" cy="237.7" r="1.85"/><circle cx="655.8" cy="218.2" r="1.85"/><circle cx="686.8" cy="243.6" r="1.85"/><circle cx="679.9" cy="241.3" r="1.85"/><circle cx="665.4" cy="235.9" r="1.85"/><circle cx="663.0" cy="210.0" r="1.85"/><circle cx="664.9" cy="244.9" r="1.85"/><circle cx="656.9" cy="233.5" r="1.85"/><circle cx="644.4" cy="233.0" r="1.85"/><circle cx="656.8" cy="244.5" r="1.85"/><circle cx="664.2" cy="234.0" r="1.85"/><circle cx="654.4" cy="221.0" r="1.85"/><circle cx="677.4" cy="227.2" r="1.85"/><circle cx="669.2" cy="241.1" r="1.85"/><circle cx="643.4" cy="221.7" r="1.85"/><circle cx="682.6" cy="232.8" r="1.85"/><circle cx="678.1" cy="231.7" r="1.85"/><circle cx="674.5" cy="211.3" r="1.85"/><circle cx="643.3" cy="236.8" r="1.85"/><circle cx="674.5" cy="220.0" r="1.85"/><circle cx="660.6" cy="240.8" r="1.85"/><circle cx="687.4" cy="245.1" r="1.85"/><circle cx="655.7" cy="227.7" r="1.85"/><circle cx="646.5" cy="224.4" r="1.85"/><circle cx="648.0" cy="218.8" r="1.85"/><circle cx="670.1" cy="239.2" r="1.85"/><circle cx="659.0" cy="244.7" r="1.85"/><circle cx="642.7" cy="233.6" r="1.85"/><circle cx="649.0" cy="225.2" r="1.85"/><circle cx="650.1" cy="240.5" r="1.85"/><circle cx="664.0" cy="208.6" r="1.85"/><circle cx="654.3" cy="223.7" r="1.85"/><circle cx="669.3" cy="216.2" r="1.85"/><circle cx="676.9" cy="224.0" r="1.85"/><circle cx="667.4" cy="224.9" r="1.85"/><circle cx="675.0" cy="239.4" r="1.85"/><circle cx="648.3" cy="221.6" r="1.85"/><circle cx="681.3" cy="233.7" r="1.85"/><circle cx="661.9" cy="232.4" r="1.85"/><circle cx="663.7" cy="241.1" r="1.85"/><circle cx="661.6" cy="223.8" r="1.85"/><circle cx="646.8" cy="234.7" r="1.85"/><circle cx="643.4" cy="225.9" r="1.85"/><circle cx="643.0" cy="226.9" r="1.85"/><circle cx="670.5" cy="239.8" r="1.85"/><circle cx="667.4" cy="234.5" r="1.85"/><circle cx="645.7" cy="222.6" r="1.85"/><circle cx="656.3" cy="227.8" r="1.85"/><circle cx="640.1" cy="244.2" r="1.85"/><circle cx="680.2" cy="215.5" r="1.85"/><circle cx="680.4" cy="229.9" r="1.85"/><circle cx="673.0" cy="229.0" r="1.85"/><circle cx="681.0" cy="236.1" r="1.85"/><circle cx="673.1" cy="245.3" r="1.85"/><circle cx="650.2" cy="234.0" r="1.85"/><circle cx="667.5" cy="229.6" r="1.85"/><circle cx="665.0" cy="235.3" r="1.85"/><circle cx="651.9" cy="226.7" r="1.85"/><circle cx="665.5" cy="224.4" r="1.85"/><circle cx="655.2" cy="231.6" r="1.85"/><circle cx="647.4" cy="223.5" r="1.85"/><circle cx="652.9" cy="226.0" r="1.85"/><circle cx="680.7" cy="237.7" r="1.85"/><circle cx="654.3" cy="215.0" r="1.85"/><circle cx="653.4" cy="242.7" r="1.85"/><circle cx="654.5" cy="217.6" r="1.85"/><circle cx="658.0" cy="241.8" r="1.85"/><circle cx="672.6" cy="209.8" r="1.85"/><circle cx="651.0" cy="223.9" r="1.85"/><circle cx="660.3" cy="220.1" r="1.85"/><circle cx="671.1" cy="219.3" r="1.85"/><circle cx="667.1" cy="241.0" r="1.85"/><circle cx="675.8" cy="241.1" r="1.85"/><circle cx="644.3" cy="223.4" r="1.85"/><circle cx="669.3" cy="220.9" r="1.85"/><circle cx="653.7" cy="212.2" r="1.85"/><circle cx="656.0" cy="243.7" r="1.85"/><circle cx="658.2" cy="210.8" r="1.85"/><circle cx="655.3" cy="209.0" r="1.85"/><circle cx="676.2" cy="215.8" r="1.85"/><circle cx="667.4" cy="243.3" r="1.85"/><circle cx="662.4" cy="242.8" r="1.85"/><circle cx="663.9" cy="214.7" r="1.85"/><circle cx="659.8" cy="210.7" r="1.85"/><circle cx="668.0" cy="223.0" r="1.85"/><circle cx="666.4" cy="214.9" r="1.85"/><circle cx="653.5" cy="240.2" r="1.85"/><circle cx="670.3" cy="233.5" r="1.85"/><circle cx="652.9" cy="219.1" r="1.85"/><circle cx="659.9" cy="212.4" r="1.85"/><circle cx="678.5" cy="216.8" r="1.85"/><circle cx="655.0" cy="218.4" r="1.85"/><circle cx="679.6" cy="231.1" r="1.85"/><circle cx="666.3" cy="241.3" r="1.85"/><circle cx="654.0" cy="218.6" r="1.85"/><circle cx="673.8" cy="228.7" r="1.85"/><circle cx="660.9" cy="211.6" r="1.85"/><circle cx="678.7" cy="233.4" r="1.85"/><circle cx="652.4" cy="240.3" r="1.85"/><circle cx="653.7" cy="216.2" r="1.85"/><circle cx="676.9" cy="212.0" r="1.85"/><circle cx="663.0" cy="226.2" r="1.85"/><circle cx="680.0" cy="241.0" r="1.85"/><circle cx="660.8" cy="214.8" r="1.85"/><circle cx="646.1" cy="224.0" r="1.85"/><circle cx="654.4" cy="212.3" r="1.85"/><circle cx="662.5" cy="230.4" r="1.85"/><circle cx="661.1" cy="215.0" r="1.85"/><circle cx="681.2" cy="215.9" r="1.85"/><circle cx="655.3" cy="211.6" r="1.85"/><circle cx="681.8" cy="240.9" r="1.85"/><circle cx="647.7" cy="233.6" r="1.85"/><circle cx="645.4" cy="243.1" r="1.85"/><circle cx="668.2" cy="212.8" r="1.85"/><circle cx="648.0" cy="239.3" r="1.85"/><circle cx="667.9" cy="231.2" r="1.85"/><circle cx="647.7" cy="242.9" r="1.85"/><circle cx="685.8" cy="239.1" r="1.85"/><circle cx="657.3" cy="237.1" r="1.85"/><circle cx="681.3" cy="233.3" r="1.85"/><circle cx="657.8" cy="232.9" r="1.85"/><circle cx="678.3" cy="239.4" r="1.85"/><circle cx="682.6" cy="221.4" r="1.85"/><circle cx="684.0" cy="237.6" r="1.85"/><circle cx="683.6" cy="230.2" r="1.85"/><circle cx="643.4" cy="240.5" r="1.85"/><circle cx="642.0" cy="228.4" r="1.85"/><circle cx="663.4" cy="238.2" r="1.85"/><circle cx="675.0" cy="242.2" r="1.85"/><circle cx="638.9" cy="244.0" r="1.85"/><circle cx="683.0" cy="224.6" r="1.85"/><circle cx="647.0" cy="231.3" r="1.85"/><circle cx="663.2" cy="227.6" r="1.85"/><circle cx="662.6" cy="212.5" r="1.85"/><circle cx="674.8" cy="232.8" r="1.85"/><circle cx="658.8" cy="235.6" r="1.85"/><circle cx="685.7" cy="241.3" r="1.85"/><circle cx="664.9" cy="215.7" r="1.85"/><circle cx="648.7" cy="214.7" r="1.85"/><circle cx="652.7" cy="243.2" r="1.85"/><circle cx="667.5" cy="211.2" r="1.85"/><circle cx="646.1" cy="230.3" r="1.85"/><circle cx="685.3" cy="241.7" r="1.85"/><circle cx="679.2" cy="229.8" r="1.85"/><circle cx="648.7" cy="226.1" r="1.85"/><circle cx="678.7" cy="218.2" r="1.85"/><circle cx="644.3" cy="230.1" r="1.85"/><circle cx="648.6" cy="219.5" r="1.85"/><circle cx="646.2" cy="216.4" r="1.85"/><circle cx="668.8" cy="236.5" r="1.85"/><circle cx="661.7" cy="230.2" r="1.85"/><circle cx="647.2" cy="217.5" r="1.85"/><circle cx="663.1" cy="239.5" r="1.85"/><circle cx="679.4" cy="209.6" r="1.85"/><circle cx="681.8" cy="220.8" r="1.85"/><circle cx="680.2" cy="222.0" r="1.85"/><circle cx="647.3" cy="239.9" r="1.85"/><circle cx="659.8" cy="240.6" r="1.85"/><circle cx="661.1" cy="230.6" r="1.85"/><circle cx="670.0" cy="222.9" r="1.85"/><circle cx="652.9" cy="236.7" r="1.85"/><circle cx="669.2" cy="219.1" r="1.85"/><circle cx="644.6" cy="227.1" r="1.85"/><circle cx="670.2" cy="219.4" r="1.85"/><circle cx="646.2" cy="238.1" r="1.85"/><circle cx="670.8" cy="231.9" r="1.85"/><circle cx="669.0" cy="209.4" r="1.85"/><circle cx="651.5" cy="239.9" r="1.85"/><circle cx="657.4" cy="212.8" r="1.85"/><circle cx="650.8" cy="225.8" r="1.85"/><circle cx="671.4" cy="228.9" r="1.85"/><circle cx="651.0" cy="211.2" r="1.85"/><circle cx="644.5" cy="234.4" r="1.85"/><circle cx="659.2" cy="238.6" r="1.85"/><circle cx="679.8" cy="241.1" r="1.85"/><circle cx="672.2" cy="221.1" r="1.85"/><circle cx="661.0" cy="234.2" r="1.85"/><circle cx="651.9" cy="225.0" r="1.85"/><circle cx="660.6" cy="219.6" r="1.85"/><circle cx="667.0" cy="226.1" r="1.85"/><circle cx="686.4" cy="238.8" r="1.85"/><circle cx="648.4" cy="239.5" r="1.85"/><circle cx="647.0" cy="214.3" r="1.85"/><circle cx="650.0" cy="232.3" r="1.85"/><circle cx="682.3" cy="224.2" r="1.85"/><circle cx="676.5" cy="245.4" r="1.85"/><circle cx="666.0" cy="243.2" r="1.85"/><circle cx="666.1" cy="234.0" r="1.85"/><circle cx="651.7" cy="245.0" r="1.85"/><circle cx="670.5" cy="235.3" r="1.85"/><circle cx="671.1" cy="237.9" r="1.85"/><circle cx="665.2" cy="218.3" r="1.85"/><circle cx="666.6" cy="245.4" r="1.85"/><circle cx="672.9" cy="212.0" r="1.85"/><circle cx="680.0" cy="226.6" r="1.85"/><circle cx="643.1" cy="243.6" r="1.85"/><circle cx="658.8" cy="229.3" r="1.85"/><circle cx="647.2" cy="221.9" r="1.85"/><circle cx="681.6" cy="240.2" r="1.85"/><circle cx="675.0" cy="242.0" r="1.85"/><circle cx="682.8" cy="241.0" r="1.85"/><circle cx="658.5" cy="217.4" r="1.85"/><circle cx="663.6" cy="231.5" r="1.85"/><circle cx="648.2" cy="235.8" r="1.85"/><circle cx="672.1" cy="208.6" r="1.85"/><circle cx="672.2" cy="223.7" r="1.85"/><circle cx="673.2" cy="237.0" r="1.85"/><circle cx="671.0" cy="218.1" r="1.85"/><circle cx="661.2" cy="210.7" r="1.85"/><circle cx="653.8" cy="218.1" r="1.85"/><circle cx="677.3" cy="219.0" r="1.85"/><circle cx="674.9" cy="214.3" r="1.85"/><circle cx="685.6" cy="242.4" r="1.85"/><circle cx="659.0" cy="236.4" r="1.85"/><circle cx="659.3" cy="213.2" r="1.85"/><circle cx="671.4" cy="225.2" r="1.85"/><circle cx="661.2" cy="231.5" r="1.85"/><circle cx="670.2" cy="224.7" r="1.85"/><circle cx="651.2" cy="238.3" r="1.85"/><circle cx="639.9" cy="241.8" r="1.85"/><circle cx="655.7" cy="235.8" r="1.85"/><circle cx="681.2" cy="214.4" r="1.85"/><circle cx="663.4" cy="223.5" r="1.85"/><circle cx="675.5" cy="237.8" r="1.85"/><circle cx="643.9" cy="243.2" r="1.85"/><circle cx="686.6" cy="239.4" r="1.85"/><circle cx="667.8" cy="230.3" r="1.85"/><circle cx="673.8" cy="223.3" r="1.85"/><circle cx="671.4" cy="238.7" r="1.85"/><circle cx="651.8" cy="213.3" r="1.85"/><circle cx="649.5" cy="231.4" r="1.85"/><circle cx="666.1" cy="232.3" r="1.85"/><circle cx="670.6" cy="241.1" r="1.85"/><circle cx="653.7" cy="216.9" r="1.85"/><circle cx="660.8" cy="243.9" r="1.85"/><circle cx="660.4" cy="230.2" r="1.85"/><circle cx="664.1" cy="213.7" r="1.85"/><circle cx="659.0" cy="217.8" r="1.85"/><circle cx="682.7" cy="239.0" r="1.85"/><circle cx="651.4" cy="209.4" r="1.85"/><circle cx="644.1" cy="238.1" r="1.85"/><circle cx="671.0" cy="233.5" r="1.85"/><circle cx="665.6" cy="221.8" r="1.85"/><circle cx="646.5" cy="212.2" r="1.85"/><circle cx="671.5" cy="220.7" r="1.85"/><circle cx="670.1" cy="211.8" r="1.85"/><circle cx="665.9" cy="231.9" r="1.85"/><circle cx="653.0" cy="231.1" r="1.85"/><circle cx="652.3" cy="222.9" r="1.85"/><circle cx="667.3" cy="245.2" r="1.85"/><circle cx="656.9" cy="228.6" r="1.85"/><circle cx="663.3" cy="238.9" r="1.85"/><circle cx="648.0" cy="225.4" r="1.85"/><circle cx="656.2" cy="215.3" r="1.85"/><circle cx="677.3" cy="237.0" r="1.85"/><circle cx="673.1" cy="231.3" r="1.85"/><circle cx="660.4" cy="233.6" r="1.85"/><circle cx="675.4" cy="218.4" r="1.85"/><circle cx="677.6" cy="243.2" r="1.85"/><circle cx="652.2" cy="221.7" r="1.85"/><circle cx="656.8" cy="218.9" r="1.85"/><circle cx="671.0" cy="244.0" r="1.85"/><circle cx="654.4" cy="245.3" r="1.85"/><circle cx="678.0" cy="216.0" r="1.85"/><circle cx="646.5" cy="238.1" r="1.85"/><circle cx="652.7" cy="230.7" r="1.85"/><circle cx="678.5" cy="212.8" r="1.85"/><circle cx="682.6" cy="243.6" r="1.85"/><circle cx="644.6" cy="234.8" r="1.85"/><circle cx="665.3" cy="221.8" r="1.85"/><circle cx="653.3" cy="237.0" r="1.85"/><circle cx="656.3" cy="218.8" r="1.85"/><circle cx="666.4" cy="241.1" r="1.85"/><circle cx="659.7" cy="235.5" r="1.85"/><circle cx="679.5" cy="220.3" r="1.85"/><circle cx="657.3" cy="214.5" r="1.85"/><circle cx="683.7" cy="243.0" r="1.85"/><circle cx="652.0" cy="230.4" r="1.85"/><circle cx="652.3" cy="223.8" r="1.85"/><circle cx="641.4" cy="228.3" r="1.85"/><circle cx="668.2" cy="224.1" r="1.85"/><circle cx="677.6" cy="233.3" r="1.85"/><circle cx="678.4" cy="243.7" r="1.85"/><circle cx="647.1" cy="243.6" r="1.85"/><circle cx="673.3" cy="233.2" r="1.85"/><circle cx="670.3" cy="213.6" r="1.85"/><circle cx="648.7" cy="215.7" r="1.85"/><circle cx="672.6" cy="239.0" r="1.85"/><circle cx="681.3" cy="222.3" r="1.85"/><circle cx="645.6" cy="235.4" r="1.85"/><circle cx="670.1" cy="209.9" r="1.85"/><circle cx="648.5" cy="209.1" r="1.85"/><circle cx="652.1" cy="220.3" r="1.85"/><circle cx="659.8" cy="232.0" r="1.85"/><circle cx="640.3" cy="243.3" r="1.85"/><circle cx="675.0" cy="238.7" r="1.85"/><circle cx="661.9" cy="214.8" r="1.85"/><circle cx="668.4" cy="210.3" r="1.85"/><circle cx="658.7" cy="244.7" r="1.85"/><circle cx="671.5" cy="231.4" r="1.85"/><circle cx="646.5" cy="242.2" r="1.85"/><circle cx="671.9" cy="215.6" r="1.85"/><circle cx="675.3" cy="216.5" r="1.85"/><circle cx="653.1" cy="243.5" r="1.85"/><circle cx="679.4" cy="234.8" r="1.85"/><circle cx="661.2" cy="213.1" r="1.85"/><circle cx="666.4" cy="213.5" r="1.85"/><circle cx="664.4" cy="216.0" r="1.85"/><circle cx="642.2" cy="226.2" r="1.85"/><circle cx="639.9" cy="244.4" r="1.85"/><circle cx="645.1" cy="215.8" r="1.85"/><circle cx="679.9" cy="213.1" r="1.85"/><circle cx="664.2" cy="213.3" r="1.85"/><circle cx="644.8" cy="234.5" r="1.85"/><circle cx="660.2" cy="234.5" r="1.85"/><circle cx="680.5" cy="211.1" r="1.85"/><circle cx="665.8" cy="218.8" r="1.85"/><circle cx="666.3" cy="221.3" r="1.85"/><circle cx="648.9" cy="222.4" r="1.85"/><circle cx="674.6" cy="227.2" r="1.85"/><circle cx="652.7" cy="208.9" r="1.85"/><circle cx="640.8" cy="230.4" r="1.85"/><circle cx="669.8" cy="220.4" r="1.85"/><circle cx="680.1" cy="222.7" r="1.85"/><circle cx="679.0" cy="214.1" r="1.85"/><circle cx="647.3" cy="210.5" r="1.85"/><circle cx="666.1" cy="215.1" r="1.85"/><circle cx="649.8" cy="240.9" r="1.85"/><circle cx="642.0" cy="231.2" r="1.85"/><circle cx="642.7" cy="222.8" r="1.85"/><circle cx="667.9" cy="227.7" r="1.85"/><circle cx="674.1" cy="217.5" r="1.85"/><circle cx="662.5" cy="242.9" r="1.85"/><circle cx="677.2" cy="241.2" r="1.85"/><circle cx="673.0" cy="234.8" r="1.85"/><circle cx="652.6" cy="231.9" r="1.85"/><circle cx="647.0" cy="231.9" r="1.85"/><circle cx="662.9" cy="236.8" r="1.85"/><circle cx="673.5" cy="239.5" r="1.85"/><circle cx="687.0" cy="245.0" r="1.85"/><circle cx="662.6" cy="209.9" r="1.85"/><circle cx="661.5" cy="236.0" r="1.85"/><circle cx="646.6" cy="229.3" r="1.85"/><circle cx="678.7" cy="212.5" r="1.85"/><circle cx="660.7" cy="234.5" r="1.85"/><circle cx="642.4" cy="238.7" r="1.85"/><circle cx="660.8" cy="210.4" r="1.85"/><circle cx="652.7" cy="213.4" r="1.85"/><circle cx="671.6" cy="224.8" r="1.85"/><circle cx="656.6" cy="215.2" r="1.85"/><circle cx="656.1" cy="243.0" r="1.85"/><circle cx="665.9" cy="219.5" r="1.85"/><circle cx="657.5" cy="227.1" r="1.85"/><circle cx="674.1" cy="231.9" r="1.85"/><circle cx="681.0" cy="241.3" r="1.85"/><circle cx="677.5" cy="228.4" r="1.85"/><circle cx="672.9" cy="215.8" r="1.85"/><circle cx="677.1" cy="214.8" r="1.85"/><circle cx="668.9" cy="215.5" r="1.85"/><circle cx="671.3" cy="219.6" r="1.85"/><circle cx="650.4" cy="234.1" r="1.85"/><circle cx="685.1" cy="235.9" r="1.85"/><circle cx="677.1" cy="237.6" r="1.85"/><circle cx="658.4" cy="225.1" r="1.85"/><circle cx="655.5" cy="236.7" r="1.85"/><circle cx="665.5" cy="222.6" r="1.85"/><circle cx="683.4" cy="231.6" r="1.85"/><circle cx="670.6" cy="213.0" r="1.85"/><circle cx="649.9" cy="210.0" r="1.85"/><circle cx="652.5" cy="224.5" r="1.85"/><circle cx="665.2" cy="230.5" r="1.85"/><circle cx="662.3" cy="218.0" r="1.85"/><circle cx="662.1" cy="229.4" r="1.85"/><circle cx="652.9" cy="218.7" r="1.85"/><circle cx="652.5" cy="238.0" r="1.85"/><circle cx="668.9" cy="217.7" r="1.85"/><circle cx="649.7" cy="222.0" r="1.85"/><circle cx="678.4" cy="221.9" r="1.85"/><circle cx="644.7" cy="241.5" r="1.85"/><circle cx="673.2" cy="234.3" r="1.85"/><circle cx="658.0" cy="212.2" r="1.85"/><circle cx="670.5" cy="227.2" r="1.85"/><circle cx="685.5" cy="237.8" r="1.85"/><circle cx="672.0" cy="233.8" r="1.85"/><circle cx="683.9" cy="229.9" r="1.85"/><circle cx="673.7" cy="214.6" r="1.85"/><circle cx="663.6" cy="217.1" r="1.85"/><circle cx="677.8" cy="227.6" r="1.85"/><circle cx="645.6" cy="239.6" r="1.85"/><circle cx="679.4" cy="243.1" r="1.85"/><circle cx="662.1" cy="208.8" r="1.85"/><circle cx="639.8" cy="234.7" r="1.85"/><circle cx="675.9" cy="233.4" r="1.85"/><circle cx="637.3" cy="230.5" r="1.85"/><circle cx="663.5" cy="229.5" r="1.85"/><circle cx="663.9" cy="223.5" r="1.85"/><circle cx="682.5" cy="228.2" r="1.85"/><circle cx="649.9" cy="232.9" r="1.85"/><circle cx="637.2" cy="222.4" r="1.85"/><circle cx="675.4" cy="209.3" r="1.85"/><circle cx="688.1" cy="224.4" r="1.85"/><circle cx="656.5" cy="227.3" r="1.85"/><circle cx="634.2" cy="232.8" r="1.85"/><circle cx="682.8" cy="215.8" r="1.85"/><circle cx="645.9" cy="240.8" r="1.85"/><circle cx="689.0" cy="236.8" r="1.85"/><circle cx="689.4" cy="226.1" r="1.85"/><circle cx="658.3" cy="217.3" r="1.85"/><circle cx="653.0" cy="209.9" r="1.85"/><circle cx="644.4" cy="226.0" r="1.85"/><circle cx="650.1" cy="240.9" r="1.85"/><circle cx="644.6" cy="213.8" r="1.85"/><circle cx="657.9" cy="239.0" r="1.85"/><circle cx="676.7" cy="232.2" r="1.85"/><circle cx="647.8" cy="235.8" r="1.85"/><circle cx="677.4" cy="239.1" r="1.85"/><circle cx="682.1" cy="222.4" r="1.85"/><circle cx="641.3" cy="234.7" r="1.85"/><circle cx="646.1" cy="219.1" r="1.85"/><circle cx="640.2" cy="222.7" r="1.85"/><circle cx="681.6" cy="211.9" r="1.85"/><circle cx="648.1" cy="213.4" r="1.85"/><circle cx="632.8" cy="227.1" r="1.85"/><circle cx="644.6" cy="234.8" r="1.85"/><circle cx="650.5" cy="223.4" r="1.85"/><circle cx="634.3" cy="229.4" r="1.85"/><circle cx="636.5" cy="242.5" r="1.85"/><circle cx="678.5" cy="225.8" r="1.85"/><circle cx="675.0" cy="242.5" r="1.85"/><circle cx="639.5" cy="223.2" r="1.85"/><circle cx="651.5" cy="242.4" r="1.85"/><circle cx="688.2" cy="229.1" r="1.85"/><circle cx="658.5" cy="242.8" r="1.85"/><circle cx="647.6" cy="209.8" r="1.85"/><circle cx="693.3" cy="236.1" r="1.85"/><circle cx="643.9" cy="218.2" r="1.85"/><circle cx="663.7" cy="220.2" r="1.85"/><circle cx="650.9" cy="232.9" r="1.85"/><circle cx="651.9" cy="213.8" r="1.85"/><circle cx="654.0" cy="236.8" r="1.85"/><circle cx="646.3" cy="219.1" r="1.85"/><circle cx="650.8" cy="232.4" r="1.85"/><circle cx="650.1" cy="211.6" r="1.85"/><circle cx="663.7" cy="218.2" r="1.85"/><circle cx="656.8" cy="233.7" r="1.85"/><circle cx="643.8" cy="210.3" r="1.85"/><circle cx="685.1" cy="211.4" r="1.85"/><circle cx="684.0" cy="243.1" r="1.85"/><circle cx="661.1" cy="223.0" r="1.85"/><circle cx="675.7" cy="233.2" r="1.85"/><circle cx="662.5" cy="210.4" r="1.85"/><circle cx="654.2" cy="243.7" r="1.85"/><circle cx="652.3" cy="214.4" r="1.85"/><circle cx="646.4" cy="244.2" r="1.85"/><circle cx="676.3" cy="237.6" r="1.85"/><circle cx="679.9" cy="242.6" r="1.85"/><circle cx="637.8" cy="228.3" r="1.85"/><circle cx="667.0" cy="209.6" r="1.85"/><circle cx="638.6" cy="238.9" r="1.85"/><circle cx="681.1" cy="234.2" r="1.85"/><circle cx="654.6" cy="213.0" r="1.85"/><circle cx="677.3" cy="223.0" r="1.85"/><circle cx="652.1" cy="208.7" r="1.85"/><circle cx="666.0" cy="222.1" r="1.85"/><circle cx="646.8" cy="233.9" r="1.85"/><circle cx="676.8" cy="229.4" r="1.85"/><circle cx="692.6" cy="231.3" r="1.85"/><circle cx="659.4" cy="241.5" r="1.85"/><circle cx="679.9" cy="215.9" r="1.85"/><circle cx="650.1" cy="227.6" r="1.85"/><circle cx="663.0" cy="218.8" r="1.85"/><circle cx="661.4" cy="194.1" r="1.85"/><circle cx="665.5" cy="191.2" r="1.85"/><circle cx="663.8" cy="182.4" r="1.85"/><circle cx="661.0" cy="188.7" r="1.85"/><circle cx="666.0" cy="173.4" r="1.85"/><circle cx="665.4" cy="181.8" r="1.85"/><circle cx="664.7" cy="179.3" r="1.85"/><circle cx="664.7" cy="190.9" r="1.85"/><circle cx="661.3" cy="184.6" r="1.85"/><circle cx="660.5" cy="198.6" r="1.85"/><circle cx="660.4" cy="180.9" r="1.85"/><circle cx="660.6" cy="199.9" r="1.85"/><circle cx="664.0" cy="201.4" r="1.85"/><circle cx="662.1" cy="171.1" r="1.85"/><circle cx="664.3" cy="173.0" r="1.85"/><circle cx="665.4" cy="206.8" r="1.85"/><circle cx="661.3" cy="198.3" r="1.85"/><circle cx="660.8" cy="201.4" r="1.85"/><circle cx="666.1" cy="181.9" r="1.85"/><circle cx="661.2" cy="191.9" r="1.85"/><circle cx="660.7" cy="186.2" r="1.85"/><circle cx="662.7" cy="192.1" r="1.85"/><circle cx="666.0" cy="176.9" r="1.85"/><circle cx="666.1" cy="174.1" r="1.85"/><circle cx="664.7" cy="184.2" r="1.85"/><circle cx="662.7" cy="177.3" r="1.85"/><circle cx="664.6" cy="189.3" r="1.85"/><circle cx="661.4" cy="179.0" r="1.85"/><circle cx="664.1" cy="190.7" r="1.85"/><circle cx="660.8" cy="188.2" r="1.85"/><circle cx="661.8" cy="178.8" r="1.85"/><circle cx="663.1" cy="199.8" r="1.85"/><circle cx="661.8" cy="181.0" r="1.85"/><circle cx="665.6" cy="171.3" r="1.85"/><circle cx="665.1" cy="183.8" r="1.85"/><circle cx="660.0" cy="208.2" r="1.85"/><circle cx="660.7" cy="184.6" r="1.85"/><circle cx="662.5" cy="183.2" r="1.85"/><circle cx="664.3" cy="173.6" r="1.85"/><circle cx="664.2" cy="191.7" r="1.85"/></g><g fill="#1f4ea0"><circle cx="604.4" cy="116.8" r="1.85"/><circle cx="619.8" cy="129.5" r="1.85"/><circle cx="640.5" cy="127.4" r="1.85"/><circle cx="627.2" cy="146.9" r="1.85"/><circle cx="619.8" cy="151.3" r="1.85"/><circle cx="631.8" cy="149.5" r="1.85"/><circle cx="656.9" cy="146.3" r="1.85"/><circle cx="650.4" cy="154.8" r="1.85"/><circle cx="638.4" cy="166.7" r="1.85"/><circle cx="634.5" cy="177.8" r="1.85"/><circle cx="642.4" cy="178.2" r="1.85"/><circle cx="656.9" cy="165.4" r="1.85"/><circle cx="656.0" cy="168.1" r="1.85"/><circle cx="653.9" cy="175.2" r="1.85"/><circle cx="656.9" cy="172.5" r="1.85"/><circle cx="641.9" cy="196.9" r="1.85"/><circle cx="645.8" cy="194.1" r="1.85"/><circle cx="645.1" cy="199.9" r="1.85"/><circle cx="653.9" cy="207.2" r="1.85"/><circle cx="652.0" cy="191.3" r="1.85"/><circle cx="653.5" cy="179.8" r="1.85"/><circle cx="654.7" cy="178.3" r="1.85"/><circle cx="653.8" cy="176.3" r="1.85"/><circle cx="655.0" cy="191.9" r="1.85"/><circle cx="653.3" cy="194.7" r="1.85"/><circle cx="654.9" cy="192.8" r="1.85"/><circle cx="654.0" cy="194.2" r="1.85"/><circle cx="656.5" cy="196.9" r="1.85"/><circle cx="655.4" cy="194.0" r="1.85"/><circle cx="654.2" cy="193.5" r="1.85"/><circle cx="651.1" cy="192.6" r="1.85"/><circle cx="655.0" cy="187.1" r="1.85"/><circle cx="657.1" cy="183.7" r="1.85"/><circle cx="657.1" cy="183.7" r="1.85"/><circle cx="656.3" cy="186.2" r="1.85"/><circle cx="653.4" cy="202.2" r="1.85"/><circle cx="654.3" cy="180.3" r="1.85"/><circle cx="654.4" cy="174.1" r="1.85"/><circle cx="656.6" cy="192.6" r="1.85"/><circle cx="652.1" cy="190.3" r="1.85"/><circle cx="657.4" cy="179.8" r="1.85"/><circle cx="654.3" cy="186.8" r="1.85"/><circle cx="651.9" cy="207.8" r="1.85"/><circle cx="656.9" cy="187.3" r="1.85"/><circle cx="650.3" cy="195.7" r="1.85"/><circle cx="657.1" cy="167.8" r="1.85"/><circle cx="656.7" cy="191.0" r="1.85"/><circle cx="656.0" cy="205.7" r="1.85"/><circle cx="657.2" cy="204.0" r="1.85"/><circle cx="656.9" cy="184.4" r="1.85"/><circle cx="652.2" cy="205.2" r="1.85"/><circle cx="651.6" cy="208.4" r="1.85"/><circle cx="656.8" cy="182.9" r="1.85"/><circle cx="656.3" cy="205.7" r="1.85"/><circle cx="653.7" cy="180.2" r="1.85"/><circle cx="655.0" cy="170.5" r="1.85"/><circle cx="656.4" cy="191.2" r="1.85"/><circle cx="654.0" cy="193.3" r="1.85"/><circle cx="655.9" cy="175.8" r="1.85"/><circle cx="652.7" cy="199.7" r="1.85"/><circle cx="656.1" cy="195.2" r="1.85"/><circle cx="656.8" cy="199.4" r="1.85"/><circle cx="652.8" cy="186.2" r="1.85"/><circle cx="653.3" cy="178.5" r="1.85"/><circle cx="656.7" cy="168.3" r="1.85"/><circle cx="655.0" cy="188.9" r="1.85"/><circle cx="652.9" cy="185.1" r="1.85"/><circle cx="655.3" cy="194.5" r="1.85"/><circle cx="654.0" cy="208.3" r="1.85"/><circle cx="654.0" cy="175.3" r="1.85"/><circle cx="652.2" cy="203.5" r="1.85"/><circle cx="656.9" cy="199.3" r="1.85"/><circle cx="655.6" cy="196.0" r="1.85"/><circle cx="655.1" cy="179.3" r="1.85"/><circle cx="655.6" cy="196.2" r="1.85"/><circle cx="656.1" cy="180.6" r="1.85"/><circle cx="654.4" cy="191.7" r="1.85"/><circle cx="651.7" cy="205.9" r="1.85"/><circle cx="655.5" cy="172.9" r="1.85"/><circle cx="655.4" cy="203.3" r="1.85"/><circle cx="650.5" cy="195.6" r="1.85"/><circle cx="650.9" cy="199.9" r="1.85"/><circle cx="656.2" cy="187.1" r="1.85"/></g><g fill="#e3201c"><circle cx="673.4" cy="116.3" r="1.85"/><circle cx="670.2" cy="135.9" r="1.85"/><circle cx="676.4" cy="136.8" r="1.85"/><circle cx="672.0" cy="151.3" r="1.85"/><circle cx="673.4" cy="152.5" r="1.85"/><circle cx="671.1" cy="157.5" r="1.85"/><circle cx="678.1" cy="164.5" r="1.85"/><circle cx="670.2" cy="164.5" r="1.85"/><circle cx="675.5" cy="177.3" r="1.85"/><circle cx="682.6" cy="182.4" r="1.85"/><circle cx="687.0" cy="188.1" r="1.85"/><circle cx="685.2" cy="192.0" r="1.85"/><circle cx="682.2" cy="196.9" r="1.85"/><circle cx="681.7" cy="206.1" r="1.85"/><circle cx="697.8" cy="160.5" r="1.85"/><circle cx="675.6" cy="183.2" r="1.85"/><circle cx="675.7" cy="205.7" r="1.85"/><circle cx="681.9" cy="208.2" r="1.85"/><circle cx="672.6" cy="184.0" r="1.85"/><circle cx="674.8" cy="196.3" r="1.85"/><circle cx="676.6" cy="207.3" r="1.85"/><circle cx="671.0" cy="185.0" r="1.85"/><circle cx="668.8" cy="175.0" r="1.85"/><circle cx="670.5" cy="168.1" r="1.85"/><circle cx="677.9" cy="197.6" r="1.85"/><circle cx="670.3" cy="163.2" r="1.85"/><circle cx="671.8" cy="174.0" r="1.85"/><circle cx="670.3" cy="177.2" r="1.85"/><circle cx="670.2" cy="185.9" r="1.85"/><circle cx="670.4" cy="176.6" r="1.85"/><circle cx="674.4" cy="195.9" r="1.85"/><circle cx="680.8" cy="201.2" r="1.85"/><circle cx="669.9" cy="164.2" r="1.85"/><circle cx="671.3" cy="171.1" r="1.85"/><circle cx="670.7" cy="208.3" r="1.85"/><circle cx="680.8" cy="204.5" r="1.85"/><circle cx="681.2" cy="198.9" r="1.85"/><circle cx="674.0" cy="196.0" r="1.85"/><circle cx="672.7" cy="180.3" r="1.85"/><circle cx="670.3" cy="165.7" r="1.85"/><circle cx="673.4" cy="187.8" r="1.85"/><circle cx="677.7" cy="197.9" r="1.85"/><circle cx="671.3" cy="177.0" r="1.85"/><circle cx="678.5" cy="207.1" r="1.85"/><circle cx="669.2" cy="182.5" r="1.85"/><circle cx="677.8" cy="206.3" r="1.85"/><circle cx="673.7" cy="189.8" r="1.85"/><circle cx="669.5" cy="204.9" r="1.85"/><circle cx="671.3" cy="172.4" r="1.85"/><circle cx="678.1" cy="189.5" r="1.85"/><circle cx="670.8" cy="165.8" r="1.85"/><circle cx="675.7" cy="182.4" r="1.85"/><circle cx="671.3" cy="205.7" r="1.85"/><circle cx="669.7" cy="183.9" r="1.85"/><circle cx="671.2" cy="172.7" r="1.85"/><circle cx="671.8" cy="167.0" r="1.85"/><circle cx="672.2" cy="191.2" r="1.85"/><circle cx="672.2" cy="206.8" r="1.85"/><circle cx="669.5" cy="196.8" r="1.85"/><circle cx="672.9" cy="199.5" r="1.85"/><circle cx="680.3" cy="201.6" r="1.85"/><circle cx="675.2" cy="196.3" r="1.85"/><circle cx="675.9" cy="197.4" r="1.85"/><circle cx="672.5" cy="194.5" r="1.85"/><circle cx="677.5" cy="201.4" r="1.85"/><circle cx="670.9" cy="207.0" r="1.85"/><circle cx="670.3" cy="199.7" r="1.85"/><circle cx="670.4" cy="161.0" r="1.85"/><circle cx="669.0" cy="200.7" r="1.85"/><circle cx="677.7" cy="185.7" r="1.85"/><circle cx="674.1" cy="201.3" r="1.85"/><circle cx="670.2" cy="196.9" r="1.85"/><circle cx="670.5" cy="201.4" r="1.85"/><circle cx="670.8" cy="167.2" r="1.85"/><circle cx="670.6" cy="201.9" r="1.85"/><circle cx="677.9" cy="200.9" r="1.85"/><circle cx="668.7" cy="206.1" r="1.85"/><circle cx="668.7" cy="172.7" r="1.85"/><circle cx="676.2" cy="196.7" r="1.85"/><circle cx="678.9" cy="182.6" r="1.85"/><circle cx="669.9" cy="169.3" r="1.85"/><circle cx="669.5" cy="166.0" r="1.85"/><circle cx="669.0" cy="156.4" r="1.85"/><circle cx="681.2" cy="206.5" r="1.85"/><circle cx="680.0" cy="188.7" r="1.85"/><circle cx="680.3" cy="188.9" r="1.85"/><circle cx="672.1" cy="171.0" r="1.85"/><circle cx="670.4" cy="173.9" r="1.85"/><circle cx="673.6" cy="197.0" r="1.85"/><circle cx="675.1" cy="203.6" r="1.85"/><circle cx="668.6" cy="198.3" r="1.85"/><circle cx="671.2" cy="199.3" r="1.85"/><circle cx="671.6" cy="205.0" r="1.85"/><circle cx="669.3" cy="186.6" r="1.85"/><circle cx="673.4" cy="205.3" r="1.85"/><circle cx="672.7" cy="204.4" r="1.85"/><circle cx="676.9" cy="192.7" r="1.85"/><circle cx="671.2" cy="173.2" r="1.85"/><circle cx="669.3" cy="179.4" r="1.85"/><circle cx="675.2" cy="205.3" r="1.85"/><circle cx="673.0" cy="202.2" r="1.85"/><circle cx="673.9" cy="189.7" r="1.85"/><circle cx="678.6" cy="201.0" r="1.85"/><circle cx="680.0" cy="201.4" r="1.85"/><circle cx="678.5" cy="191.5" r="1.85"/><circle cx="675.0" cy="205.6" r="1.85"/><circle cx="680.9" cy="205.5" r="1.85"/><circle cx="678.9" cy="200.8" r="1.85"/><circle cx="676.9" cy="207.1" r="1.85"/><circle cx="670.6" cy="172.7" r="1.85"/><circle cx="671.9" cy="188.7" r="1.85"/><circle cx="675.5" cy="204.8" r="1.85"/><circle cx="679.3" cy="198.0" r="1.85"/><circle cx="677.6" cy="193.1" r="1.85"/><circle cx="670.5" cy="208.1" r="1.85"/><circle cx="680.8" cy="188.2" r="1.85"/><circle cx="681.9" cy="204.0" r="1.85"/><circle cx="668.8" cy="162.7" r="1.85"/><circle cx="672.4" cy="185.5" r="1.85"/><circle cx="673.6" cy="197.2" r="1.85"/><circle cx="669.6" cy="158.3" r="1.85"/><circle cx="672.3" cy="174.2" r="1.85"/><circle cx="669.7" cy="179.1" r="1.85"/><circle cx="681.6" cy="187.0" r="1.85"/><circle cx="679.1" cy="201.4" r="1.85"/><circle cx="681.4" cy="187.6" r="1.85"/><circle cx="672.0" cy="177.2" r="1.85"/><circle cx="671.0" cy="192.9" r="1.85"/><circle cx="677.0" cy="185.2" r="1.85"/><circle cx="673.1" cy="186.8" r="1.85"/></g>
<line x1="659.80" y1="35.50" x2="659.80" y2="256.00" stroke="#f3b13a" stroke-width="1.3" stroke-dasharray="8.3 6.35" stroke-dashoffset="3.6"/>
<line x1="666.80" y1="35.50" x2="666.80" y2="256.00" stroke="#f3b13a" stroke-width="1.3" stroke-dasharray="8.3 6.35" stroke-dashoffset="3.6"/>
<line x1="576.00" y1="208.4" x2="777.80" y2="208.4" stroke="#f3b13a" stroke-width="1.3" stroke-dasharray="8.3 6.06" stroke-dashoffset="3.2"/>
<line x1="575.40" y1="35.30" x2="575.40" y2="257.80" stroke="#2e2727" stroke-width="1.3" />
<line x1="574.90" y1="257.30" x2="777.80" y2="257.30" stroke="#2e2727" stroke-width="1.3" />
<line x1="572.20" y1="245.00" x2="575.40" y2="245.00" stroke="#2e2727" stroke-width="1.3" />
<text x="0" y="0" font-size="15.5" text-anchor="middle" fill="#1a1a1a" transform="translate(568.90 245.00) rotate(-90)" >0</text>
<line x1="572.20" y1="215.05" x2="575.40" y2="215.05" stroke="#2e2727" stroke-width="1.3" />
<text x="0" y="0" font-size="15.5" text-anchor="middle" fill="#1a1a1a" transform="translate(568.90 215.05) rotate(-90)" >1</text>
<line x1="572.20" y1="185.10" x2="575.40" y2="185.10" stroke="#2e2727" stroke-width="1.3" />
<text x="0" y="0" font-size="15.5" text-anchor="middle" fill="#1a1a1a" transform="translate(568.90 185.10) rotate(-90)" >2</text>
<line x1="572.20" y1="155.15" x2="575.40" y2="155.15" stroke="#2e2727" stroke-width="1.3" />
<text x="0" y="0" font-size="15.5" text-anchor="middle" fill="#1a1a1a" transform="translate(568.90 155.15) rotate(-90)" >3</text>
<line x1="572.20" y1="125.20" x2="575.40" y2="125.20" stroke="#2e2727" stroke-width="1.3" />
<text x="0" y="0" font-size="15.5" text-anchor="middle" fill="#1a1a1a" transform="translate(568.90 125.20) rotate(-90)" >4</text>
<line x1="572.20" y1="95.25" x2="575.40" y2="95.25" stroke="#2e2727" stroke-width="1.3" />
<text x="0" y="0" font-size="15.5" text-anchor="middle" fill="#1a1a1a" transform="translate(568.90 95.25) rotate(-90)" >5</text>
<line x1="572.20" y1="65.30" x2="575.40" y2="65.30" stroke="#2e2727" stroke-width="1.3" />
<text x="0" y="0" font-size="15.5" text-anchor="middle" fill="#1a1a1a" transform="translate(568.90 65.30) rotate(-90)" >6</text>
<line x1="572.20" y1="35.35" x2="575.40" y2="35.35" stroke="#2e2727" stroke-width="1.3" />
<line x1="604.20" y1="257.30" x2="604.20" y2="260.60" stroke="#2e2727" stroke-width="1.3" />
<text x="0" y="0" font-size="15" text-anchor="middle" fill="#1a1a1a" transform="translate(606.00 275.60) scale(1 1.05)" >-4</text>
<line x1="633.60" y1="257.30" x2="633.60" y2="260.60" stroke="#2e2727" stroke-width="1.3" />
<text x="0" y="0" font-size="15" text-anchor="middle" fill="#1a1a1a" transform="translate(635.40 275.60) scale(1 1.05)" >-2</text>
<line x1="663.00" y1="257.30" x2="663.00" y2="260.60" stroke="#2e2727" stroke-width="1.3" />
<text x="0" y="0" font-size="15" text-anchor="middle" fill="#1a1a1a" transform="translate(663.00 275.60) scale(1 1.05)" >0</text>
<line x1="692.40" y1="257.30" x2="692.40" y2="260.60" stroke="#2e2727" stroke-width="1.3" />
<text x="0" y="0" font-size="15" text-anchor="middle" fill="#1a1a1a" transform="translate(692.40 275.60) scale(1 1.05)" >2</text>
<line x1="721.80" y1="257.30" x2="721.80" y2="260.60" stroke="#2e2727" stroke-width="1.3" />
<text x="0" y="0" font-size="15" text-anchor="middle" fill="#1a1a1a" transform="translate(721.80 275.60) scale(1 1.05)" >4</text>
<line x1="751.20" y1="257.30" x2="751.20" y2="260.60" stroke="#2e2727" stroke-width="1.3" />
<text x="0" y="0" font-size="15" text-anchor="middle" fill="#1a1a1a" transform="translate(751.20 275.60) scale(1 1.05)" >6</text>
<text x="0" y="0" font-size="16" text-anchor="middle" fill="#222" transform="translate(682.20 299.20) scale(1 1.06)" >Log<tspan font-size="10" dy="4.8">2</tspan><tspan dy="-4.8"> Ratio(T120/T30)</tspan></text>
<text x="0" y="0" font-size="16" text-anchor="middle" fill="#222" transform="translate(549.60 151.50) rotate(-90) scale(1 1.05)" >-Log<tspan font-size="10.5" dy="5.2">10</tspan><tspan dy="-5.2"> </tspan><tspan font-style="italic">p</tspan>-value</text>
<text x="0" y="0" font-size="15.8" text-anchor="start" fill="#1a1a1a" transform="translate(579.00 44.70)" >down: 109</text>
<text x="0" y="0" font-size="15.8" text-anchor="start" fill="#1a1a1a" transform="translate(671.40 44.70)" >up: 199</text>
<text x="0" y="0" font-size="27" text-anchor="start" fill="#000" transform="translate(526.00 29.60)" >C</text>
<rect x="89.55" y="407.50" width="27.5" height="153.30" fill="#3f3f3f"/>
<rect x="157.45" y="503.70" width="27.5" height="57.10" fill="#3f3f3f"/>
<rect x="225.25" y="511.20" width="27.5" height="49.60" fill="#3f3f3f"/>
<line x1="103.30" y1="379.40" x2="103.30" y2="435.50" stroke="#111" stroke-width="1.5" />
<line x1="99.30" y1="379.40" x2="107.30" y2="379.40" stroke="#111" stroke-width="1.5" />
<line x1="99.30" y1="435.50" x2="107.30" y2="435.50" stroke="#111" stroke-width="1.5" />
<line x1="171.20" y1="484.60" x2="171.20" y2="523.10" stroke="#111" stroke-width="1.5" />
<line x1="167.20" y1="484.60" x2="175.20" y2="484.60" stroke="#111" stroke-width="1.5" />
<line x1="167.20" y1="523.10" x2="175.20" y2="523.10" stroke="#111" stroke-width="1.5" />
<line x1="239.00" y1="505.80" x2="239.00" y2="516.10" stroke="#111" stroke-width="1.5" />
<line x1="235.00" y1="505.80" x2="243.00" y2="505.80" stroke="#111" stroke-width="1.5" />
<line x1="235.00" y1="516.10" x2="243.00" y2="516.10" stroke="#111" stroke-width="1.5" />
<line x1="69.60" y1="352.30" x2="69.60" y2="561.30" stroke="#2e2727" stroke-width="1.3" />
<line x1="69.10" y1="560.80" x2="272.00" y2="560.80" stroke="#2e2727" stroke-width="1.3" />
<line x1="66.10" y1="560.80" x2="69.60" y2="560.80" stroke="#2e2727" stroke-width="1.3" />
<text x="0" y="0" font-size="14" text-anchor="end" fill="#1a1a1a" transform="translate(60.40 565.80) scale(1 1.19)" >0</text>
<line x1="66.10" y1="531.01" x2="69.60" y2="531.01" stroke="#2e2727" stroke-width="1.3" />
<text x="0" y="0" font-size="14" text-anchor="end" fill="#1a1a1a" transform="translate(60.40 536.01) scale(1 1.19)" >2</text>
<line x1="66.10" y1="501.23" x2="69.60" y2="501.23" stroke="#2e2727" stroke-width="1.3" />
<text x="0" y="0" font-size="14" text-anchor="end" fill="#1a1a1a" transform="translate(60.40 506.23) scale(1 1.19)" >4</text>
<line x1="66.10" y1="471.44" x2="69.60" y2="471.44" stroke="#2e2727" stroke-width="1.3" />
<text x="0" y="0" font-size="14" text-anchor="end" fill="#1a1a1a" transform="translate(60.40 476.44) scale(1 1.19)" >6</text>
<line x1="66.10" y1="441.66" x2="69.60" y2="441.66" stroke="#2e2727" stroke-width="1.3" />
<text x="0" y="0" font-size="14" text-anchor="end" fill="#1a1a1a" transform="translate(60.40 446.66) scale(1 1.19)" >8</text>
<line x1="66.10" y1="411.87" x2="69.60" y2="411.87" stroke="#2e2727" stroke-width="1.3" />
<text x="0" y="0" font-size="14" text-anchor="end" fill="#1a1a1a" transform="translate(60.40 416.87) scale(1 1.19)" >10</text>
<line x1="66.10" y1="382.09" x2="69.60" y2="382.09" stroke="#2e2727" stroke-width="1.3" />
<text x="0" y="0" font-size="14" text-anchor="end" fill="#1a1a1a" transform="translate(60.40 387.09) scale(1 1.19)" >12</text>
<line x1="66.10" y1="352.30" x2="69.60" y2="352.30" stroke="#2e2727" stroke-width="1.3" />
<text x="0" y="0" font-size="14" text-anchor="end" fill="#1a1a1a" transform="translate(60.40 357.30) scale(1 1.19)" >14</text>
<line x1="137.30" y1="560.80" x2="137.30" y2="565.00" stroke="#2e2727" stroke-width="1.3" />
<line x1="204.60" y1="560.80" x2="204.60" y2="565.00" stroke="#2e2727" stroke-width="1.3" />
<line x1="272.00" y1="560.80" x2="272.00" y2="565.00" stroke="#2e2727" stroke-width="1.3" />
<text x="0" y="0" font-size="14.5" text-anchor="middle" fill="#1a1a1a" transform="translate(104.50 583.00) scale(1 1.08)" >T0</text>
<text x="0" y="0" font-size="14.5" text-anchor="middle" fill="#1a1a1a" transform="translate(170.20 583.00) scale(1 1.08)" >T30</text>
<text x="0" y="0" font-size="14.5" text-anchor="middle" fill="#1a1a1a" transform="translate(240.20 583.00) scale(1 1.08)" >T120</text>
<text x="0" y="0" font-size="16" text-anchor="middle" fill="#1a1a1a" transform="translate(40.50 455.00) rotate(-90)" >Peak area (10^5)</text>
<text x="0" y="0" font-size="16" text-anchor="start" fill="#111" transform="translate(58.00 611.30) scale(1 1.07)" >AHGTDP<tspan fill="#e8212a">S(55)</tspan>PPMSPILGATR</text>
<line x1="102.80" y1="366.90" x2="170.80" y2="366.90" stroke="#352a28" stroke-width="1.6" />
<polygon points="134.50,356.70 135.23,358.19 136.88,358.43 135.69,359.59 135.97,361.22 134.50,360.45 133.03,361.22 133.31,359.59 132.12,358.43 133.77,358.19" fill="#222"/>
<polygon points="140.30,356.70 141.03,358.19 142.68,358.43 141.49,359.59 141.77,361.22 140.30,360.45 138.83,361.22 139.11,359.59 137.92,358.43 139.57,358.19" fill="#222"/>
<line x1="102.80" y1="347.10" x2="239.90" y2="347.10" stroke="#352a28" stroke-width="1.6" />
<polygon points="168.70,337.50 169.43,338.99 171.08,339.23 169.89,340.39 170.17,342.02 168.70,341.25 167.23,342.02 167.51,340.39 166.32,339.23 167.97,338.99" fill="#222"/>
<polygon points="174.50,337.50 175.23,338.99 176.88,339.23 175.69,340.39 175.97,342.02 174.50,341.25 173.03,342.02 173.31,340.39 172.12,339.23 173.77,338.99" fill="#222"/>
<text x="0" y="0" font-size="27" text-anchor="start" fill="#000" transform="translate(16.30 330.20)" >D</text>
<rect x="344.55" y="381.00" width="27.5" height="180.00" fill="#3f3f3f"/>
<rect x="411.05" y="488.40" width="27.5" height="72.60" fill="#3f3f3f"/>
<rect x="478.85" y="390.40" width="27.5" height="170.60" fill="#3f3f3f"/>
<line x1="358.30" y1="375.40" x2="358.30" y2="385.50" stroke="#111" stroke-width="1.5" />
<line x1="354.30" y1="375.40" x2="362.30" y2="375.40" stroke="#111" stroke-width="1.5" />
<line x1="354.30" y1="385.50" x2="362.30" y2="385.50" stroke="#111" stroke-width="1.5" />
<line x1="424.80" y1="435.50" x2="424.80" y2="540.80" stroke="#111" stroke-width="1.5" />
<line x1="420.80" y1="435.50" x2="428.80" y2="435.50" stroke="#111" stroke-width="1.5" />
<line x1="420.80" y1="540.80" x2="428.80" y2="540.80" stroke="#111" stroke-width="1.5" />
<line x1="492.60" y1="364.60" x2="492.60" y2="415.70" stroke="#111" stroke-width="1.5" />
<line x1="488.60" y1="364.60" x2="496.60" y2="364.60" stroke="#111" stroke-width="1.5" />
<line x1="488.60" y1="415.70" x2="496.60" y2="415.70" stroke="#111" stroke-width="1.5" />
<line x1="323.40" y1="353.70" x2="323.40" y2="561.50" stroke="#2e2727" stroke-width="1.3" />
<line x1="322.90" y1="561.00" x2="525.00" y2="561.00" stroke="#2e2727" stroke-width="1.3" />
<line x1="319.90" y1="561.00" x2="323.40" y2="561.00" stroke="#2e2727" stroke-width="1.3" />
<text x="0" y="0" font-size="14" text-anchor="end" fill="#1a1a1a" transform="translate(314.20 566.00) scale(1 1.19)" >0</text>
<line x1="319.90" y1="526.45" x2="323.40" y2="526.45" stroke="#2e2727" stroke-width="1.3" />
<text x="0" y="0" font-size="14" text-anchor="end" fill="#1a1a1a" transform="translate(314.20 531.45) scale(1 1.19)" >5</text>
<line x1="319.90" y1="491.90" x2="323.40" y2="491.90" stroke="#2e2727" stroke-width="1.3" />
<text x="0" y="0" font-size="14" text-anchor="end" fill="#1a1a1a" transform="translate(314.20 496.90) scale(1 1.19)" >10</text>
<line x1="319.90" y1="457.35" x2="323.40" y2="457.35" stroke="#2e2727" stroke-width="1.3" />
<text x="0" y="0" font-size="14" text-anchor="end" fill="#1a1a1a" transform="translate(314.20 462.35) scale(1 1.19)" >15</text>
<line x1="319.90" y1="422.80" x2="323.40" y2="422.80" stroke="#2e2727" stroke-width="1.3" />
<text x="0" y="0" font-size="14" text-anchor="end" fill="#1a1a1a" transform="translate(314.20 427.80) scale(1 1.19)" >20</text>
<line x1="319.90" y1="388.25" x2="323.40" y2="388.25" stroke="#2e2727" stroke-width="1.3" />
<text x="0" y="0" font-size="14" text-anchor="end" fill="#1a1a1a" transform="translate(314.20 393.25) scale(1 1.19)" >25</text>
<line x1="319.90" y1="353.70" x2="323.40" y2="353.70" stroke="#2e2727" stroke-width="1.3" />
<text x="0" y="0" font-size="14" text-anchor="end" fill="#1a1a1a" transform="translate(314.20 358.70) scale(1 1.19)" >30</text>
<line x1="390.50" y1="561.00" x2="390.50" y2="565.20" stroke="#2e2727" stroke-width="1.3" />
<line x1="457.80" y1="561.00" x2="457.80" y2="565.20" stroke="#2e2727" stroke-width="1.3" />
<line x1="525.00" y1="561.00" x2="525.00" y2="565.20" stroke="#2e2727" stroke-width="1.3" />
<text x="0" y="0" font-size="14.5" text-anchor="middle" fill="#1a1a1a" transform="translate(359.50 583.00) scale(1 1.08)" >T0</text>
<text x="0" y="0" font-size="14.5" text-anchor="middle" fill="#1a1a1a" transform="translate(425.00 583.00) scale(1 1.08)" >T30</text>
<text x="0" y="0" font-size="14.5" text-anchor="middle" fill="#1a1a1a" transform="translate(495.00 583.00) scale(1 1.08)" >T120</text>
<text x="0" y="0" font-size="16" text-anchor="middle" fill="#1a1a1a" transform="translate(293.00 455.00) rotate(-90)" >Peak area (10^5)</text>
<text x="0" y="0" font-size="16" text-anchor="start" fill="#111" transform="translate(296.70 611.30) scale(1 1.07)" >RSYSPG<tspan fill="#e8212a">Y(209)</tspan>EGAAAAAPDRDR</text>
<line x1="358.70" y1="369.00" x2="424.60" y2="369.00" stroke="#352a28" stroke-width="1.6" />
<polygon points="391.30,359.10 392.03,360.59 393.68,360.83 392.49,361.99 392.77,363.62 391.30,362.85 389.83,363.62 390.11,361.99 388.92,360.83 390.57,360.59" fill="#222"/>
<line x1="424.60" y1="347.00" x2="492.40" y2="347.00" stroke="#352a28" stroke-width="1.6" />
<polygon points="457.60,336.90 458.33,338.39 459.98,338.63 458.79,339.79 459.07,341.42 457.60,340.65 456.13,341.42 456.41,339.79 455.22,338.63 456.87,338.39" fill="#222"/>
<text x="0" y="0" font-size="27" text-anchor="start" fill="#000" transform="translate(270.00 330.20)" >E</text>
<rect x="599.05" y="430.80" width="27.5" height="130.40" fill="#3f3f3f"/>
<rect x="665.55" y="414.50" width="27.5" height="146.70" fill="#3f3f3f"/>
<rect x="733.45" y="422.00" width="27.5" height="139.20" fill="#3f3f3f"/>
<line x1="612.80" y1="420.00" x2="612.80" y2="441.40" stroke="#111" stroke-width="1.5" />
<line x1="608.80" y1="420.00" x2="616.80" y2="420.00" stroke="#111" stroke-width="1.5" />
<line x1="608.80" y1="441.40" x2="616.80" y2="441.40" stroke="#111" stroke-width="1.5" />
<line x1="679.30" y1="408.40" x2="679.30" y2="420.30" stroke="#111" stroke-width="1.5" />
<line x1="675.30" y1="408.40" x2="683.30" y2="408.40" stroke="#111" stroke-width="1.5" />
<line x1="675.30" y1="420.30" x2="683.30" y2="420.30" stroke="#111" stroke-width="1.5" />
<line x1="747.20" y1="385.60" x2="747.20" y2="458.80" stroke="#111" stroke-width="1.5" />
<line x1="743.20" y1="385.60" x2="751.20" y2="385.60" stroke="#111" stroke-width="1.5" />
<line x1="743.20" y1="458.80" x2="751.20" y2="458.80" stroke="#111" stroke-width="1.5" />
<line x1="577.30" y1="354.10" x2="577.30" y2="561.70" stroke="#2e2727" stroke-width="1.3" />
<line x1="576.80" y1="561.20" x2="780.00" y2="561.20" stroke="#2e2727" stroke-width="1.3" />
<line x1="573.80" y1="561.20" x2="577.30" y2="561.20" stroke="#2e2727" stroke-width="1.3" />
<text x="0" y="0" font-size="14" text-anchor="end" fill="#1a1a1a" transform="translate(568.10 566.20) scale(1 1.19)" >0</text>
<line x1="573.80" y1="519.78" x2="577.30" y2="519.78" stroke="#2e2727" stroke-width="1.3" />
<text x="0" y="0" font-size="14" text-anchor="end" fill="#1a1a1a" transform="translate(568.10 524.78) scale(1 1.19)" >3</text>
<line x1="573.80" y1="478.36" x2="577.30" y2="478.36" stroke="#2e2727" stroke-width="1.3" />
<text x="0" y="0" font-size="14" text-anchor="end" fill="#1a1a1a" transform="translate(568.10 483.36) scale(1 1.19)" >6</text>
<line x1="573.80" y1="436.94" x2="577.30" y2="436.94" stroke="#2e2727" stroke-width="1.3" />
<text x="0" y="0" font-size="14" text-anchor="end" fill="#1a1a1a" transform="translate(568.10 441.94) scale(1 1.19)" >9</text>
<line x1="573.80" y1="395.52" x2="577.30" y2="395.52" stroke="#2e2727" stroke-width="1.3" />
<text x="0" y="0" font-size="14" text-anchor="end" fill="#1a1a1a" transform="translate(568.10 400.52) scale(1 1.19)" >12</text>
<line x1="573.80" y1="354.10" x2="577.30" y2="354.10" stroke="#2e2727" stroke-width="1.3" />
<text x="0" y="0" font-size="14" text-anchor="end" fill="#1a1a1a" transform="translate(568.10 359.10) scale(1 1.19)" >15</text>
<line x1="645.00" y1="561.20" x2="645.00" y2="565.40" stroke="#2e2727" stroke-width="1.3" />
<line x1="712.70" y1="561.20" x2="712.70" y2="565.40" stroke="#2e2727" stroke-width="1.3" />
<line x1="780.00" y1="561.20" x2="780.00" y2="565.40" stroke="#2e2727" stroke-width="1.3" />
<text x="0" y="0" font-size="14.5" text-anchor="middle" fill="#1a1a1a" transform="translate(614.00 584.00) scale(1 1.08)" >T0</text>
<text x="0" y="0" font-size="14.5" text-anchor="middle" fill="#1a1a1a" transform="translate(679.00 584.00) scale(1 1.08)" >T30</text>
<text x="0" y="0" font-size="14.5" text-anchor="middle" fill="#1a1a1a" transform="translate(751.60 584.00) scale(1 1.08)" >T120</text>
<text x="0" y="0" font-size="16" text-anchor="middle" fill="#1a1a1a" transform="translate(547.00 455.00) rotate(-90)" >Peak area (10^4)</text>
<text x="0" y="0" font-size="16" text-anchor="start" fill="#111" transform="translate(579.90 611.30) scale(1 1.07)" >EATADMSEEF<tspan fill="#e8212a">S(125)</tspan>EGEK</text>
<text x="0" y="0" font-size="27" text-anchor="start" fill="#000" transform="translate(526.30 330.20)" >F</text>
</svg></body></html>
